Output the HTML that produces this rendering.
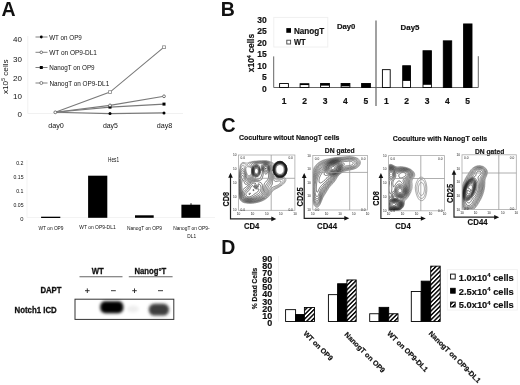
<!DOCTYPE html>
<html><head><meta charset="utf-8"><style>
html,body{margin:0;padding:0;background:#fff;overflow:hidden;}
svg{display:block;filter:grayscale(1);}
text{font-family:"Liberation Sans",sans-serif;fill:#111;}
.b{font-weight:bold;}
.s{stroke:#111;stroke-width:0.3;}
.s2{stroke:#111;stroke-width:0.18;}
</style></head><body>
<svg width="520" height="385" viewBox="0 0 520 385">
<defs>
<pattern id="hatch" patternUnits="userSpaceOnUse" width="3.1" height="3.1" patternTransform="rotate(45)">
<rect width="3.1" height="3.1" fill="#fff"/><rect width="1.45" height="3.1" fill="#000"/>
</pattern>
</defs>

<!-- ============ PANEL A ============ -->
<g id="A">
<text x="1.5" y="15.5" class="b" font-size="19.5">A</text>
<!-- faint axes -->
<path d="M27.8 36V113.5H183" stroke="#f1f1f1" stroke-width="1" fill="none"/>
<!-- y tick labels -->
<g font-size="8" text-anchor="end">
<text x="22" y="42.4">40</text>
<text x="22" y="61.7">30</text>
<text x="22" y="80.5">20</text>
<text x="22" y="99.2">10</text>
<text x="22" y="117.1">0</text>
</g>
<text transform="translate(7.6,94) rotate(-90)" font-size="8" textLength="34.6" lengthAdjust="spacingAndGlyphs">x10<tspan font-size="5" dy="-3">5</tspan><tspan dy="3"> cells</tspan></text>
<!-- legend -->
<g stroke="#6a6a6a" stroke-width="0.85">
<path d="M35.5 37H47.5M35.5 52.3H47.5M35.5 67.5H47.5M35.5 83H47.5"/>
</g>
<circle cx="41.3" cy="37" r="1.4" fill="#000"/>
<circle cx="41.3" cy="52.3" r="1.3" fill="#fff" stroke="#555" stroke-width="0.8"/>
<rect x="39.8" y="66" width="3" height="3" fill="#000"/>
<circle cx="41.3" cy="83" r="1.5" fill="#fff" stroke="#666" stroke-width="0.8"/>
<g font-size="7.5">
<text x="49.2" y="39.7" textLength="32.6" lengthAdjust="spacingAndGlyphs">WT on OP9</text>
<text x="49.2" y="55" textLength="47.8" lengthAdjust="spacingAndGlyphs">WT on OP9-DL1</text>
<text x="49.2" y="70.2" textLength="45.4" lengthAdjust="spacingAndGlyphs">NanogT on OP9</text>
<text x="49.4" y="85.7" textLength="59.8" lengthAdjust="spacingAndGlyphs">NanogT on OP9-DL1</text>
</g>
<!-- data lines -->
<g stroke="#7a7a7a" stroke-width="1.1" fill="none">
<polyline points="55.3,112.3 110,113.6 164,112.9"/>
<polyline points="55.3,112.3 110,105.4 164,96.3"/>
<polyline points="55.3,112.3 110,107.1 164,104.1"/>
<polyline points="55.3,112.3 110,92.1 164,47.2"/>
</g>
<circle cx="110" cy="113.6" r="1.5" fill="#000"/><circle cx="164" cy="112.9" r="1.5" fill="#000"/>
<rect x="108.5" y="105.6" width="3" height="3" fill="#000"/><rect x="162.5" y="102.6" width="3" height="3" fill="#000"/>
<circle cx="110" cy="105.4" r="1.4" fill="#fff" stroke="#555" stroke-width="0.8"/><circle cx="164" cy="96.3" r="1.4" fill="#fff" stroke="#555" stroke-width="0.8"/>
<rect x="108.6" y="90.7" width="2.8" height="2.8" fill="#fff" stroke="#888" stroke-width="0.8"/><rect x="162.6" y="45.8" width="2.8" height="2.8" fill="#fff" stroke="#888" stroke-width="0.8"/>
<circle cx="55.3" cy="112.3" r="1.4" fill="#fff" stroke="#555" stroke-width="0.8"/>
<g font-size="8" text-anchor="middle">
<text x="56" y="128" textLength="15.7" lengthAdjust="spacingAndGlyphs">day0</text>
<text x="110.4" y="128" textLength="15" lengthAdjust="spacingAndGlyphs">day5</text>
<text x="164.5" y="128" textLength="15.6" lengthAdjust="spacingAndGlyphs">day8</text>
</g>
</g>

<!-- ============ HES1 ============ -->
<g id="H">
<path d="M27 160V217.5H215" stroke="#f3f3f3" stroke-width="1" fill="none"/>
<text x="108" y="162.3" font-size="7.2" textLength="11" lengthAdjust="spacingAndGlyphs">Hes1</text>
<g font-size="5.8" text-anchor="end">
<text x="23.5" y="165" textLength="7.3" lengthAdjust="spacingAndGlyphs">0.2</text>
<text x="23.5" y="179" textLength="10" lengthAdjust="spacingAndGlyphs">0.15</text>
<text x="23.5" y="192.8" textLength="7.3" lengthAdjust="spacingAndGlyphs">0.1</text>
<text x="23.5" y="206.7" textLength="10" lengthAdjust="spacingAndGlyphs">0.05</text>
<text x="23.5" y="220.6">0</text>
</g>
<g fill="#000">
<rect x="41.1" y="216.7" width="19.2" height="1.3"/>
<rect x="88.1" y="175.7" width="19.2" height="42.1"/>
<rect x="135" y="215.3" width="18.7" height="2.5"/>
<rect x="181.4" y="204.7" width="18.9" height="13.1"/>
<rect x="190.5" y="203.3" width="1" height="1.6"/>
</g>
<g font-size="5.6" text-anchor="middle">
<text x="51" y="229.5" textLength="25" lengthAdjust="spacingAndGlyphs">WT on OP9</text>
<text x="97.5" y="228.5" textLength="36.3" lengthAdjust="spacingAndGlyphs">WT on OP9-DL1</text>
<text x="144.4" y="229.9" textLength="35" lengthAdjust="spacingAndGlyphs">NanogT on OP9</text>
<text x="191.4" y="229.9" textLength="36.5" lengthAdjust="spacingAndGlyphs">NanogT on OP9-</text>
<text x="191.7" y="237.9" textLength="8.7" lengthAdjust="spacingAndGlyphs">DL1</text>
</g>
</g>

<!-- ============ BLOT ============ -->
<g id="W">
<g font-size="8.5" class="b s">
<text x="91.8" y="273.9" textLength="12" lengthAdjust="spacingAndGlyphs">WT</text>
<text x="134.5" y="273.9" textLength="31.8" lengthAdjust="spacingAndGlyphs">Nanog°T</text>
<text x="40.4" y="292.6" textLength="21.1" lengthAdjust="spacingAndGlyphs">DAPT</text>
<text x="14.5" y="313.2" textLength="42.2" lengthAdjust="spacingAndGlyphs">Notch1 ICD</text>
</g>
<path d="M79.5 276.8H122.5M128.8 276.8H172.6" stroke="#666" stroke-width="1.1"/>
<path d="M85 290.7H89.6M87.3 288.4V293M111 290.7H115.8M132.2 290.7H136.8M134.5 288.4V293M158 290.7H163" stroke="#222" stroke-width="0.9"/>
<rect x="75" y="299.2" width="98.8" height="20.2" fill="#fff" stroke="#333" stroke-width="1"/>
<defs>
<filter id="bl1" x="-30%" y="-50%" width="160%" height="200%"><feGaussianBlur stdDeviation="1.4"/></filter>
</defs>
<rect x="100.3" y="301.3" width="23" height="12" rx="5" fill="#000" filter="url(#bl1)"/>
<rect x="148.8" y="303.8" width="20.2" height="11.8" rx="5.5" fill="#3c3c3c" filter="url(#bl1)"/>
<ellipse cx="133" cy="309" rx="6" ry="3.5" fill="#eee" filter="url(#bl1)"/>
</g>

<!-- ============ PANEL B ============ -->
<g id="B">
<text x="220.8" y="15.8" class="b" font-size="19.5">B</text>
<rect x="273.8" y="17.4" width="54" height="29.6" fill="none" stroke="#f0f0f0" stroke-width="1"/>
<g font-size="8.5" class="b s2" text-anchor="end">
<text x="266.8" y="22.9">30</text>
<text x="266.8" y="34.4">25</text>
<text x="266.8" y="45.9">20</text>
<text x="266.8" y="57.4">15</text>
<text x="266.8" y="68.9">10</text>
<text x="266.8" y="80.4">5</text>
<text x="266.8" y="91.9">0</text>
</g>
<text transform="translate(254.2,72.3) rotate(-90)" font-size="8.5" class="b s2" textLength="38.5" lengthAdjust="spacingAndGlyphs">x10<tspan font-size="5.5" dy="-3">4</tspan><tspan dy="3"> cells</tspan></text>
<rect x="286.3" y="28.1" width="4.7" height="4.7" fill="#000"/>
<rect x="286.8" y="40.2" width="3.8" height="3.8" fill="#fff" stroke="#444" stroke-width="0.9"/>
<g font-size="8.5" class="b s2">
<text x="293.9" y="33.6" textLength="30.3" lengthAdjust="spacingAndGlyphs">NanogT</text>
<text x="293.9" y="44.8" textLength="11.7" lengthAdjust="spacingAndGlyphs">WT</text>
<text x="336.9" y="29.2" font-size="7.8" textLength="18.5" lengthAdjust="spacingAndGlyphs">Day0</text>
<text x="400.6" y="30.2" font-size="7.8" textLength="18.8" lengthAdjust="spacingAndGlyphs">Day5</text>
</g>
<path d="M273.7 56.4V87.5H478.3V56.2" stroke="#666" stroke-width="1" fill="none"/>
<path d="M376 20.4V106" stroke="#555" stroke-width="1.1"/>
<g stroke="#000" stroke-width="0.9">
<!-- day0 -->
<rect x="279.6" y="83.55" width="8.8" height="3.95" fill="#fff"/>
<rect x="300.1" y="83.75" width="8.8" height="3.75" fill="#fff"/>
<rect x="320.6" y="83.45" width="8.8" height="4.05" fill="#fff"/>
<rect x="341.1" y="83.45" width="8.8" height="4.05" fill="#fff"/>
<rect x="361.6" y="83.45" width="8.8" height="4.05" fill="#000"/>
<!-- day5 -->
<rect x="382.4" y="69.65" width="7.8" height="17.85" fill="#fff"/>
<rect x="402.7" y="65.75" width="7.8" height="21.75" fill="#fff"/>
<rect x="423" y="50.75" width="8.4" height="36.75" fill="#fff"/>
<rect x="443.3" y="40.85" width="8.4" height="46.65" fill="#000"/>
<rect x="463.6" y="23.95" width="8.4" height="63.55" fill="#000"/>
</g>
<g fill="#000">
<rect x="300.1" y="83.75" width="8.8" height="1.3"/>
<rect x="320.6" y="83.45" width="8.8" height="2.2"/>
<rect x="341.1" y="83.45" width="8.8" height="2.9"/>
<rect x="402.7" y="65.75" width="7.8" height="15.15"/>
<rect x="423" y="50.75" width="8.4" height="34.05"/>
</g>
<g font-size="8.5" class="b s2" text-anchor="middle">
<text x="284.2" y="104">1</text><text x="304.5" y="104">2</text><text x="325" y="104">3</text><text x="345.3" y="104">4</text><text x="365.8" y="104">5</text>
<text x="386.4" y="104">1</text><text x="406.5" y="104">2</text><text x="427.1" y="104">3</text><text x="447.4" y="104">4</text><text x="467.7" y="104">5</text>
</g>
</g>

<!-- ============ PANEL C ============ -->
<g id="C">
<text x="221.4" y="131.8" class="b" font-size="19.5">C</text>
<g font-size="8" class="b s2">
<text x="239" y="140.3" textLength="100.5" lengthAdjust="spacingAndGlyphs">Coculture witout NanogT cells</text>
<text x="392.7" y="140.6" textLength="94.6" lengthAdjust="spacingAndGlyphs">Coculture with NanogT cells</text>
<text x="324.8" y="153.3" textLength="29.8" lengthAdjust="spacingAndGlyphs">DN gated</text>
<text x="475" y="153.8" textLength="29.4" lengthAdjust="spacingAndGlyphs">DN gated</text>
</g>
<!--CSTART-->
<defs>
<clipPath id="cp0"><rect x="238.5" y="155.0" width="56.4" height="55.3"/></clipPath>
<clipPath id="cp1"><rect x="312.8" y="155.5" width="54.7" height="54.5"/></clipPath>
<clipPath id="cp2"><rect x="388.6" y="155.6" width="55.9" height="55.2"/></clipPath>
<clipPath id="cp3"><rect x="462.0" y="154.8" width="54.3" height="54.8"/></clipPath>
</defs>
<g clip-path="url(#cp0)" fill="none">
<path d="M251.8 203.3L251.0 203.3L250.2 203.3L249.5 203.3L248.8 203.3L248.2 203.2L247.5 203.2L246.8 203.1L246.2 203.0L245.5 202.9L244.8 202.8L244.2 202.7L243.7 202.5L243.0 202.3L242.5 202.0L242.1 201.8L241.7 201.5L241.2 201.1L240.9 200.8L240.5 200.2L240.2 199.9L240.0 199.5L239.7 199.0L239.5 198.5L239.2 198.0L239.0 197.3L238.8 196.8L238.7 196.2L238.5 195.5L238.5 195.0L238.4 194.2L238.3 193.5L238.3 192.8L238.3 192.0L238.3 191.2L238.3 190.5L238.3 189.8L238.3 189.0L238.2 188.3L238.2 187.8L238.2 187.0L238.2 186.2L238.2 185.5L238.1 184.8L238.1 184.0L238.1 183.2L238.1 182.5L238.2 181.8L238.2 181.0L238.2 180.2L238.2 179.7L238.3 179.0L238.3 178.2L238.4 177.5L238.5 176.8L238.5 176.2L238.6 175.5L238.7 174.8L238.8 174.2L238.9 173.5L239.0 172.8L239.1 172.2L239.2 171.5L239.3 171.0L239.4 170.2L239.5 169.8L239.7 169.0L239.8 168.5L239.9 167.8L240.0 167.2L240.1 166.5L240.2 165.8L240.4 165.2L240.5 164.8L240.8 164.2L241.1 163.8L241.5 163.2L241.8 163.0L242.2 162.7L243.0 162.5L243.8 162.5L244.5 162.7L245.0 162.8L245.7 163.0L246.2 163.1L247.0 163.0L247.5 163.0L248.2 162.8L248.8 162.6L249.2 162.4L249.8 162.2L250.5 162.1L251.0 161.9L251.8 161.8L252.2 161.6L253.0 161.5L253.5 161.4L254.2 161.3L254.8 161.2L255.5 161.2L256.2 161.1L257.0 161.0L257.5 161.0L258.2 160.9L259.0 160.9L259.8 160.8L260.5 160.8L261.2 160.8L262.0 160.8L262.5 160.7L263.2 160.7L264.0 160.7L264.8 160.7L265.5 160.7L266.0 160.8L266.8 160.8L267.5 161.0L268.0 161.1L268.7 161.2L269.2 161.4L269.8 161.5L270.3 161.8L271.0 162.0L271.5 162.2L272.0 162.4L272.5 162.7L273.0 163.0L273.4 163.2L273.8 163.6L274.2 163.8L274.7 163.5L275.1 163.2L275.5 162.9L276.0 162.6L276.5 162.3L277.0 162.0L277.5 161.8L278.0 161.6L278.5 161.5L279.2 161.3L280.0 161.3L280.8 161.3L281.4 161.5L282.0 161.7L282.5 161.9L283.0 162.1L283.5 162.4L283.9 162.8L284.2 163.0L284.7 163.5L285.0 163.8L285.3 164.2L285.7 164.8L286.0 165.2L286.2 165.8L286.4 166.2L286.6 166.8L286.7 167.5L286.9 168.0L286.9 168.8L287.0 169.5L287.0 170.2L286.9 171.0L286.8 171.6L286.6 172.2L286.4 172.8L286.2 173.2L286.0 173.8L285.8 174.3L285.5 174.8L285.2 175.2L284.8 175.8L284.5 176.1L284.1 176.5L283.8 177.0L283.6 177.5L284.2 177.7L284.8 178.0L285.2 178.2L285.5 178.5L285.8 179.0L285.9 179.8L285.8 180.5L285.6 181.0L285.4 181.5L285.1 182.0L284.8 182.5L284.5 182.8L284.1 183.2L283.8 183.6L283.4 184.0L283.0 184.3L282.5 184.8L282.2 185.0L281.8 185.4L281.2 185.7L280.8 186.0L280.5 186.2L280.0 186.5L279.5 186.8L279.0 187.1L278.5 187.4L278.0 187.7L277.5 188.0L277.0 188.2L276.5 188.5L276.0 188.8L275.6 189.0L275.1 189.2L274.7 189.5L274.2 189.8L273.8 190.2L273.4 190.5L273.0 190.8L272.6 191.2L272.2 191.6L272.0 192.0L271.6 192.5L271.3 193.0L271.0 193.4L270.8 193.8L270.4 194.2L270.1 194.8L269.8 195.2L269.5 195.5L269.1 196.0L268.8 196.3L268.4 196.8L268.0 197.1L267.6 197.5L267.2 197.8L266.8 198.2L266.3 198.5L266.0 198.8L265.5 199.1L265.0 199.4L264.5 199.7L264.0 200.0L263.5 200.2L263.0 200.5L262.5 200.7L262.0 200.9L261.5 201.1L261.0 201.3L260.5 201.5L259.8 201.8L259.2 201.9L258.8 202.0L258.0 202.2L257.5 202.4L256.9 202.5L256.2 202.6L255.6 202.8L255.0 202.9L254.2 203.0L253.8 203.1L253.0 203.1L252.2 203.2L251.8 203.3M249.4 175.5L250.0 175.3L250.5 175.0L250.8 174.8L251.2 174.2L251.3 173.8L251.4 173.0L251.4 172.2L251.4 171.5L251.4 170.8L251.5 170.0L251.5 169.2L251.4 168.5L251.2 168.0L250.8 167.5L250.2 167.3L249.8 167.1L249.2 167.0L248.5 166.8L248.0 166.7L247.2 166.7L246.8 166.9L246.4 167.2L246.1 167.8L245.9 168.2L245.9 169.0L245.9 169.8L246.0 170.4L246.1 171.0L246.2 171.5L246.5 172.2L246.6 172.8L246.8 173.2L247.0 173.9L247.2 174.4L247.5 174.9L247.8 175.2L248.2 175.5L249.0 175.6L249.4 175.5M252.5 202.8L251.8 202.8L251.0 202.9L250.2 202.9L249.5 202.9L248.8 202.9L248.0 202.8L247.4 202.8L246.8 202.7L246.0 202.5L245.5 202.5L244.8 202.3L244.2 202.2L243.7 202.0L243.1 201.8L242.6 201.5L242.2 201.2L241.8 200.9L241.3 200.5L241.0 200.2L240.7 199.8L240.3 199.2L240.0 198.8L239.8 198.2L239.6 197.8L239.4 197.2L239.2 196.8L239.0 196.0L238.9 195.5L238.8 194.8L238.7 194.2L238.7 193.5L238.7 192.8L238.7 192.0L238.7 191.2L238.7 190.5L238.6 189.8L238.6 189.0L238.6 188.2L238.6 187.5L238.6 186.8L238.5 186.0L238.5 185.2L238.5 184.8L238.5 184.0L238.5 183.2L238.5 182.5L238.5 182.0L238.5 181.2L238.5 180.5L238.6 179.8L238.6 179.0L238.7 178.2L238.7 177.5L238.8 177.0L238.9 176.2L238.9 175.5L239.0 175.0L239.1 174.2L239.2 173.5L239.3 173.0L239.5 172.2L239.6 171.8L239.7 171.0L239.8 170.5L240.0 169.8L240.1 169.2L240.3 168.8L240.4 168.0L240.5 167.5L240.7 166.8L240.8 166.2L241.0 165.6L241.2 165.0L241.5 164.5L241.8 164.2L242.2 163.8L242.8 163.6L243.2 163.5L243.8 163.5L244.5 163.7L245.0 163.9L245.5 164.2L246.0 164.5L246.4 164.8L246.2 165.3L246.0 165.8L245.7 166.2L245.5 166.8L245.3 167.5L245.2 168.0L245.2 168.8L245.3 169.2L245.4 170.0L245.5 170.5L245.7 171.2L245.8 171.8L246.0 172.5L246.1 173.0L246.3 173.5L246.5 174.2L246.7 174.8L246.9 175.2L247.2 175.8L247.5 176.2L247.9 176.5L248.5 176.6L249.2 176.5L249.8 176.3L250.2 176.1L250.8 175.8L251.2 175.5L251.5 175.2L251.7 174.5L251.7 173.8L251.7 173.0L251.6 172.2L251.6 171.5L251.6 170.8L251.7 170.0L251.7 169.2L251.7 168.5L251.6 167.8L251.4 167.2L251.0 167.0L250.5 166.7L250.0 166.5L249.4 166.2L248.9 166.0L248.4 165.8L248.0 165.5L247.5 165.2L247.1 164.8L247.5 164.3L247.8 164.0L248.2 163.7L248.8 163.4L249.2 163.2L249.8 162.9L250.2 162.7L250.9 162.5L251.5 162.3L252.0 162.2L252.8 162.0L253.2 161.9L254.0 161.8L254.5 161.7L255.2 161.6L256.0 161.5L256.5 161.5L257.2 161.4L258.0 161.3L258.8 161.3L259.5 161.3L260.0 161.2L260.8 161.2L261.5 161.2L262.2 161.1L263.0 161.1L263.8 161.1L264.5 161.1L265.2 161.1L266.0 161.1L266.8 161.2L267.2 161.3L268.0 161.5L268.5 161.6L269.0 161.8L269.6 162.0L270.2 162.2L270.8 162.5L271.2 162.7L271.7 163.0L272.1 163.2L272.5 163.6L272.9 164.0L273.2 164.5L273.5 164.8L274.0 164.5L274.3 164.2L274.8 163.8L275.0 163.5L275.5 163.1L275.9 162.8L276.3 162.5L276.8 162.2L277.2 162.0L277.8 161.8L278.5 161.5L279.0 161.4L279.8 161.4L280.5 161.4L281.1 161.5L281.8 161.6L282.2 161.8L282.8 162.1L283.2 162.3L283.8 162.7L284.1 163.0L284.5 163.4L284.9 163.8L285.2 164.2L285.5 164.6L285.8 165.0L286.0 165.5L286.2 166.1L286.5 166.8L286.6 167.2L286.8 167.8L286.9 168.5L286.9 169.2L286.9 170.0L286.8 170.8L286.7 171.2L286.6 172.0L286.4 172.5L286.2 173.0L286.0 173.6L285.8 174.1L285.5 174.5L285.2 175.0L284.8 175.5L284.5 175.9L284.2 176.2L283.8 176.6L283.3 177.0L282.9 177.2L282.5 177.5L282.0 177.9L281.7 178.2L282.2 178.4L283.0 178.5L283.5 178.7L284.0 178.9L284.3 179.2L284.6 179.8L284.7 180.5L284.5 181.2L284.3 181.8L284.0 182.2L283.8 182.6L283.4 183.0L283.0 183.4L282.7 183.8L282.2 184.2L281.9 184.5L281.5 184.8L281.0 185.2L280.5 185.5L280.1 185.8L279.7 186.0L279.2 186.3L278.8 186.6L278.2 186.9L277.8 187.1L277.2 187.4L276.8 187.6L276.2 187.9L275.8 188.1L275.2 188.4L274.8 188.6L274.2 188.9L273.8 189.2L273.3 189.5L273.0 189.8L272.5 190.2L272.2 190.5L271.8 191.0L271.5 191.3L271.2 191.8L270.9 192.2L270.5 192.8L270.2 193.2L270.0 193.6L269.8 194.0L269.4 194.5L269.1 195.0L268.8 195.4L268.5 195.8L268.1 196.2L267.8 196.6L267.3 197.0L267.0 197.3L266.5 197.7L266.2 198.0L265.8 198.3L265.2 198.7L264.8 199.0L264.3 199.2L263.9 199.5L263.4 199.8L263.0 200.0L262.4 200.2L261.9 200.5L261.3 200.8L260.8 201.0L260.2 201.1L259.8 201.3L259.1 201.5L258.5 201.7L258.0 201.8L257.2 202.0L256.8 202.1L256.0 202.2L255.5 202.3L254.8 202.5L254.2 202.5L253.5 202.7L252.8 202.7L252.5 202.8M278.8 178.2L278.4 178.0L277.8 177.8L277.2 177.6L276.8 177.3L276.2 177.2L276.2 177.7L276.5 178.0L277.0 178.3L277.8 178.4L278.5 178.4L278.8 178.2M253.0 202.3L252.2 202.4L251.5 202.4L250.8 202.5L250.0 202.5L249.2 202.5L248.5 202.4L247.8 202.4L247.0 202.3L246.5 202.2L245.8 202.1L245.2 201.9L244.5 201.8L244.0 201.6L243.5 201.4L243.0 201.2L242.5 200.9L242.0 200.5L241.7 200.2L241.2 199.8L241.0 199.5L240.7 199.0L240.4 198.5L240.1 198.0L239.9 197.5L239.7 197.0L239.5 196.3L239.4 195.8L239.2 195.2L239.2 194.5L239.1 193.8L239.1 193.0L239.0 192.2L239.0 191.5L239.0 190.8L239.0 190.0L239.0 189.2L239.0 188.5L239.0 188.0L239.0 187.2L238.9 186.5L238.9 185.8L238.9 185.0L238.9 184.2L238.8 183.5L238.8 182.8L238.9 182.0L238.9 181.2L238.9 180.5L238.9 179.8L239.0 179.0L239.0 178.5L239.1 177.8L239.2 177.0L239.2 176.2L239.3 175.8L239.4 175.0L239.5 174.4L239.6 173.8L239.7 173.0L239.8 172.5L240.0 171.8L240.1 171.2L240.3 170.8L240.5 170.0L240.7 169.5L240.8 169.0L241.0 168.5L241.2 167.8L241.4 167.2L241.6 166.8L241.9 166.2L242.2 165.8L242.5 165.4L243.0 165.1L243.6 165.2L244.0 165.7L244.1 166.2L244.2 167.0L244.2 167.5L244.3 168.2L244.5 169.0L244.6 169.5L244.8 170.0L245.0 170.8L245.1 171.2L245.3 171.8L245.5 172.5L245.6 173.0L245.8 173.5L246.0 174.2L246.1 174.8L246.3 175.2L246.5 175.9L246.8 176.5L247.0 176.9L247.3 177.2L247.8 177.5L248.5 177.6L249.0 177.5L249.7 177.2L250.2 177.0L250.7 176.8L251.2 176.5L251.6 176.2L252.0 175.8L252.1 175.2L252.1 174.5L252.0 173.8L251.9 173.2L251.8 172.5L251.8 171.8L251.8 171.0L251.8 170.2L251.9 169.5L252.0 168.8L252.0 168.2L252.0 167.5L251.9 167.0L251.6 166.5L251.2 166.2L250.8 165.9L250.2 165.6L249.9 165.2L249.6 164.8L249.8 164.2L250.2 163.8L250.5 163.5L251.0 163.2L251.5 163.0L252.2 162.8L252.8 162.6L253.2 162.5L254.0 162.3L254.5 162.2L255.2 162.1L255.9 162.0L256.5 161.9L257.2 161.9L258.0 161.8L258.5 161.8L259.2 161.7L260.0 161.7L260.8 161.6L261.5 161.6L262.2 161.6L263.0 161.5L263.5 161.5L264.2 161.5L265.0 161.5L265.5 161.5L266.2 161.6L267.0 161.7L267.5 161.8L268.2 162.0L268.8 162.2L269.2 162.4L269.8 162.6L270.2 162.9L270.8 163.2L271.1 163.5L271.5 163.8L271.9 164.2L272.2 164.8L272.4 165.2L272.5 166.0L272.5 166.8L272.5 167.5L272.8 167.5L273.0 166.9L273.2 166.3L273.5 165.8L273.8 165.3L274.0 164.9L274.3 164.5L274.7 164.0L275.0 163.7L275.5 163.2L275.8 163.0L276.2 162.6L276.8 162.3L277.2 162.1L277.8 161.9L278.2 161.7L279.0 161.5L279.5 161.5L280.2 161.5L280.8 161.5L281.5 161.7L282.0 161.8L282.5 162.0L283.0 162.3L283.5 162.6L284.0 163.0L284.3 163.2L284.8 163.7L285.0 164.0L285.4 164.5L285.7 165.0L285.9 165.5L286.2 166.0L286.4 166.5L286.5 167.0L286.7 167.8L286.8 168.3L286.8 169.0L286.9 169.8L286.8 170.5L286.7 171.0L286.6 171.8L286.5 172.2L286.2 172.8L286.0 173.4L285.8 173.9L285.5 174.4L285.2 174.8L284.9 175.2L284.5 175.7L284.2 176.0L283.8 176.4L283.4 176.8L283.0 177.0L282.5 177.3L282.0 177.5L281.2 177.7L280.8 177.9L280.0 177.9L279.2 177.9L278.8 177.7L278.0 177.5L277.5 177.3L277.0 177.1L276.5 176.8L276.0 176.5L275.6 176.2L275.2 176.0L274.8 175.7L274.6 176.2L274.6 177.0L274.8 177.7L274.9 178.2L275.1 178.8L275.4 179.2L275.8 179.5L276.5 179.7L277.2 179.7L278.0 179.7L278.8 179.6L279.4 179.5L280.0 179.4L280.8 179.4L281.5 179.5L282.0 179.6L282.5 179.8L283.0 180.2L283.2 180.8L283.1 181.5L282.9 182.0L282.6 182.5L282.2 183.0L282.0 183.3L281.5 183.8L281.2 184.0L280.8 184.4L280.3 184.8L279.9 185.0L279.5 185.3L279.0 185.6L278.5 185.9L278.0 186.1L277.5 186.4L277.0 186.6L276.5 186.9L276.0 187.1L275.5 187.3L275.0 187.5L274.5 187.8L274.0 188.0L273.5 188.3L273.0 188.6L272.5 188.9L272.1 189.2L271.8 189.6L271.4 190.0L271.0 190.4L270.8 190.8L270.5 191.2L270.2 191.8L269.9 192.2L269.6 192.8L269.4 193.2L269.1 193.8L268.8 194.2L268.5 194.7L268.2 195.0L267.9 195.5L267.5 196.0L267.2 196.2L266.8 196.8L266.5 197.0L266.0 197.4L265.6 197.8L265.2 198.0L264.8 198.4L264.2 198.7L263.8 199.0L263.3 199.2L262.9 199.5L262.4 199.8L261.8 200.0L261.2 200.2L260.8 200.4L260.2 200.6L259.8 200.8L259.1 201.0L258.5 201.2L258.0 201.3L257.2 201.5L256.8 201.6L256.1 201.8L255.5 201.9L254.8 202.0L254.2 202.1L253.5 202.2L253.0 202.3" stroke="#5a5a5a" stroke-width="0.55"/>
<path d="M251.2 202.0L250.5 202.0L249.8 202.1L249.0 202.0L248.4 202.0L247.8 201.9L247.0 201.8L246.5 201.7L245.8 201.6L245.2 201.5L244.5 201.2L244.0 201.1L243.5 200.8L243.0 200.6L242.5 200.3L242.2 200.0L241.8 199.6L241.4 199.2L241.1 198.8L240.8 198.3L240.5 197.8L240.2 197.3L240.1 196.8L239.9 196.2L239.8 195.6L239.6 195.0L239.5 194.2L239.5 193.8L239.5 193.0L239.5 192.2L239.5 191.5L239.5 190.8L239.5 190.0L239.4 189.2L239.4 188.5L239.4 187.8L239.4 187.0L239.3 186.2L239.3 185.5L239.3 184.8L239.3 184.0L239.2 183.5L239.2 182.8L239.3 182.2L239.3 181.5L239.3 180.8L239.3 180.0L239.4 179.2L239.4 178.5L239.5 177.8L239.5 177.2L239.6 176.5L239.7 175.8L239.8 175.2L239.9 174.5L240.0 174.0L240.2 173.2L240.3 172.8L240.5 172.1L240.7 171.5L240.9 171.0L241.1 170.5L241.3 170.0L241.6 169.5L241.9 169.0L242.2 168.7L243.0 168.6L243.3 169.0L243.7 169.5L243.9 170.0L244.1 170.5L244.3 171.0L244.5 171.5L244.8 172.1L244.9 172.8L245.1 173.2L245.2 173.8L245.5 174.5L245.6 175.0L245.8 175.6L246.0 176.2L246.1 176.8L246.4 177.2L246.6 177.8L247.0 178.2L247.3 178.5L248.0 178.7L248.8 178.5L249.2 178.3L249.8 178.1L250.2 177.8L250.8 177.6L251.2 177.3L251.8 177.1L252.2 176.8L252.5 176.5L252.7 175.8L252.5 175.0L252.4 174.5L252.3 173.8L252.1 173.2L252.0 172.5L252.0 171.8L252.0 171.2L252.0 170.6L252.0 170.0L252.1 169.2L252.2 168.5L252.3 168.0L252.4 167.2L252.4 166.5L252.2 166.0L251.9 165.5L251.6 165.0L251.7 164.2L252.0 163.9L252.5 163.5L253.0 163.3L253.5 163.1L254.0 163.0L254.8 162.8L255.2 162.7L256.0 162.5L256.5 162.5L257.2 162.4L258.0 162.3L258.8 162.3L259.2 162.2L260.0 162.2L260.8 162.1L261.5 162.1L262.2 162.0L262.8 162.0L263.5 161.9L264.2 161.9L265.0 161.9L265.8 161.9L266.4 162.0L267.0 162.1L267.5 162.3L268.2 162.5L268.8 162.7L269.2 163.0L269.6 163.2L270.0 163.5L270.5 164.0L270.8 164.2L271.1 164.8L271.3 165.2L271.4 166.0L271.5 166.7L271.5 167.2L271.6 168.0L271.7 168.8L271.8 169.2L272.0 169.9L272.2 170.5L272.5 171.0L272.8 171.0L272.8 170.2L272.8 169.5L272.9 168.8L273.0 168.1L273.1 167.5L273.3 167.0L273.5 166.3L273.7 165.8L274.0 165.2L274.2 164.8L274.5 164.5L274.9 164.0L275.2 163.6L275.6 163.2L276.0 162.9L276.5 162.6L277.0 162.3L277.5 162.1L278.0 161.9L278.5 161.7L279.2 161.6L280.0 161.5L280.8 161.6L281.5 161.7L282.0 161.9L282.5 162.1L283.0 162.4L283.5 162.7L283.9 163.0L284.2 163.3L284.7 163.8L285.0 164.1L285.3 164.5L285.6 165.0L285.9 165.5L286.1 166.0L286.3 166.5L286.5 167.2L286.6 167.8L286.7 168.5L286.8 169.0L286.8 169.8L286.7 170.2L286.7 171.0L286.5 171.8L286.4 172.2L286.2 172.8L286.0 173.3L285.8 173.8L285.5 174.2L285.2 174.8L284.8 175.2L284.5 175.6L284.1 176.0L283.8 176.3L283.2 176.7L282.8 177.0L282.2 177.2L281.8 177.4L281.2 177.6L280.5 177.7L279.8 177.7L279.0 177.6L278.5 177.5L277.8 177.2L277.2 177.0L276.8 176.8L276.3 176.5L276.0 176.2L275.5 175.9L275.1 175.5L274.8 175.2L274.4 174.8L274.0 174.3L273.8 174.0L273.4 173.8L273.4 174.5L273.5 175.1L273.6 175.8L273.6 176.5L273.7 177.2L273.7 178.0L273.7 178.8L273.8 179.2L273.9 180.0L274.1 180.5L274.5 181.0L274.9 181.2L275.5 181.4L276.2 181.4L277.0 181.2L277.5 181.2L278.2 181.0L278.8 181.0L279.5 180.9L280.2 181.0L280.8 181.2L281.0 181.6L281.0 182.1L280.8 182.7L280.5 183.1L280.1 183.5L279.8 183.8L279.2 184.2L278.8 184.5L278.4 184.8L278.0 185.0L277.5 185.2L276.9 185.5L276.3 185.8L275.8 186.0L275.2 186.2L274.8 186.4L274.2 186.6L273.8 186.8L273.2 187.0L272.8 187.3L272.2 187.6L271.8 187.9L271.4 188.2L271.0 188.6L270.7 189.0L270.3 189.5L270.0 189.9L269.8 190.4L269.5 190.9L269.2 191.4L269.0 192.0L268.8 192.5L268.6 193.0L268.3 193.5L268.0 194.0L267.8 194.5L267.5 194.9L267.2 195.2L266.8 195.8L266.5 196.1L266.1 196.5L265.8 196.9L265.3 197.2L265.0 197.5L264.5 197.9L264.0 198.2L263.6 198.5L263.1 198.8L262.7 199.0L262.2 199.2L261.7 199.5L261.1 199.8L260.5 200.0L260.0 200.2L259.5 200.4L259.0 200.5L258.2 200.7L257.8 200.9L257.2 201.0L256.5 201.2L256.0 201.3L255.2 201.4L254.8 201.5L254.0 201.6L253.4 201.8L252.8 201.8L252.0 201.9L251.3 202.0L251.2 202.0M280.8 177.5L280.0 177.6L279.2 177.5L278.8 177.4L278.1 177.2L277.5 177.0L277.0 176.8L276.6 176.5L276.2 176.2L275.8 175.9L275.3 175.5L275.0 175.2L274.6 174.8L274.3 174.2L274.0 173.8L273.8 173.3L273.5 172.8L273.3 172.2L273.2 171.8L273.1 171.0L273.0 170.2L273.0 169.5L273.1 168.8L273.2 168.0L273.3 167.5L273.5 166.8L273.6 166.2L273.9 165.8L274.1 165.2L274.4 164.8L274.8 164.3L275.0 164.0L275.5 163.5L275.8 163.2L276.2 162.9L276.8 162.5L277.2 162.3L277.8 162.0L278.2 161.9L278.8 161.7L279.5 161.6L280.2 161.6L281.0 161.7L281.5 161.8L282.0 162.0L282.6 162.2L283.1 162.5L283.5 162.8L284.0 163.2L284.3 163.5L284.8 163.9L285.0 164.3L285.4 164.8L285.7 165.2L285.9 165.8L286.1 166.2L286.3 166.8L286.5 167.5L286.6 168.0L286.7 168.8L286.7 169.5L286.7 170.2L286.6 171.0L286.5 171.5L286.3 172.2L286.1 172.8L285.9 173.2L285.7 173.8L285.4 174.2L285.1 174.8L284.8 175.2L284.5 175.5L284.0 175.9L283.6 176.2L283.2 176.5L282.8 176.9L282.2 177.1L281.8 177.3L281.0 177.5L280.8 177.5M251.5 201.5L250.8 201.6L250.0 201.6L249.2 201.6L248.5 201.6L247.9 201.5L247.2 201.4L246.5 201.3L246.0 201.2L245.4 201.0L244.8 200.8L244.2 200.6L243.8 200.4L243.2 200.1L242.8 199.8L242.4 199.5L242.0 199.1L241.7 198.8L241.3 198.2L241.0 197.8L240.8 197.3L240.5 196.8L240.4 196.2L240.2 195.8L240.1 195.0L240.0 194.4L239.9 193.8L239.9 193.0L239.9 192.2L239.9 191.5L239.9 190.8L239.9 190.0L239.9 189.2L239.9 188.5L239.8 187.8L239.8 187.0L239.8 186.2L239.7 185.8L239.7 185.0L239.7 184.2L239.7 183.5L239.7 182.8L239.7 182.0L239.7 181.2L239.7 180.5L239.8 180.0L239.8 179.2L239.9 178.5L240.0 177.8L240.0 177.2L240.1 176.5L240.2 175.8L240.3 175.2L240.5 174.5L240.6 174.0L240.8 173.5L241.0 172.8L241.2 172.2L241.4 171.8L241.8 171.3L242.0 171.0L242.5 170.7L243.0 170.9L243.4 171.2L243.7 171.8L244.0 172.2L244.2 172.8L244.4 173.2L244.6 173.8L244.8 174.3L245.0 175.0L245.1 175.5L245.2 176.0L245.5 176.8L245.6 177.2L245.8 177.8L246.0 178.3L246.2 178.8L246.6 179.2L247.0 179.6L247.8 179.7L248.5 179.6L249.0 179.3L249.5 179.1L250.0 178.8L250.5 178.6L251.0 178.3L251.5 178.1L252.0 177.9L252.5 177.6L253.0 177.3L253.3 177.0L253.3 176.2L253.1 175.8L253.0 175.2L252.8 174.6L252.6 174.0L252.4 173.5L252.3 172.8L252.2 172.2L252.2 171.5L252.2 170.8L252.2 170.0L252.3 169.5L252.4 168.8L252.5 168.2L252.7 167.5L252.8 167.0L252.9 166.2L253.0 165.8L253.1 165.0L253.4 164.5L253.8 164.1L254.2 163.8L254.8 163.5L255.2 163.4L255.8 163.2L256.5 163.1L257.2 163.0L257.8 163.0L258.5 162.9L259.2 162.9L260.0 162.8L260.5 162.8L261.2 162.7L262.0 162.6L262.8 162.5L263.2 162.5L264.0 162.4L264.8 162.3L265.5 162.3L266.2 162.4L266.8 162.5L267.5 162.7L268.0 162.9L268.5 163.2L269.0 163.5L269.3 163.8L269.8 164.2L270.0 164.5L270.3 165.0L270.5 165.5L270.7 166.2L270.8 166.8L270.8 167.5L270.9 168.2L271.0 168.8L271.1 169.5L271.3 170.0L271.5 170.8L271.6 171.2L271.8 171.8L272.0 172.4L272.2 173.0L272.3 173.5L272.5 174.2L272.6 174.8L272.7 175.5L272.7 176.2L272.7 177.0L272.7 177.8L272.7 178.5L272.6 179.2L272.6 180.0L272.6 180.8L272.5 181.5L272.5 182.2L272.5 182.9L272.5 183.5L272.3 184.2L272.1 184.8L271.8 185.2L271.5 185.6L271.1 186.0L270.8 186.4L270.5 186.8L270.1 187.2L269.8 187.7L269.5 188.1L269.2 188.6L269.0 189.0L268.8 189.6L268.5 190.2L268.3 190.8L268.2 191.2L268.0 191.8L267.8 192.5L267.6 193.0L267.3 193.5L267.1 194.0L266.8 194.5L266.5 195.0L266.2 195.3L265.9 195.8L265.5 196.2L265.2 196.5L264.8 196.9L264.3 197.2L264.0 197.5L263.5 197.8L263.0 198.2L262.5 198.5L262.0 198.7L261.5 199.0L261.0 199.2L260.5 199.4L260.0 199.6L259.5 199.8L258.8 200.0L258.2 200.2L257.8 200.3L257.0 200.5L256.5 200.6L255.9 200.8L255.2 200.9L254.7 201.0L254.0 201.1L253.3 201.2L252.8 201.3L252.0 201.4L251.5 201.5M281.2 177.3L280.5 177.4L279.8 177.4L279.0 177.4L278.5 177.2L277.8 177.0L277.3 176.8L276.8 176.5L276.4 176.2L276.0 175.9L275.5 175.5L275.2 175.2L274.8 174.8L274.5 174.3L274.2 173.9L274.0 173.4L273.8 172.9L273.5 172.2L273.4 171.8L273.3 171.0L273.2 170.5L273.1 169.8L273.2 169.0L273.2 168.4L273.3 167.8L273.5 167.1L273.7 166.5L273.9 166.0L274.1 165.5L274.4 165.0L274.8 164.5L275.0 164.2L275.4 163.8L275.8 163.4L276.2 163.0L276.6 162.8L277.0 162.5L277.5 162.2L278.1 162.0L278.8 161.8L279.3 161.8L280.0 161.7L280.7 161.8L281.2 161.8L281.8 162.0L282.4 162.2L282.9 162.5L283.3 162.8L283.8 163.1L284.2 163.5L284.5 163.8L284.9 164.2L285.2 164.7L285.5 165.1L285.8 165.6L286.0 166.2L286.2 166.8L286.4 167.2L286.5 168.0L286.6 168.5L286.6 169.2L286.6 170.0L286.6 170.8L286.5 171.2L286.3 172.0L286.1 172.5L286.0 173.0L285.7 173.5L285.5 174.0L285.1 174.5L284.8 175.0L284.5 175.3L284.1 175.8L283.8 176.0L283.2 176.4L282.8 176.7L282.2 177.0L281.8 177.2L281.2 177.3M251.2 201.0L250.5 201.1L249.8 201.1L249.0 201.1L248.2 201.1L247.8 201.0L247.0 200.9L246.4 200.8L245.8 200.6L245.2 200.4L244.8 200.2L244.2 200.0L243.7 199.8L243.2 199.5L242.8 199.1L242.4 198.8L242.0 198.3L241.8 198.0L241.4 197.5L241.2 197.0L241.0 196.5L240.8 195.8L240.6 195.2L240.5 194.6L240.4 194.0L240.4 193.2L240.4 192.5L240.4 191.8L240.4 191.0L240.4 190.2L240.4 189.5L240.4 188.8L240.4 188.0L240.4 187.2L240.3 186.5L240.3 185.8L240.2 185.2L240.2 184.5L240.2 183.8L240.2 183.0L240.2 182.2L240.2 181.5L240.2 180.8L240.3 180.2L240.3 179.5L240.4 178.8L240.5 178.0L240.6 177.5L240.7 176.8L240.8 176.2L241.0 175.5L241.1 175.0L241.3 174.5L241.5 173.9L241.8 173.5L242.2 173.0L242.8 172.9L243.2 173.2L243.5 173.6L243.8 174.0L244.0 174.6L244.2 175.2L244.4 175.8L244.6 176.2L244.8 176.9L244.9 177.5L245.1 178.0L245.3 178.5L245.5 179.2L245.8 179.7L246.0 180.2L246.3 180.5L246.8 180.9L247.5 180.9L248.1 180.8L248.6 180.5L249.1 180.2L249.5 180.0L250.0 179.7L250.5 179.4L251.0 179.2L251.5 178.9L252.0 178.7L252.5 178.5L253.1 178.2L253.7 178.0L254.0 177.8L254.2 177.0L254.0 176.5L253.7 176.0L253.4 175.5L253.2 175.0L253.0 174.5L252.8 173.8L252.6 173.2L252.5 172.8L252.4 172.0L252.4 171.2L252.4 170.5L252.4 169.8L252.5 169.2L252.7 168.5L252.8 168.0L253.0 167.4L253.2 166.8L253.4 166.2L253.7 165.8L254.0 165.2L254.2 164.9L254.7 164.5L255.2 164.2L255.8 164.0L256.2 163.9L257.0 163.8L257.8 163.8L258.5 163.8L259.2 163.8L259.8 163.7L260.5 163.6L261.1 163.5L261.8 163.4L262.2 163.2L263.0 163.1L263.5 163.0L264.2 162.9L265.0 162.8L265.8 162.8L266.5 162.9L267.0 163.1L267.5 163.3L268.0 163.5L268.5 163.8L269.0 164.2L269.2 164.6L269.5 165.0L269.8 165.5L270.0 166.2L270.1 166.8L270.2 167.5L270.3 168.0L270.4 168.8L270.5 169.4L270.6 170.0L270.7 170.8L270.8 171.2L271.0 171.9L271.2 172.5L271.3 173.0L271.5 173.8L271.6 174.2L271.7 175.0L271.8 175.5L271.8 176.2L271.8 177.0L271.8 177.8L271.8 178.3L271.7 179.0L271.5 179.8L271.4 180.2L271.3 181.0L271.1 181.5L271.0 182.0L270.8 182.6L270.5 183.2L270.2 183.7L270.0 184.2L269.8 184.6L269.5 185.0L269.2 185.5L268.9 186.0L268.6 186.5L268.3 187.0L268.1 187.5L267.9 188.0L267.7 188.5L267.5 189.1L267.3 189.8L267.2 190.2L267.1 191.0L267.0 191.5L266.8 192.2L266.6 192.8L266.4 193.2L266.2 193.8L265.9 194.2L265.6 194.8L265.3 195.2L265.0 195.6L264.6 196.0L264.2 196.4L263.8 196.8L263.5 197.0L263.0 197.4L262.5 197.7L262.0 198.0L261.5 198.2L261.0 198.5L260.5 198.7L260.0 198.9L259.5 199.1L259.0 199.3L258.4 199.5L257.8 199.7L257.2 199.8L256.5 200.0L256.0 200.1L255.4 200.2L254.8 200.4L254.2 200.5L253.5 200.7L253.0 200.8L252.2 200.9L251.5 201.0L251.2 201.0M280.8 177.3L280.0 177.3L279.2 177.3L278.8 177.2L278.1 177.0L277.5 176.8L277.0 176.5L276.6 176.2L276.2 176.0L275.8 175.6L275.4 175.2L275.0 174.8L274.8 174.4L274.5 174.0L274.2 173.5L273.9 173.0L273.8 172.5L273.5 171.8L273.4 171.2L273.3 170.5L273.3 169.8L273.3 169.0L273.4 168.2L273.5 167.6L273.6 167.0L273.8 166.5L274.0 166.0L274.3 165.5L274.5 165.0L274.9 164.5L275.2 164.0L275.5 163.8L276.0 163.3L276.4 163.0L276.8 162.8L277.2 162.5L277.8 162.2L278.5 162.0L279.0 161.9L279.8 161.8L280.5 161.8L281.2 161.9L281.8 162.1L282.2 162.3L282.8 162.5L283.2 162.8L283.8 163.2L284.1 163.5L284.5 163.9L284.8 164.2L285.2 164.8L285.5 165.2L285.7 165.8L285.9 166.2L286.1 166.8L286.3 167.2L286.4 168.0L286.5 168.5L286.6 169.2L286.6 170.0L286.5 170.5L286.4 171.2L286.2 171.9L286.1 172.5L285.9 173.0L285.6 173.5L285.4 174.0L285.0 174.5L284.8 174.9L284.4 175.2L284.0 175.7L283.6 176.0L283.2 176.3L282.8 176.6L282.2 176.9L281.8 177.0L281.0 177.2L280.8 177.3M251.0 200.5L250.2 200.6L249.5 200.6L248.8 200.6L248.0 200.5L247.5 200.4L246.8 200.3L246.2 200.2L245.7 200.0L245.0 199.8L244.5 199.5L244.0 199.3L243.6 199.0L243.2 198.7L242.8 198.3L242.5 198.0L242.1 197.5L241.8 197.0L241.6 196.5L241.4 196.0L241.2 195.5L241.1 194.8L241.0 194.2L240.9 193.5L240.9 192.8L241.0 192.0L241.0 191.2L241.0 190.8L241.1 190.0L241.1 189.2L241.1 188.5L241.0 187.8L241.0 187.2L241.0 186.5L240.9 185.8L240.9 185.0L240.8 184.2L240.8 183.5L240.8 182.8L240.8 182.0L240.9 181.2L240.9 180.5L241.0 179.8L241.1 179.2L241.2 178.5L241.3 178.0L241.5 177.2L241.6 176.8L241.8 176.2L242.1 175.8L242.5 175.5L243.0 175.6L243.3 176.0L243.6 176.5L243.8 177.0L244.0 177.5L244.2 178.2L244.4 178.8L244.6 179.2L244.8 179.8L245.0 180.5L245.2 181.0L245.5 181.5L245.8 181.9L246.2 182.2L246.8 182.4L247.4 182.2L247.9 182.0L248.3 181.8L248.8 181.5L249.2 181.1L249.8 180.8L250.2 180.5L250.7 180.2L251.1 180.0L251.6 179.8L252.2 179.5L252.8 179.3L253.2 179.1L253.8 178.9L254.4 178.8L255.0 178.5L255.5 178.3L255.9 178.0L255.8 177.5L255.2 177.1L254.9 176.8L254.5 176.3L254.2 176.0L253.8 175.5L253.5 175.0L253.3 174.5L253.1 174.0L252.9 173.5L252.8 172.9L252.6 172.2L252.6 171.5L252.6 170.8L252.6 170.0L252.7 169.2L252.8 168.8L253.0 168.2L253.2 167.5L253.5 167.0L253.7 166.5L254.0 166.1L254.3 165.8L254.8 165.3L255.2 165.0L255.8 164.8L256.2 164.6L257.0 164.6L257.7 164.8L258.2 165.0L258.7 165.2L259.0 165.6L259.3 166.0L259.6 166.5L259.8 167.0L260.0 167.6L260.2 168.2L260.4 168.8L260.6 169.2L260.8 169.9L261.0 170.5L261.2 170.8L261.4 170.2L261.5 169.8L261.5 169.0L261.5 168.2L261.5 167.8L261.4 167.0L261.3 166.2L261.3 165.5L261.5 164.8L261.8 164.5L262.2 164.2L262.8 163.9L263.2 163.7L263.9 163.5L264.5 163.4L265.2 163.3L266.0 163.3L266.7 163.5L267.2 163.7L267.8 164.0L268.1 164.2L268.5 164.6L268.8 165.0L269.1 165.5L269.4 166.0L269.5 166.5L269.7 167.2L269.8 167.8L269.9 168.5L269.9 169.2L270.0 170.0L270.0 170.5L270.1 171.2L270.2 172.0L270.3 172.5L270.5 173.2L270.6 173.8L270.7 174.5L270.8 175.0L270.9 175.8L270.9 176.5L270.9 177.2L270.8 178.0L270.7 178.5L270.6 179.2L270.5 179.8L270.2 180.4L270.0 181.0L269.8 181.5L269.6 182.0L269.3 182.5L269.0 183.0L268.8 183.5L268.5 183.8L268.2 184.2L267.9 184.8L267.6 185.2L267.3 185.8L267.0 186.2L266.8 186.8L266.6 187.2L266.5 187.8L266.3 188.5L266.2 189.0L266.0 189.8L266.0 190.2L265.9 191.0L265.8 191.6L265.6 192.2L265.5 192.8L265.2 193.4L265.0 193.9L264.8 194.4L264.5 194.8L264.1 195.2L263.8 195.7L263.4 196.0L263.0 196.4L262.5 196.8L262.2 197.0L261.8 197.3L261.2 197.6L260.8 197.8L260.2 198.1L259.8 198.3L259.2 198.5L258.5 198.7L258.0 198.9L257.5 199.1L256.8 199.2L256.2 199.4L255.8 199.5L255.0 199.7L254.5 199.8L253.8 200.0L253.2 200.1L252.6 200.2L252.0 200.4L251.2 200.5L251.0 200.5" stroke="#383838" stroke-width="0.6"/>
<path d="M281.2 177.1L280.5 177.2L279.8 177.2L279.0 177.1L278.5 177.0L277.8 176.8L277.3 176.5L276.8 176.2L276.5 176.0L276.0 175.6L275.6 175.2L275.2 174.9L274.9 174.5L274.6 174.0L274.3 173.5L274.1 173.0L273.9 172.5L273.7 172.0L273.5 171.2L273.5 170.8L273.4 170.0L273.4 169.2L273.4 168.5L273.5 168.0L273.7 167.2L273.8 166.8L274.0 166.2L274.2 165.7L274.5 165.2L274.8 164.8L275.2 164.2L275.5 163.9L275.9 163.5L276.2 163.2L276.8 162.9L277.2 162.6L277.8 162.3L278.2 162.2L278.9 162.0L279.5 161.9L280.2 161.9L281.0 162.0L281.5 162.1L282.0 162.3L282.5 162.5L283.0 162.8L283.5 163.1L284.0 163.5L284.2 163.8L284.7 164.2L285.0 164.7L285.2 165.0L285.5 165.5L285.8 166.0L286.0 166.6L286.2 167.2L286.3 167.8L286.4 168.5L286.5 169.2L286.5 170.0L286.4 170.8L286.3 171.5L286.1 172.0L286.0 172.5L285.8 173.0L285.5 173.6L285.2 174.0L284.9 174.5L284.5 175.0L284.2 175.3L283.8 175.8L283.5 176.0L283.0 176.3L282.5 176.6L282.0 176.8L281.5 177.0L281.2 177.1M250.2 200.0L249.5 200.0L248.8 200.0L248.2 200.0L247.5 199.9L246.8 199.8L246.2 199.6L245.8 199.4L245.2 199.2L244.8 199.0L244.2 198.7L243.8 198.3L243.4 198.0L243.0 197.6L242.7 197.2L242.4 196.8L242.1 196.2L241.9 195.8L241.8 195.1L241.6 194.5L241.6 193.8L241.6 193.0L241.6 192.2L241.7 191.5L241.8 190.9L241.8 190.2L241.9 189.5L242.0 188.8L242.0 188.0L241.9 187.2L241.9 186.5L241.8 185.8L241.8 185.0L241.8 184.2L241.7 183.8L241.8 183.2L241.8 182.5L241.9 181.8L242.0 181.0L242.1 180.5L242.2 179.9L242.6 179.5L243.0 179.5L243.3 180.0L243.6 180.5L243.8 181.0L244.0 181.5L244.2 182.1L244.5 182.8L244.7 183.2L245.0 183.7L245.2 184.0L245.8 184.4L246.5 184.3L247.0 184.0L247.4 183.8L247.8 183.5L248.2 183.0L248.6 182.8L249.0 182.4L249.5 182.0L249.8 181.8L250.2 181.5L250.8 181.1L251.2 180.9L251.8 180.6L252.2 180.4L252.8 180.2L253.3 180.0L254.0 179.8L254.5 179.7L255.2 179.5L255.8 179.4L256.5 179.3L257.1 179.2L257.8 179.1L258.4 179.0L259.0 178.8L259.5 178.6L259.9 178.2L260.2 177.9L260.6 177.5L260.8 177.0L261.1 176.5L261.3 176.0L261.5 175.4L261.7 174.8L261.9 174.2L262.1 173.8L262.2 173.0L262.2 172.5L262.3 171.8L262.2 171.2L262.2 170.5L262.1 169.8L262.1 169.0L262.1 168.2L262.1 167.5L262.1 166.8L262.2 166.1L262.4 165.5L262.7 165.0L263.0 164.7L263.5 164.4L264.0 164.1L264.5 164.0L265.2 163.8L266.0 163.9L266.6 164.0L267.2 164.2L267.6 164.5L268.0 164.8L268.4 165.2L268.7 165.8L268.9 166.2L269.1 166.8L269.2 167.4L269.3 168.0L269.4 168.8L269.5 169.5L269.5 170.2L269.4 171.0L269.4 171.8L269.4 172.5L269.5 173.2L269.6 173.8L269.7 174.5L269.8 175.1L269.8 175.8L269.8 176.5L269.8 177.2L269.8 177.8L269.6 178.5L269.5 179.0L269.2 179.7L269.0 180.2L268.8 180.8L268.5 181.2L268.2 181.7L268.0 182.0L267.7 182.5L267.3 183.0L267.0 183.4L266.7 183.8L266.4 184.2L266.1 184.8L265.8 185.2L265.6 185.8L265.4 186.2L265.2 186.9L265.1 187.5L265.0 188.2L264.9 188.8L264.8 189.5L264.8 190.1L264.7 190.8L264.5 191.5L264.4 192.0L264.2 192.7L264.1 193.2L263.8 193.8L263.6 194.2L263.2 194.7L263.0 195.0L262.6 195.5L262.2 195.8L261.8 196.2L261.4 196.5L261.0 196.8L260.5 197.0L260.0 197.3L259.5 197.5L258.9 197.8L258.3 198.0L257.8 198.2L257.2 198.3L256.7 198.5L256.0 198.7L255.5 198.8L254.9 199.0L254.2 199.2L253.8 199.3L253.1 199.5L252.5 199.6L252.0 199.8L251.2 199.9L250.5 200.0L250.2 200.0M257.8 176.5L257.0 176.7L256.2 176.7L255.6 176.5L255.1 176.2L254.8 176.0L254.3 175.5L254.0 175.2L253.7 174.8L253.5 174.2L253.2 173.8L253.0 173.0L252.9 172.5L252.8 171.8L252.8 171.0L252.8 170.2L252.9 169.5L253.0 169.0L253.2 168.3L253.4 167.8L253.7 167.2L254.0 166.8L254.2 166.4L254.6 166.0L255.0 165.7L255.5 165.4L256.2 165.2L256.8 165.2L257.2 165.3L257.8 165.5L258.2 165.9L258.7 166.2L259.0 166.7L259.2 167.1L259.5 167.7L259.7 168.2L259.9 168.8L260.1 169.2L260.2 170.0L260.3 170.5L260.4 171.2L260.4 172.0L260.4 172.8L260.2 173.3L260.0 174.0L259.8 174.5L259.5 175.0L259.2 175.4L258.9 175.8L258.5 176.1L258.0 176.4L257.8 176.5M280.8 177.0L280.0 177.1L279.2 177.0L278.8 176.9L278.1 176.8L277.5 176.5L277.0 176.2L276.6 176.0L276.2 175.7L275.8 175.2L275.5 175.0L275.1 174.5L274.8 174.0L274.5 173.6L274.2 173.1L274.0 172.5L273.8 172.0L273.7 171.5L273.6 170.8L273.5 170.0L273.5 169.5L273.5 169.0L273.6 168.2L273.7 167.5L273.9 167.0L274.0 166.5L274.2 166.0L274.5 165.5L274.8 165.0L275.1 164.5L275.5 164.1L275.8 163.8L276.2 163.4L276.7 163.0L277.1 162.8L277.6 162.5L278.2 162.3L278.8 162.1L279.5 162.0L280.0 162.0L280.5 162.0L281.2 162.1L281.8 162.3L282.3 162.5L282.8 162.8L283.2 163.0L283.8 163.4L284.1 163.8L284.5 164.2L284.8 164.5L285.1 165.0L285.4 165.5L285.7 166.0L285.9 166.5L286.0 167.0L286.2 167.8L286.3 168.2L286.4 169.0L286.4 169.8L286.3 170.5L286.2 171.1L286.1 171.8L286.0 172.2L285.8 172.8L285.5 173.4L285.2 173.8L285.0 174.2L284.6 174.8L284.2 175.2L283.9 175.5L283.5 175.8L283.0 176.2L282.5 176.5L282.0 176.7L281.5 176.9L280.9 177.0L280.8 177.0M251.0 199.3L250.2 199.4L249.5 199.4L248.8 199.4L248.0 199.4L247.4 199.2L246.8 199.1L246.2 198.9L245.8 198.7L245.2 198.5L244.8 198.2L244.2 197.9L243.8 197.5L243.5 197.1L243.2 196.8L242.9 196.2L242.7 195.8L242.5 195.1L242.4 194.5L242.3 193.8L242.3 193.0L242.4 192.2L242.5 191.8L242.7 191.0L242.9 190.5L243.1 190.0L243.3 189.5L243.6 189.0L244.0 188.5L244.3 188.2L244.8 188.0L245.2 187.7L245.8 187.4L246.2 187.0L246.5 186.8L246.9 186.2L247.2 185.9L247.5 185.5L247.9 185.0L248.2 184.6L248.5 184.2L249.0 183.8L249.2 183.4L249.7 183.0L250.0 182.7L250.5 182.4L251.0 182.0L251.4 181.8L251.9 181.5L252.4 181.2L253.0 181.0L253.5 180.9L254.0 180.7L254.8 180.6L255.4 180.5L256.0 180.4L256.8 180.4L257.5 180.4L258.2 180.4L259.0 180.4L259.8 180.3L260.2 180.2L260.9 180.0L261.3 179.8L261.8 179.3L262.0 178.8L262.2 178.2L262.4 177.8L262.5 177.2L262.7 176.5L262.9 176.0L263.0 175.5L263.2 174.8L263.2 174.2L263.3 173.5L263.2 173.0L263.1 172.2L263.0 171.8L262.8 171.0L262.8 170.4L262.7 169.8L262.6 169.0L262.6 168.2L262.7 167.5L262.8 166.9L262.9 166.2L263.1 165.8L263.5 165.3L263.8 165.0L264.2 164.7L264.8 164.5L265.5 164.4L266.2 164.5L266.8 164.6L267.2 164.9L267.6 165.2L268.0 165.7L268.2 166.0L268.5 166.5L268.7 167.2L268.8 167.8L268.9 168.5L269.0 169.2L268.9 170.0L268.9 170.8L268.8 171.4L268.6 172.0L268.5 172.8L268.4 173.2L268.4 174.0L268.4 174.8L268.5 175.5L268.5 176.0L268.5 176.8L268.5 177.2L268.3 178.0L268.2 178.5L268.0 179.0L267.7 179.5L267.4 180.0L267.1 180.5L266.8 180.9L266.4 181.2L266.0 181.6L265.6 182.0L265.2 182.4L264.9 182.8L264.6 183.2L264.4 183.8L264.2 184.3L264.1 185.0L264.0 185.6L263.9 186.2L263.8 187.0L263.8 187.8L263.7 188.2L263.6 189.0L263.5 189.8L263.5 190.2L263.4 191.0L263.2 191.5L263.1 192.2L262.9 192.8L262.7 193.2L262.4 193.8L262.1 194.2L261.8 194.7L261.5 195.0L261.0 195.4L260.6 195.8L260.2 196.0L259.8 196.3L259.2 196.6L258.8 196.8L258.2 197.0L257.6 197.2L257.0 197.5L256.5 197.6L256.0 197.8L255.4 198.0L254.8 198.2L254.2 198.4L253.8 198.5L253.1 198.8L252.5 198.9L252.0 199.1L251.2 199.2L251.0 199.3M257.2 176.1L256.5 176.2L255.8 176.0L255.2 175.8L254.8 175.5L254.5 175.2L254.1 174.8L253.8 174.2L253.5 173.8L253.3 173.2L253.2 172.8L253.0 172.0L253.0 171.4L253.0 170.8L253.0 170.2L253.2 169.5L253.3 169.0L253.5 168.4L253.8 167.8L254.0 167.3L254.2 167.0L254.7 166.5L255.0 166.2L255.5 166.0L256.2 165.8L257.0 165.8L257.5 166.0L258.0 166.3L258.5 166.8L258.8 167.1L259.0 167.5L259.2 168.0L259.5 168.6L259.7 169.2L259.8 169.8L260.0 170.5L260.0 171.0L260.0 171.8L260.0 172.2L259.8 173.0L259.7 173.5L259.5 174.0L259.2 174.5L258.8 175.0L258.5 175.3L258.0 175.7L257.5 176.0L257.2 176.1M256.7 186.8L256.8 186.2L256.5 185.8L256.1 185.8L255.7 186.0L255.8 186.7L256.2 187.0L256.7 186.8M281.2 176.8L280.5 176.9L279.8 177.0L279.0 176.9L278.5 176.8L277.8 176.5L277.3 176.2L276.9 176.0L276.5 175.7L276.0 175.3L275.7 175.0L275.2 174.5L275.0 174.2L274.7 173.8L274.4 173.2L274.2 172.8L274.0 172.1L273.8 171.5L273.7 171.0L273.6 170.2L273.6 169.5L273.6 168.8L273.7 168.0L273.8 167.5L274.0 167.0L274.2 166.3L274.5 165.8L274.8 165.3L275.0 164.9L275.3 164.5L275.7 164.0L276.0 163.7L276.5 163.3L276.9 163.0L277.4 162.8L277.9 162.5L278.5 162.3L279.0 162.2L279.8 162.1L280.5 162.1L281.2 162.2L281.8 162.4L282.2 162.6L282.8 162.8L283.2 163.2L283.7 163.5L284.0 163.8L284.4 164.2L284.8 164.6L285.0 165.0L285.3 165.5L285.6 166.0L285.8 166.5L286.0 167.2L286.1 167.8L286.2 168.5L286.3 169.0L286.3 169.8L286.2 170.4L286.2 171.0L286.0 171.8L285.9 172.2L285.7 172.8L285.4 173.2L285.2 173.8L284.9 174.2L284.5 174.7L284.2 175.0L283.8 175.5L283.4 175.8L283.0 176.1L282.5 176.4L282.0 176.6L281.5 176.8L281.2 176.8M266.2 174.0L265.5 174.1L265.1 173.8L264.8 173.4L264.5 173.0L264.2 172.5L263.9 172.0L263.7 171.5L263.5 171.0L263.3 170.2L263.2 169.8L263.1 169.0L263.1 168.2L263.2 167.5L263.3 167.0L263.5 166.5L263.8 166.0L264.2 165.5L264.7 165.2L265.2 165.1L266.0 165.0L266.6 165.2L267.1 165.5L267.5 165.9L267.8 166.2L268.0 166.8L268.2 167.3L268.4 168.0L268.5 168.8L268.5 169.5L268.4 170.2L268.2 170.8L268.0 171.5L267.8 172.0L267.5 172.5L267.2 172.9L267.0 173.3L266.6 173.8L266.2 174.0M257.2 175.6L256.5 175.7L255.8 175.6L255.2 175.3L254.8 175.0L254.5 174.7L254.1 174.2L253.9 173.8L253.6 173.2L253.5 172.8L253.3 172.0L253.3 171.2L253.3 170.5L253.4 169.8L253.5 169.2L253.8 168.5L254.0 168.0L254.2 167.6L254.5 167.2L255.0 166.8L255.5 166.5L256.0 166.3L256.8 166.3L257.4 166.5L257.8 166.8L258.2 167.2L258.5 167.5L258.8 168.0L259.1 168.5L259.3 169.0L259.5 169.8L259.6 170.2L259.7 171.0L259.7 171.8L259.6 172.5L259.4 173.0L259.2 173.5L259.0 174.0L258.7 174.5L258.2 174.9L257.9 175.2L257.4 175.5L257.2 175.6M251.0 198.5L250.2 198.7L249.5 198.7L248.8 198.7L248.0 198.7L247.2 198.5L246.8 198.4L246.2 198.2L245.8 197.9L245.2 197.6L244.8 197.3L244.5 197.0L244.1 196.5L243.8 196.0L243.5 195.5L243.4 195.0L243.2 194.3L243.2 193.8L243.3 193.2L243.4 192.5L243.6 192.0L243.9 191.5L244.2 191.0L244.5 190.7L245.0 190.2L245.3 190.0L245.8 189.6L246.2 189.2L246.5 189.0L247.0 188.5L247.2 188.2L247.5 187.8L247.9 187.2L248.2 186.8L248.4 186.2L248.7 185.8L249.0 185.4L249.3 185.0L249.6 184.5L250.0 184.1L250.3 183.8L250.8 183.4L251.2 183.0L251.6 182.8L252.1 182.5L252.6 182.2L253.2 182.0L253.8 181.8L254.2 181.7L255.0 181.6L255.8 181.6L256.5 181.6L257.2 181.6L258.0 181.7L258.5 181.8L259.2 182.0L259.8 182.1L260.2 182.3L260.8 182.6L261.2 183.0L261.5 183.3L261.8 183.8L262.1 184.2L262.2 184.9L262.4 185.5L262.4 186.2L262.5 187.0L262.4 187.8L262.4 188.5L262.3 189.2L262.2 189.8L262.1 190.5L262.0 191.0L261.8 191.8L261.6 192.2L261.4 192.8L261.1 193.2L260.8 193.7L260.5 194.0L260.0 194.5L259.7 194.8L259.2 195.1L258.8 195.4L258.2 195.7L257.8 195.9L257.2 196.1L256.8 196.4L256.2 196.6L255.8 196.8L255.2 197.0L254.6 197.2L254.0 197.5L253.5 197.7L253.0 197.9L252.5 198.1L252.0 198.3L251.2 198.5L251.0 198.5M256.8 187.5L257.2 187.1L257.5 186.7L257.5 186.0L257.3 185.5L257.0 185.2L256.5 185.0L255.9 185.0L255.5 185.2L255.1 185.8L255.0 186.2L255.1 186.8L255.4 187.2L255.8 187.5L256.5 187.6L256.8 187.5M280.8 176.8L280.0 176.8L279.2 176.8L278.8 176.7L278.1 176.5L277.5 176.2L277.1 176.0L276.7 175.8L276.2 175.4L275.8 175.0L275.5 174.6L275.2 174.2L274.9 173.8L274.6 173.2L274.3 172.8L274.2 172.2L274.0 171.7L273.8 171.0L273.8 170.2L273.7 169.8L273.7 169.0L273.8 168.5L273.9 167.8L274.0 167.2L274.2 166.6L274.5 166.0L274.7 165.5L275.0 165.1L275.2 164.7L275.6 164.2L276.0 163.9L276.4 163.5L276.8 163.2L277.2 162.9L277.8 162.7L278.3 162.5L279.0 162.3L279.5 162.2L280.2 162.2L280.8 162.3L281.5 162.4L282.0 162.6L282.5 162.8L283.0 163.1L283.5 163.5L283.8 163.8L284.2 164.2L284.5 164.5L284.9 165.0L285.2 165.5L285.4 166.0L285.7 166.5L285.8 167.0L286.0 167.7L286.1 168.2L286.2 169.0L286.2 169.8L286.1 170.5L286.0 171.2L285.9 171.8L285.7 172.2L285.5 172.9L285.2 173.4L285.0 173.8L284.7 174.2L284.3 174.8L284.0 175.1L283.6 175.5L283.2 175.8L282.8 176.1L282.2 176.3L281.8 176.5L281.0 176.7L280.8 176.8M266.2 172.1L265.5 172.1L265.0 171.9L264.6 171.5L264.2 171.0L264.0 170.6L263.8 170.0L263.7 169.5L263.6 168.8L263.7 168.0L263.8 167.5L264.0 166.9L264.2 166.5L264.8 166.0L265.2 165.8L265.8 165.7L266.2 165.8L266.8 166.1L267.2 166.5L267.5 166.9L267.8 167.5L267.9 168.0L268.0 168.8L267.9 169.5L267.8 170.2L267.6 170.8L267.3 171.2L267.0 171.6L266.5 172.0L266.2 172.1M257.2 175.0L256.5 175.2L255.8 175.1L255.2 174.8L254.9 174.5L254.5 174.1L254.2 173.7L254.0 173.2L253.8 172.5L253.6 172.0L253.6 171.2L253.6 170.5L253.7 169.8L253.8 169.2L254.0 168.8L254.3 168.2L254.6 167.8L255.0 167.4L255.5 167.0L256.0 166.8L256.8 166.8L257.2 167.0L257.8 167.3L258.2 167.8L258.5 168.2L258.8 168.7L259.0 169.2L259.1 169.8L259.2 170.4L259.3 171.0L259.3 171.8L259.2 172.2L259.0 173.0L258.8 173.5L258.5 174.0L258.2 174.3L257.8 174.7L257.3 175.0L257.2 175.0M250.5 197.8L249.8 197.9L249.0 197.9L248.2 197.9L247.6 197.8L247.0 197.6L246.5 197.3L246.0 197.1L245.6 196.8L245.2 196.4L244.9 196.0L244.6 195.5L244.5 195.0L244.4 194.2L244.4 193.5L244.6 193.0L244.9 192.5L245.2 192.0L245.5 191.7L245.9 191.2L246.2 191.0L246.8 190.5L247.1 190.2L247.5 189.8L247.8 189.5L248.2 189.0L248.5 188.6L248.8 188.2L249.0 187.7L249.3 187.2L249.5 186.8L249.8 186.2L250.1 185.8L250.5 185.2L250.8 184.9L251.2 184.5L251.5 184.2L252.0 183.8L252.5 183.6L253.0 183.4L253.5 183.2L254.2 183.1L255.0 183.1L255.5 183.3L255.5 183.8L255.1 184.2L254.8 184.7L254.5 185.2L254.4 185.8L254.4 186.5L254.6 187.0L254.9 187.5L255.2 187.8L255.8 188.1L256.5 188.2L257.2 188.0L257.6 187.8L258.0 187.3L258.2 186.9L258.4 186.2L258.4 185.5L258.2 184.8L258.0 184.2L258.0 183.9L258.8 183.9L259.2 184.1L259.8 184.5L260.0 184.8L260.4 185.2L260.6 185.8L260.8 186.2L260.9 187.0L261.0 187.8L261.0 188.5L260.9 189.2L260.8 190.0L260.6 190.5L260.4 191.0L260.2 191.5L260.0 192.0L259.6 192.5L259.2 193.0L259.0 193.2L258.5 193.7L258.1 194.0L257.7 194.2L257.2 194.5L256.8 194.8L256.2 195.0L255.8 195.3L255.2 195.5L254.8 195.8L254.2 196.1L253.8 196.4L253.2 196.6L252.8 196.9L252.2 197.1L251.8 197.4L251.2 197.5L250.5 197.8L250.5 197.8M281.2 176.5L280.5 176.7L279.8 176.7L279.0 176.6L278.5 176.5L277.9 176.2L277.4 176.0L276.9 175.8L276.5 175.4L276.0 175.0L275.8 174.7L275.4 174.2L275.0 173.8L274.8 173.3L274.5 172.8L274.3 172.2L274.1 171.8L274.0 171.2L273.9 170.5L273.8 169.8L273.9 169.0L273.9 168.2L274.0 167.8L274.2 167.0L274.4 166.5L274.6 166.0L274.9 165.5L275.2 165.0L275.5 164.6L275.8 164.2L276.2 163.8L276.6 163.5L277.0 163.2L277.5 163.0L278.0 162.7L278.7 162.5L279.2 162.4L280.0 162.3L280.8 162.4L281.2 162.5L282.0 162.8L282.5 163.0L282.9 163.2L283.3 163.5L283.8 163.9L284.1 164.2L284.5 164.7L284.8 165.0L285.0 165.5L285.3 166.0L285.5 166.5L285.8 167.2L285.9 167.8L286.0 168.3L286.1 169.0L286.1 169.8L286.0 170.5L286.0 171.0L285.8 171.8L285.6 172.2L285.4 172.8L285.2 173.2L284.9 173.8L284.6 174.2L284.2 174.6L283.9 175.0L283.5 175.4L283.0 175.8L282.6 176.0L282.1 176.2L281.5 176.5L281.2 176.5M266.2 170.9L265.5 170.9L265.0 170.6L264.7 170.2L264.4 169.8L264.3 169.0L264.3 168.2L264.5 167.5L264.8 167.1L265.1 166.8L265.8 166.6L266.4 166.8L266.8 167.0L267.1 167.5L267.2 168.0L267.3 168.8L267.2 169.5L267.1 170.0L266.8 170.5L266.4 170.8L266.2 170.9M257.0 174.5L256.2 174.6L255.8 174.5L255.2 174.2L254.8 173.8L254.5 173.3L254.2 172.8L254.1 172.2L254.0 171.8L253.9 171.0L254.0 170.3L254.1 169.8L254.3 169.2L254.5 168.8L254.8 168.2L255.2 167.8L255.8 167.6L256.2 167.4L256.9 167.5L257.4 167.8L257.8 168.1L258.1 168.5L258.4 169.0L258.6 169.5L258.8 170.0L258.9 170.8L258.9 171.5L258.8 172.2L258.6 172.8L258.4 173.2L258.1 173.8L257.8 174.1L257.2 174.4L257.0 174.5M249.8 196.8L249.0 196.9L248.2 196.8L247.8 196.7L247.2 196.4L246.8 196.1L246.4 195.8L246.1 195.2L245.9 194.8L245.9 194.0L246.0 193.5L246.3 193.0L246.7 192.5L247.0 192.2L247.5 191.8L247.8 191.5L248.2 191.1L248.6 190.8L249.0 190.4L249.3 190.0L249.7 189.5L250.0 189.0L250.2 188.5L250.5 188.0L250.7 187.5L251.0 187.0L251.2 186.6L251.5 186.2L252.0 185.8L252.5 185.6L253.1 185.8L253.4 186.2L253.6 186.8L253.9 187.2L254.2 187.8L254.5 188.1L255.0 188.4L255.5 188.7L256.0 188.9L256.8 188.9L257.5 188.9L258.2 188.8L258.8 189.0L258.9 189.8L258.7 190.2L258.5 190.8L258.2 191.2L257.8 191.8L257.5 192.0L257.0 192.4L256.5 192.8L256.1 193.0L255.7 193.2L255.2 193.5L254.8 193.8L254.2 194.2L253.8 194.5L253.5 194.8L253.0 195.1L252.5 195.5L252.1 195.8L251.8 196.0L251.2 196.3L250.8 196.5L250.0 196.7L249.8 196.8M280.5 176.5L279.8 176.5L279.2 176.5L278.5 176.3L278.0 176.1L277.5 175.9L277.0 175.6L276.5 175.2L276.2 175.0L275.8 174.5L275.5 174.2L275.2 173.8L274.9 173.2L274.6 172.8L274.4 172.2L274.2 171.6L274.1 171.0L274.0 170.2L274.0 169.8L274.0 169.0L274.0 168.5L274.2 167.8L274.3 167.2L274.5 166.6L274.8 166.1L275.0 165.6L275.2 165.2L275.6 164.8L276.0 164.3L276.3 164.0L276.8 163.6L277.2 163.3L277.7 163.0L278.2 162.8L278.8 162.6L279.5 162.5L280.0 162.5L280.5 162.5L281.2 162.7L281.8 162.8L282.2 163.0L282.8 163.3L283.2 163.6L283.7 164.0L284.0 164.3L284.4 164.8L284.7 165.2L285.0 165.7L285.2 166.2L285.5 166.8L285.6 167.2L285.8 167.8L285.9 168.5L286.0 169.2L286.0 170.0L285.9 170.8L285.8 171.4L285.6 172.0L285.4 172.5L285.2 173.0L284.9 173.5L284.6 174.0L284.2 174.4L284.0 174.8L283.5 175.2L283.1 175.5L282.7 175.8L282.2 176.0L281.7 176.2L281.0 176.4L280.5 176.5M265.8 169.3L265.4 169.0L265.5 168.2L266.0 168.1L266.2 168.8L266.0 169.2L265.8 169.3M256.8 173.8L256.1 173.8L255.6 173.5L255.2 173.2L254.9 172.8L254.7 172.2L254.5 171.5L254.5 170.8L254.7 170.0L254.8 169.5L255.1 169.0L255.5 168.6L256.0 168.3L256.8 168.3L257.2 168.6L257.6 169.0L257.9 169.5L258.1 170.0L258.3 170.5L258.3 171.2L258.2 171.9L258.1 172.5L257.8 173.0L257.5 173.3L257.0 173.7L256.8 173.8M253.8 190.6L253.0 190.5L252.8 190.0L253.1 189.5L253.5 189.5L254.0 189.9L254.0 190.5L253.8 190.6M249.5 194.5L249.0 194.5L248.9 193.8L249.2 193.4L249.8 193.2L250.4 193.2L250.3 194.0L250.0 194.3L249.5 194.5M281.0 176.3L280.2 176.4L279.5 176.4L278.9 176.2L278.2 176.1L277.8 175.9L277.2 175.6L276.8 175.2L276.5 175.0L276.0 174.5L275.7 174.2L275.4 173.8L275.1 173.2L274.8 172.8L274.6 172.2L274.4 171.8L274.3 171.0L274.2 170.5L274.1 169.8L274.1 169.0L274.2 168.2L274.3 167.8L274.5 167.1L274.7 166.5L274.9 166.0L275.2 165.5L275.5 165.1L275.8 164.8L276.2 164.2L276.5 164.0L277.0 163.6L277.5 163.3L278.0 163.1L278.5 162.9L279.0 162.8L279.8 162.7L280.5 162.7L281.0 162.8L281.8 163.0L282.2 163.2L282.8 163.5L283.1 163.8L283.5 164.0L284.0 164.5L284.2 164.8L284.6 165.2L284.9 165.8L285.1 166.2L285.3 166.8L285.5 167.3L285.7 168.0L285.8 168.5L285.8 169.2L285.8 170.0L285.8 170.6L285.6 171.2L285.5 171.8L285.2 172.5L285.0 173.0L284.8 173.5L284.5 173.9L284.2 174.2L283.8 174.8L283.5 175.0L283.0 175.4L282.5 175.7L282.0 176.0L281.5 176.1L281.0 176.3M281.2 176.0L280.5 176.1L279.8 176.2L279.0 176.1L278.5 175.9L278.0 175.8L277.5 175.5L277.0 175.2L276.5 174.8L276.2 174.5L275.8 174.0L275.5 173.6L275.2 173.2L275.0 172.7L274.8 172.1L274.5 171.5L274.4 171.0L274.3 170.2L274.3 169.5L274.3 168.8L274.4 168.0L274.6 167.5L274.8 166.9L275.0 166.3L275.2 165.8L275.5 165.4L275.8 165.0L276.2 164.5L276.5 164.2L277.0 163.8L277.5 163.5L278.0 163.3L278.5 163.1L279.0 163.0L279.8 162.9L280.5 162.9L281.2 163.0L281.8 163.2L282.2 163.4L282.8 163.7L283.2 164.0L283.5 164.3L284.0 164.8L284.2 165.1L284.5 165.5L284.8 166.0L285.0 166.5L285.2 167.0L285.5 167.8L285.6 168.2L285.6 169.0L285.7 169.8L285.6 170.5L285.5 171.1L285.3 171.8L285.2 172.2L284.9 172.8L284.7 173.2L284.4 173.8L284.0 174.2L283.7 174.5L283.2 175.0L282.9 175.2L282.5 175.5L282.0 175.8L281.3 176.0L281.2 176.0M281.2 175.8L280.5 175.9L279.8 175.9L279.0 175.8L278.5 175.7L278.0 175.5L277.5 175.2L277.0 174.9L276.5 174.5L276.2 174.2L275.9 173.8L275.5 173.2L275.2 172.8L275.0 172.2L274.8 171.8L274.7 171.2L274.6 170.5L274.5 169.8L274.5 169.2L274.5 168.8L274.6 168.0L274.8 167.5L275.0 166.8L275.2 166.3L275.5 165.8L275.8 165.4L276.1 165.0L276.5 164.5L276.8 164.2L277.2 163.9L277.8 163.6L278.2 163.4L278.8 163.2L279.5 163.1L280.2 163.1L281.0 163.2L281.5 163.3L282.0 163.5L282.5 163.8L283.0 164.2L283.4 164.5L283.8 164.8L284.1 165.2L284.4 165.8L284.7 166.2L284.9 166.8L285.1 167.2L285.2 167.8L285.4 168.5L285.5 169.2L285.4 170.0L285.4 170.8L285.2 171.3L285.0 172.0L284.8 172.5L284.6 173.0L284.3 173.5L284.0 173.9L283.7 174.2L283.2 174.7L282.8 175.0L282.4 175.2L282.0 175.5L281.3 175.8L281.2 175.8M281.0 175.5L280.2 175.6L279.5 175.6L278.9 175.5L278.2 175.3L277.8 175.1L277.3 174.8L276.9 174.5L276.5 174.1L276.2 173.8L275.8 173.2L275.5 172.8L275.3 172.2L275.1 171.8L275.0 171.2L274.8 170.5L274.8 169.8L274.8 169.5L274.8 168.8L274.9 168.0L275.0 167.5L275.2 166.9L275.5 166.3L275.8 165.9L276.0 165.5L276.4 165.0L276.8 164.7L277.2 164.3L277.7 164.0L278.2 163.8L278.8 163.6L279.2 163.4L280.0 163.4L280.8 163.5L281.2 163.6L281.8 163.8L282.3 164.0L282.8 164.3L283.2 164.7L283.5 165.0L283.9 165.5L284.2 166.0L284.5 166.4L284.7 167.0L284.9 167.5L285.0 168.0L285.2 168.8L285.2 169.5L285.2 170.2L285.0 171.0L284.9 171.5L284.8 172.0L284.5 172.6L284.2 173.0L283.9 173.5L283.5 174.0L283.2 174.3L282.8 174.7L282.3 175.0L281.8 175.2L281.2 175.5L281.0 175.5M281.2 175.0L280.5 175.2L279.8 175.2L279.0 175.1L278.5 174.9L278.0 174.7L277.5 174.4L277.0 174.0L276.7 173.8L276.3 173.2L276.0 172.8L275.8 172.3L275.5 171.8L275.3 171.2L275.2 170.8L275.1 170.0L275.1 169.2L275.2 168.5L275.3 168.0L275.5 167.3L275.7 166.8L276.0 166.2L276.2 165.8L276.5 165.5L277.0 165.0L277.3 164.8L277.8 164.4L278.2 164.2L278.8 164.0L279.5 163.8L280.2 163.8L281.0 163.9L281.5 164.1L282.0 164.3L282.5 164.6L282.9 165.0L283.2 165.3L283.6 165.8L284.0 166.2L284.2 166.8L284.4 167.2L284.6 167.8L284.8 168.4L284.8 169.0L284.8 169.8L284.8 170.5L284.7 171.0L284.5 171.6L284.2 172.2L284.0 172.7L283.8 173.1L283.4 173.5L283.0 174.0L282.7 174.2L282.2 174.6L281.8 174.8L281.2 175.0M281.0 174.3L280.2 174.4L279.5 174.4L278.9 174.2L278.2 174.0L277.8 173.8L277.5 173.5L277.0 173.0L276.8 172.7L276.5 172.2L276.2 171.8L276.0 171.1L275.9 170.5L275.8 169.8L275.8 169.0L275.9 168.2L276.1 167.8L276.2 167.2L276.5 166.7L276.8 166.2L277.2 165.8L277.5 165.5L278.0 165.2L278.5 164.9L279.0 164.7L279.8 164.6L280.5 164.7L281.0 164.8L281.6 165.0L282.0 165.2L282.5 165.6L282.9 166.0L283.2 166.5L283.5 166.9L283.8 167.4L283.9 168.0L284.0 168.5L284.1 169.2L284.1 170.0L284.0 170.8L283.9 171.2L283.7 171.8L283.4 172.2L283.1 172.8L282.8 173.2L282.4 173.5L282.0 173.8L281.5 174.1L281.0 174.3" stroke="#1e1e1e" stroke-width="0.6"/>
</g>
<rect x="238.5" y="155.0" width="56.4" height="55.3" fill="none" stroke="#aaa" stroke-width="0.8"/>
<path d="M271.2 155.0V210.3M238.5 178.3H294.9" stroke="#999" stroke-width="0.8"/>
<path d="M230.5 176.8V218.9H272.3" stroke="#222" stroke-width="1.2" fill="none"/>
<path d="M230.5 172.8L228.2 177.8L232.8 177.8Z" fill="#111"/>
<path d="M276.3 218.9L271.3 216.6L271.3 221.2Z" fill="#111"/>
<text transform="translate(229.0,199.3) rotate(-90)" class="b s2" font-size="9" text-anchor="middle" textLength="14.4" lengthAdjust="spacingAndGlyphs">CD8</text>
<text x="251.7" y="228.7" class="b s2" font-size="9" text-anchor="middle" textLength="15.4" lengthAdjust="spacingAndGlyphs">CD4</text>
<g font-size="3.2" fill="#888" style="fill:#999"><text x="233.0" y="211.3">10</text><text x="238.5" y="214.8" text-anchor="middle">10</text><text x="233.0" y="197.5">10</text><text x="252.6" y="214.8" text-anchor="middle">10</text><text x="233.0" y="183.7">10</text><text x="266.7" y="214.8" text-anchor="middle">10</text><text x="233.0" y="169.8">10</text><text x="280.8" y="214.8" text-anchor="middle">10</text><text x="233.0" y="156.0">10</text><text x="294.9" y="214.8" text-anchor="middle">10</text></g>
<g font-size="3.2" style="fill:#999"><text x="240.5" y="159.0">0.0</text><text x="292.9" y="159.0" text-anchor="end">0.0</text><text x="240.5" y="211.1">0.0</text><text x="292.9" y="211.1" text-anchor="end">0.0</text></g>
<g clip-path="url(#cp1)" fill="none">
<path d="M317.3 207.3L316.6 207.3L316.1 207.1L315.6 206.8L315.2 206.5L314.8 206.1L314.5 205.8L314.2 205.2L313.9 204.8L313.6 204.2L313.3 203.8L313.1 203.2L312.9 202.8L312.7 202.2L312.4 201.8L312.2 201.2L312.1 200.7L311.8 200.1L311.6 199.5L311.4 199.0L311.2 198.5L311.1 197.9L310.8 197.2L310.7 196.8L310.6 196.2L310.4 195.5L310.3 195.0L310.1 194.2L310.0 193.8L309.9 193.0L309.8 192.4L309.7 191.8L309.7 191.0L309.6 190.2L309.6 189.5L309.6 188.8L309.6 188.0L309.6 187.2L309.6 186.5L309.7 185.8L309.7 185.0L309.8 184.4L309.9 183.8L310.0 183.0L310.1 182.5L310.2 181.8L310.3 181.0L310.4 180.5L310.5 179.8L310.6 179.2L310.8 178.6L310.9 178.0L311.1 177.5L311.2 176.8L311.3 176.2L311.5 175.5L311.6 175.0L311.8 174.4L312.0 173.8L312.1 173.2L312.3 172.5L312.4 172.0L312.6 171.5L312.8 170.9L313.0 170.2L313.2 169.8L313.4 169.2L313.6 168.8L313.8 168.2L314.1 167.8L314.4 167.2L314.7 166.8L315.0 166.2L315.3 165.9L315.6 165.5L316.0 165.0L316.3 164.7L316.7 164.2L317.1 163.9L317.5 163.5L317.8 163.2L318.3 162.9L318.8 162.5L319.1 162.2L319.6 162.0L320.1 161.7L320.6 161.4L321.1 161.1L321.6 160.9L322.1 160.6L322.6 160.4L323.1 160.2L323.7 160.0L324.3 159.8L324.8 159.7L325.6 159.5L326.1 159.4L326.7 159.2L327.3 159.1L327.9 159.0L328.6 158.9L329.2 158.8L329.8 158.6L330.4 158.5L331.1 158.4L331.7 158.2L332.3 158.1L333.0 158.0L333.6 157.9L334.3 157.8L334.8 157.7L335.6 157.6L336.3 157.5L336.8 157.4L337.6 157.4L338.3 157.3L339.1 157.3L339.6 157.2L340.3 157.2L341.1 157.1L341.8 157.1L342.6 157.0L343.1 157.0L343.8 156.9L344.6 156.8L345.3 156.8L345.9 156.8L346.6 156.7L347.3 156.7L348.1 156.6L348.8 156.6L349.6 156.6L350.3 156.6L351.1 156.7L351.8 156.7L352.3 156.8L353.1 156.9L353.6 157.0L354.3 157.1L354.8 157.3L355.5 157.5L356.1 157.7L356.6 157.9L357.1 158.1L357.6 158.4L358.1 158.7L358.4 159.0L358.8 159.3L359.3 159.8L359.6 160.1L359.8 160.5L360.1 161.0L360.3 161.6L360.4 162.2L360.4 163.0L360.3 163.7L360.1 164.2L359.9 164.8L359.6 165.2L359.3 165.7L359.0 166.0L358.6 166.5L358.3 166.8L357.8 167.1L357.3 167.5L356.9 167.8L356.5 168.0L356.0 168.2L355.4 168.5L354.8 168.8L354.3 168.9L353.8 169.1L353.3 169.3L352.6 169.5L352.1 169.6L351.3 169.7L350.8 169.8L350.1 170.0L349.6 170.1L348.8 170.2L348.3 170.3L347.6 170.5L347.1 170.6L346.3 170.7L345.8 170.9L345.3 171.0L344.6 171.2L344.1 171.4L343.6 171.7L343.1 171.9L342.6 172.2L342.1 172.5L341.7 172.8L341.3 173.0L340.8 173.4L340.3 173.8L340.0 174.0L339.6 174.4L339.2 174.8L338.8 175.2L338.5 175.5L338.1 176.0L337.8 176.4L337.6 176.8L337.2 177.2L336.9 177.8L336.6 178.2L336.3 178.8L336.1 179.2L335.8 179.6L335.5 180.0L335.2 180.5L334.8 181.0L334.6 181.4L334.3 181.8L333.8 182.2L333.6 182.6L333.2 183.0L332.8 183.4L332.5 183.8L332.1 184.2L331.8 184.5L331.3 185.0L331.1 185.3L330.6 185.8L330.3 186.1L330.0 186.5L329.6 187.0L329.3 187.4L329.0 187.8L328.7 188.2L328.3 188.8L328.1 189.2L327.8 189.5L327.5 190.0L327.2 190.5L326.9 191.0L326.6 191.5L326.3 192.0L326.1 192.4L325.8 192.9L325.6 193.3L325.2 193.8L324.9 194.2L324.6 194.8L324.3 195.2L324.1 195.7L323.8 196.1L323.6 196.5L323.3 197.0L323.0 197.5L322.8 198.0L322.5 198.5L322.3 199.0L322.1 199.6L321.8 200.2L321.6 200.8L321.4 201.2L321.2 201.8L321.0 202.2L320.8 202.8L320.5 203.2L320.3 203.8L320.1 204.3L319.8 204.8L319.5 205.2L319.2 205.8L318.8 206.2L318.6 206.5L318.1 206.9L317.6 207.2L317.3 207.3M317.6 206.3L316.8 206.5L316.1 206.2L315.7 206.0L315.3 205.7L314.9 205.2L314.6 204.8L314.3 204.4L314.1 204.0L313.8 203.5L313.5 203.0L313.3 202.5L313.1 201.9L312.8 201.3L312.6 200.8L312.4 200.2L312.2 199.8L312.1 199.2L311.8 198.5L311.6 198.0L311.5 197.5L311.3 196.8L311.2 196.2L311.0 195.8L310.8 195.0L310.7 194.5L310.6 193.8L310.5 193.2L310.4 192.5L310.3 191.8L310.3 191.2L310.2 190.5L310.1 189.8L310.1 189.0L310.1 188.2L310.1 187.5L310.2 186.8L310.2 186.0L310.2 185.2L310.3 184.7L310.4 184.0L310.5 183.2L310.6 182.7L310.7 182.0L310.8 181.2L310.9 180.8L311.0 180.0L311.1 179.5L311.3 178.8L311.4 178.2L311.6 177.6L311.7 177.0L311.8 176.5L312.0 175.8L312.2 175.2L312.3 174.7L312.5 174.0L312.6 173.5L312.8 173.0L313.0 172.2L313.2 171.8L313.3 171.2L313.6 170.6L313.8 170.0L314.0 169.5L314.2 169.0L314.5 168.5L314.7 168.0L315.0 167.5L315.3 167.0L315.6 166.7L315.9 166.2L316.2 165.8L316.6 165.4L316.9 165.0L317.3 164.6L317.7 164.2L318.1 163.9L318.5 163.5L318.8 163.2L319.3 162.9L319.8 162.6L320.3 162.3L320.7 162.0L321.2 161.8L321.7 161.5L322.2 161.2L322.8 161.0L323.3 160.8L323.8 160.6L324.3 160.5L325.1 160.3L325.6 160.1L326.1 160.0L326.8 159.8L327.3 159.7L328.1 159.5L328.6 159.4L329.3 159.2L329.8 159.1L330.3 159.0L331.1 158.8L331.6 158.7L332.3 158.6L332.8 158.5L333.6 158.3L334.1 158.2L334.8 158.1L335.6 158.0L336.1 158.0L336.8 157.9L337.6 157.8L338.3 157.8L338.8 157.7L339.6 157.7L340.3 157.7L341.1 157.6L341.8 157.6L342.6 157.6L343.3 157.5L343.8 157.5L344.6 157.4L345.3 157.4L346.1 157.3L346.7 157.2L347.3 157.2L348.1 157.2L348.8 157.2L349.6 157.2L350.3 157.2L351.1 157.2L351.6 157.3L352.3 157.4L353.1 157.5L353.6 157.6L354.3 157.8L354.8 157.9L355.3 158.1L355.8 158.3L356.3 158.5L356.8 158.8L357.3 159.1L357.8 159.4L358.2 159.8L358.6 160.2L358.8 160.5L359.1 161.0L359.4 161.5L359.5 162.2L359.6 162.8L359.5 163.2L359.4 164.0L359.2 164.5L358.9 165.0L358.6 165.5L358.3 165.8L357.9 166.2L357.6 166.6L357.1 167.0L356.6 167.2L356.2 167.5L355.8 167.8L355.2 168.0L354.6 168.2L354.1 168.5L353.6 168.6L353.1 168.8L352.3 169.0L351.8 169.1L351.1 169.2L350.6 169.4L349.8 169.5L349.3 169.6L348.6 169.7L348.1 169.8L347.3 169.9L346.8 170.1L346.1 170.2L345.6 170.4L345.1 170.5L344.3 170.8L343.8 171.0L343.3 171.2L342.8 171.5L342.4 171.8L342.0 172.0L341.6 172.3L341.1 172.7L340.6 173.0L340.3 173.3L339.8 173.7L339.5 174.0L339.1 174.4L338.6 174.8L338.3 175.1L337.9 175.5L337.6 175.9L337.3 176.2L336.9 176.8L336.6 177.2L336.3 177.7L336.1 178.1L335.8 178.5L335.5 179.0L335.2 179.5L334.9 180.0L334.6 180.5L334.3 180.8L334.0 181.2L333.6 181.8L333.3 182.1L332.9 182.5L332.6 182.9L332.2 183.2L331.8 183.7L331.5 184.0L331.1 184.5L330.8 184.8L330.4 185.2L330.1 185.6L329.7 186.0L329.3 186.5L329.1 186.8L328.7 187.2L328.4 187.8L328.1 188.2L327.8 188.5L327.5 189.0L327.2 189.5L326.9 190.0L326.6 190.5L326.3 190.9L326.1 191.3L325.8 191.8L325.5 192.2L325.2 192.8L324.9 193.2L324.6 193.8L324.3 194.2L324.1 194.6L323.8 195.0L323.5 195.5L323.2 196.0L322.9 196.5L322.7 197.0L322.4 197.5L322.2 198.0L322.0 198.5L321.8 199.0L321.6 199.6L321.3 200.2L321.1 200.8L320.9 201.2L320.7 201.8L320.5 202.2L320.3 202.8L320.1 203.3L319.8 203.8L319.5 204.2L319.2 204.8L318.9 205.2L318.6 205.6L318.1 206.0L317.7 206.2L317.6 206.3M317.1 205.5L316.6 205.5L316.0 205.2L315.6 204.9L315.1 204.5L314.8 204.1L314.6 203.7L314.3 203.2L314.0 202.8L313.8 202.2L313.5 201.8L313.3 201.2L313.1 200.5L312.9 200.0L312.7 199.5L312.5 199.0L312.3 198.3L312.1 197.8L312.0 197.2L311.8 196.5L311.7 196.0L311.6 195.5L311.4 194.8L311.3 194.2L311.1 193.5L311.1 192.9L311.0 192.2L310.9 191.5L310.8 190.8L310.8 190.2L310.7 189.5L310.7 188.8L310.7 188.0L310.7 187.2L310.7 186.5L310.8 185.8L310.8 185.2L310.9 184.5L311.0 183.8L311.1 183.1L311.1 182.5L311.2 181.8L311.3 181.2L311.5 180.5L311.6 180.0L311.7 179.2L311.8 178.8L312.0 178.0L312.1 177.5L312.3 176.9L312.5 176.2L312.6 175.8L312.8 175.1L313.0 174.5L313.1 174.0L313.3 173.4L313.5 172.8L313.7 172.2L313.8 171.8L314.1 171.2L314.3 170.5L314.5 170.0L314.7 169.5L315.0 169.0L315.2 168.5L315.5 168.0L315.8 167.6L316.1 167.2L316.3 166.8L316.7 166.2L317.1 165.9L317.4 165.5L317.8 165.1L318.1 164.8L318.6 164.4L319.0 164.0L319.3 163.8L319.8 163.4L320.3 163.1L320.8 162.8L321.2 162.5L321.7 162.2L322.2 162.0L322.8 161.8L323.3 161.5L323.8 161.4L324.3 161.2L324.9 161.0L325.6 160.8L326.1 160.6L326.6 160.5L327.3 160.3L327.8 160.2L328.4 160.0L329.1 159.8L329.6 159.7L330.2 159.5L330.8 159.3L331.3 159.2L332.1 159.0L332.6 158.9L333.3 158.8L333.8 158.7L334.6 158.6L335.1 158.5L335.8 158.4L336.6 158.3L337.3 158.3L337.9 158.2L338.6 158.2L339.3 158.2L340.1 158.2L340.8 158.2L341.6 158.2L342.3 158.2L343.1 158.1L343.8 158.1L344.6 158.0L345.1 158.0L345.8 157.9L346.6 157.9L347.3 157.8L348.1 157.8L348.8 157.8L349.6 157.8L350.3 157.8L351.1 157.8L351.8 157.9L352.5 158.0L353.1 158.1L353.7 158.2L354.3 158.4L354.8 158.6L355.3 158.8L355.8 159.0L356.3 159.3L356.8 159.6L357.2 160.0L357.6 160.3L357.9 160.8L358.2 161.2L358.5 161.8L358.6 162.2L358.7 163.0L358.6 163.8L358.4 164.2L358.1 164.8L357.8 165.2L357.6 165.6L357.2 166.0L356.8 166.3L356.3 166.7L355.8 167.0L355.4 167.2L354.9 167.5L354.3 167.8L353.8 168.0L353.3 168.1L352.8 168.3L352.1 168.5L351.6 168.6L350.8 168.7L350.3 168.8L349.6 169.0L349.1 169.0L348.3 169.2L347.8 169.3L347.1 169.4L346.5 169.5L345.8 169.7L345.3 169.8L344.7 170.0L344.1 170.2L343.6 170.5L343.1 170.8L342.7 171.0L342.3 171.3L341.8 171.6L341.3 172.0L341.0 172.2L340.6 172.6L340.1 173.0L339.7 173.2L339.3 173.6L338.9 174.0L338.6 174.3L338.1 174.8L337.8 175.0L337.3 175.5L337.1 175.8L336.7 176.2L336.3 176.7L336.1 177.1L335.8 177.5L335.4 178.0L335.1 178.5L334.8 179.0L334.6 179.4L334.3 179.8L334.0 180.2L333.6 180.8L333.3 181.2L333.0 181.5L332.6 182.0L332.3 182.3L331.9 182.8L331.6 183.2L331.2 183.5L330.8 184.0L330.5 184.2L330.1 184.8L329.8 185.1L329.4 185.5L329.1 185.9L328.8 186.2L328.4 186.8L328.1 187.2L327.8 187.5L327.5 188.0L327.1 188.5L326.8 189.0L326.6 189.4L326.3 189.8L326.0 190.2L325.7 190.8L325.4 191.2L325.1 191.8L324.8 192.2L324.6 192.6L324.3 193.0L324.0 193.5L323.7 194.0L323.4 194.5L323.1 195.0L322.8 195.5L322.6 196.0L322.3 196.5L322.1 197.0L321.9 197.5L321.7 198.0L321.5 198.5L321.3 199.0L321.1 199.6L320.8 200.2L320.6 200.8L320.4 201.2L320.2 201.8L320.0 202.2L319.8 202.8L319.5 203.2L319.2 203.8L318.9 204.2L318.6 204.6L318.2 205.0L317.8 205.3L317.2 205.5L317.1 205.5" stroke="#5a5a5a" stroke-width="0.55"/>
<path d="M317.1 204.5L316.6 204.5L316.0 204.2L315.6 203.9L315.2 203.5L314.8 203.0L314.6 202.5L314.3 202.1L314.1 201.6L313.8 201.0L313.6 200.5L313.4 200.0L313.2 199.5L313.1 198.9L312.8 198.2L312.7 197.8L312.6 197.2L312.4 196.5L312.2 196.0L312.1 195.2L312.0 194.8L311.8 194.0L311.7 193.5L311.6 192.8L311.6 192.2L311.5 191.5L311.4 190.8L311.3 190.0L311.3 189.2L311.3 188.8L311.3 188.0L311.3 187.2L311.3 186.8L311.3 186.0L311.4 185.2L311.5 184.5L311.5 183.8L311.6 183.2L311.7 182.5L311.8 181.9L311.9 181.2L312.1 180.5L312.2 180.0L312.3 179.4L312.4 178.8L312.6 178.2L312.7 177.5L312.9 177.0L313.1 176.4L313.2 175.8L313.4 175.2L313.6 174.7L313.8 174.0L313.9 173.5L314.1 173.0L314.3 172.5L314.6 171.8L314.8 171.2L315.0 170.8L315.2 170.2L315.4 169.8L315.7 169.2L315.9 168.8L316.2 168.2L316.6 167.8L316.8 167.4L317.1 167.0L317.5 166.5L317.8 166.1L318.2 165.8L318.6 165.4L318.9 165.0L319.3 164.7L319.8 164.3L320.2 164.0L320.6 163.8L321.1 163.4L321.6 163.2L322.1 162.9L322.6 162.6L323.1 162.4L323.6 162.2L324.1 162.0L324.7 161.8L325.3 161.6L325.8 161.4L326.3 161.2L327.0 161.0L327.6 160.8L328.1 160.6L328.6 160.5L329.3 160.2L329.8 160.1L330.3 159.9L331.0 159.8L331.6 159.6L332.1 159.5L332.8 159.3L333.3 159.2L334.1 159.0L334.6 159.0L335.3 158.9L336.1 158.8L336.7 158.8L337.3 158.7L338.1 158.7L338.8 158.7L339.6 158.7L340.3 158.7L340.8 158.8L341.6 158.8L342.3 158.8L343.1 158.8L343.6 158.7L344.3 158.7L345.1 158.7L345.8 158.6L346.6 158.5L347.1 158.5L347.8 158.4L348.6 158.4L349.3 158.4L350.1 158.4L350.8 158.5L351.3 158.5L352.1 158.6L352.8 158.7L353.3 158.9L353.8 159.0L354.4 159.2L355.0 159.5L355.5 159.8L355.9 160.0L356.3 160.3L356.7 160.8L357.1 161.1L357.3 161.5L357.6 162.2L357.7 162.8L357.6 163.5L357.5 164.0L357.3 164.5L357.0 165.0L356.6 165.5L356.3 165.8L355.8 166.2L355.3 166.5L354.9 166.8L354.4 167.0L353.8 167.2L353.3 167.5L352.8 167.6L352.3 167.8L351.6 168.0L351.1 168.1L350.3 168.2L349.8 168.3L349.1 168.4L348.4 168.5L347.8 168.6L347.1 168.7L346.6 168.8L345.8 169.0L345.3 169.1L344.8 169.3L344.3 169.5L343.8 169.8L343.3 170.0L342.8 170.3L342.3 170.7L341.9 171.0L341.6 171.3L341.1 171.7L340.7 172.0L340.3 172.3L339.8 172.7L339.5 173.0L339.1 173.4L338.6 173.8L338.3 174.0L337.8 174.5L337.5 174.8L337.1 175.2L336.7 175.5L336.3 175.9L336.0 176.2L335.6 176.8L335.3 177.2L335.1 177.5L334.7 178.0L334.4 178.5L334.1 179.0L333.8 179.4L333.6 179.8L333.2 180.2L332.8 180.8L332.6 181.1L332.2 181.5L331.8 182.0L331.6 182.3L331.1 182.8L330.8 183.1L330.4 183.5L330.1 183.9L329.7 184.2L329.3 184.7L329.1 185.0L328.6 185.5L328.3 185.9L328.0 186.2L327.6 186.8L327.3 187.2L327.1 187.6L326.7 188.0L326.4 188.5L326.1 189.0L325.8 189.4L325.6 189.8L325.3 190.2L324.9 190.8L324.6 191.2L324.3 191.8L324.1 192.2L323.8 192.6L323.5 193.0L323.2 193.5L323.0 194.0L322.7 194.5L322.4 195.0L322.2 195.5L322.0 196.0L321.7 196.5L321.5 197.0L321.3 197.6L321.1 198.2L320.9 198.8L320.7 199.2L320.5 199.8L320.3 200.2L320.1 200.9L319.8 201.4L319.6 202.0L319.3 202.4L319.1 202.9L318.8 203.2L318.4 203.8L318.1 204.1L317.6 204.4L317.1 204.5M317.6 203.3L316.8 203.4L316.2 203.2L315.8 203.0L315.4 202.5L315.1 202.1L314.8 201.7L314.6 201.2L314.3 200.7L314.1 200.1L313.8 199.5L313.7 199.0L313.5 198.5L313.3 197.8L313.1 197.2L313.0 196.8L312.8 196.0L312.7 195.5L312.6 194.8L312.5 194.2L312.3 193.5L312.3 193.0L312.2 192.2L312.1 191.5L312.0 191.0L312.0 190.2L311.9 189.5L311.9 188.8L311.9 188.0L311.9 187.2L311.9 186.5L312.0 185.8L312.0 185.0L312.1 184.5L312.2 183.8L312.3 183.0L312.3 182.5L312.4 181.8L312.6 181.2L312.7 180.5L312.8 179.9L312.9 179.2L313.1 178.8L313.3 178.0L313.4 177.5L313.6 176.9L313.7 176.2L313.9 175.8L314.1 175.2L314.3 174.5L314.5 174.0L314.7 173.5L314.8 173.0L315.1 172.4L315.3 171.8L315.5 171.2L315.8 170.8L316.0 170.2L316.3 169.8L316.5 169.2L316.8 168.8L317.1 168.4L317.3 168.0L317.7 167.5L318.1 167.1L318.3 166.8L318.8 166.2L319.1 166.0L319.6 165.5L319.9 165.2L320.3 164.9L320.8 164.5L321.2 164.2L321.7 164.0L322.1 163.8L322.6 163.5L323.1 163.2L323.6 163.0L324.1 162.8L324.7 162.5L325.3 162.3L325.8 162.1L326.3 161.9L326.8 161.7L327.3 161.5L327.9 161.2L328.6 161.0L329.1 160.8L329.6 160.6L330.1 160.5L330.7 160.2L331.3 160.1L331.8 159.9L332.6 159.8L333.1 159.6L333.8 159.5L334.3 159.4L335.1 159.3L335.6 159.2L336.3 159.2L337.1 159.2L337.8 159.2L338.6 159.2L339.3 159.2L339.8 159.3L340.6 159.3L341.3 159.4L342.1 159.4L342.8 159.5L343.6 159.5L344.3 159.5L345.1 159.4L345.8 159.4L346.6 159.3L347.1 159.2L347.8 159.2L348.6 159.2L349.3 159.1L350.1 159.2L350.8 159.2L351.3 159.3L352.1 159.4L352.6 159.5L353.3 159.7L353.8 159.9L354.3 160.1L354.8 160.4L355.3 160.8L355.6 161.0L356.0 161.5L356.3 162.0L356.5 162.5L356.5 163.2L356.3 164.0L356.1 164.5L355.8 164.9L355.5 165.2L355.1 165.7L354.6 166.0L354.2 166.2L353.7 166.5L353.1 166.8L352.6 166.9L352.1 167.1L351.4 167.2L350.8 167.4L350.2 167.5L349.6 167.6L348.8 167.7L348.3 167.8L347.6 167.9L346.8 168.0L346.3 168.1L345.7 168.2L345.1 168.4L344.6 168.6L344.1 168.9L343.6 169.2L343.1 169.5L342.7 169.8L342.3 170.1L341.8 170.5L341.5 170.8L341.1 171.2L340.7 171.5L340.3 171.8L339.8 172.2L339.5 172.5L339.1 172.9L338.6 173.2L338.3 173.5L337.8 174.0L337.5 174.2L337.1 174.6L336.6 175.0L336.3 175.3L335.8 175.8L335.6 176.0L335.1 176.5L334.8 176.9L334.5 177.2L334.1 177.8L333.8 178.2L333.6 178.6L333.3 179.0L332.9 179.5L332.6 180.0L332.3 180.4L332.0 180.8L331.6 181.2L331.3 181.6L331.0 182.0L330.6 182.4L330.3 182.8L329.8 183.2L329.6 183.5L329.1 184.0L328.8 184.4L328.5 184.8L328.1 185.2L327.8 185.5L327.4 186.0L327.1 186.5L326.8 186.8L326.5 187.2L326.1 187.8L325.8 188.2L325.6 188.6L325.3 189.0L324.9 189.5L324.6 190.0L324.3 190.5L324.1 190.8L323.8 191.2L323.5 191.8L323.2 192.2L322.9 192.8L322.6 193.2L322.3 193.8L322.1 194.2L321.9 194.8L321.6 195.2L321.4 195.8L321.2 196.2L321.0 196.8L320.8 197.4L320.6 198.0L320.4 198.5L320.2 199.0L320.0 199.5L319.8 200.0L319.6 200.6L319.3 201.1L319.1 201.6L318.8 202.0L318.5 202.5L318.1 202.9L317.6 203.2L317.6 203.3M317.6 202.0L316.8 202.2L316.3 202.0L315.8 201.6L315.5 201.2L315.1 200.8L314.9 200.2L314.6 199.8L314.4 199.2L314.2 198.8L314.1 198.2L313.8 197.5L313.7 197.0L313.6 196.5L313.4 195.8L313.3 195.2L313.1 194.5L313.1 194.0L312.9 193.2L312.8 192.5L312.8 192.0L312.7 191.2L312.6 190.5L312.6 189.8L312.6 189.0L312.6 188.2L312.6 187.5L312.6 186.8L312.6 186.0L312.7 185.2L312.7 184.5L312.8 184.0L312.9 183.2L313.0 182.5L313.1 182.0L313.2 181.2L313.3 180.7L313.5 180.0L313.6 179.5L313.7 178.8L313.9 178.2L314.1 177.6L314.2 177.0L314.4 176.5L314.6 176.0L314.8 175.2L315.0 174.8L315.1 174.2L315.3 173.8L315.6 173.2L315.8 172.6L316.1 172.0L316.3 171.5L316.5 171.0L316.8 170.5L317.1 170.0L317.3 169.6L317.6 169.2L317.8 168.8L318.2 168.2L318.6 167.8L318.8 167.5L319.3 167.0L319.6 166.7L320.0 166.2L320.3 166.0L320.8 165.6L321.3 165.2L321.6 165.0L322.1 164.7L322.6 164.4L323.1 164.1L323.6 163.9L324.1 163.6L324.6 163.4L325.1 163.1L325.6 162.9L326.1 162.6L326.6 162.4L327.1 162.2L327.6 161.9L328.1 161.7L328.6 161.5L329.2 161.2L329.8 161.0L330.3 160.8L330.8 160.7L331.3 160.5L332.1 160.3L332.6 160.1L333.2 160.0L333.8 159.9L334.6 159.8L335.1 159.7L335.8 159.6L336.6 159.6L337.3 159.6L338.1 159.6L338.8 159.7L339.4 159.8L340.1 159.8L340.8 160.0L341.3 160.0L342.1 160.2L342.7 160.2L343.3 160.3L344.1 160.3L344.8 160.3L345.6 160.3L346.1 160.2L346.8 160.2L347.6 160.1L348.3 160.1L349.1 160.0L349.8 160.0L350.6 160.1L351.3 160.2L351.8 160.3L352.6 160.5L353.1 160.7L353.6 160.9L354.1 161.2L354.4 161.5L354.8 162.0L355.0 162.5L355.1 163.0L355.1 163.7L354.8 164.2L354.6 164.6L354.2 165.0L353.8 165.3L353.3 165.6L352.8 165.9L352.3 166.1L351.8 166.3L351.1 166.5L350.6 166.6L349.8 166.7L349.3 166.8L348.6 166.9L347.8 167.0L347.3 167.0L346.6 167.1L346.0 167.2L345.3 167.4L344.8 167.6L344.3 167.9L343.8 168.2L343.4 168.5L343.1 168.8L342.6 169.2L342.2 169.5L341.8 169.9L341.4 170.2L341.1 170.6L340.6 171.0L340.3 171.3L339.8 171.8L339.6 172.0L339.1 172.4L338.7 172.8L338.3 173.1L337.8 173.5L337.5 173.8L337.1 174.1L336.6 174.5L336.3 174.8L335.8 175.1L335.4 175.5L335.1 175.8L334.6 176.2L334.3 176.6L333.9 177.0L333.6 177.4L333.3 177.8L333.0 178.2L332.6 178.8L332.3 179.2L332.1 179.5L331.7 180.0L331.3 180.5L331.1 180.8L330.7 181.2L330.3 181.7L330.0 182.0L329.6 182.5L329.3 182.8L328.9 183.2L328.6 183.6L328.2 184.0L327.8 184.5L327.6 184.8L327.1 185.2L326.8 185.7L326.5 186.0L326.1 186.5L325.8 187.0L325.6 187.3L325.2 187.8L324.9 188.2L324.6 188.7L324.3 189.1L324.0 189.5L323.7 190.0L323.4 190.5L323.1 191.0L322.8 191.4L322.6 191.8L322.3 192.3L322.1 192.8L321.8 193.3L321.6 193.8L321.3 194.4L321.1 195.0L320.9 195.5L320.7 196.0L320.5 196.5L320.3 197.1L320.1 197.8L319.9 198.2L319.7 198.8L319.5 199.2L319.3 199.8L319.0 200.2L318.7 200.8L318.4 201.2L318.1 201.6L317.6 202.0L317.6 202.0M317.1 200.8L316.6 200.7L316.1 200.4L315.7 200.0L315.4 199.5L315.1 199.0L314.9 198.5L314.7 198.0L314.5 197.5L314.3 196.8L314.2 196.2L314.1 195.7L313.9 195.0L313.8 194.5L313.7 193.8L313.6 193.0L313.5 192.5L313.4 191.8L313.4 191.0L313.3 190.2L313.3 189.8L313.3 189.0L313.3 188.2L313.3 187.5L313.3 186.8L313.3 186.2L313.4 185.5L313.4 184.8L313.5 184.0L313.6 183.5L313.7 182.8L313.8 182.0L313.9 181.5L314.0 180.8L314.1 180.2L314.3 179.5L314.4 179.0L314.6 178.5L314.8 177.8L314.9 177.2L315.1 176.8L315.3 176.0L315.5 175.5L315.7 175.0L315.9 174.5L316.1 174.0L316.3 173.5L316.6 172.9L316.8 172.4L317.1 171.8L317.3 171.4L317.6 170.9L317.8 170.5L318.1 170.0L318.4 169.5L318.8 169.0L319.1 168.7L319.4 168.2L319.8 167.8L320.1 167.5L320.6 167.0L320.9 166.8L321.3 166.4L321.8 166.0L322.1 165.8L322.6 165.5L323.1 165.1L323.6 164.8L324.0 164.5L324.4 164.2L324.9 164.0L325.3 163.7L325.8 163.5L326.3 163.2L326.8 162.9L327.3 162.6L327.8 162.4L328.3 162.1L328.8 161.9L329.3 161.7L329.8 161.5L330.3 161.2L331.0 161.0L331.6 160.8L332.1 160.7L332.7 160.5L333.3 160.4L333.9 160.2L334.6 160.1L335.3 160.1L336.1 160.0L336.8 160.0L337.6 160.0L338.3 160.1L339.1 160.2L339.6 160.3L340.3 160.5L340.8 160.6L341.3 160.8L342.1 161.0L342.6 161.1L343.1 161.3L343.8 161.4L344.4 161.5L345.1 161.5L345.8 161.5L346.3 161.5L347.1 161.4L347.8 161.3L348.3 161.2L349.1 161.2L349.8 161.2L350.3 161.3L351.1 161.4L351.6 161.5L352.1 161.8L352.6 162.1L353.0 162.5L353.2 163.0L353.1 163.8L352.8 164.2L352.5 164.5L352.1 164.8L351.6 165.0L351.0 165.2L350.3 165.4L349.8 165.5L349.1 165.6L348.3 165.7L347.7 165.8L347.1 165.8L346.3 165.9L345.8 166.0L345.2 166.2L344.7 166.5L344.3 166.8L343.8 167.2L343.4 167.5L343.1 167.9L342.7 168.2L342.3 168.7L342.0 169.0L341.6 169.5L341.3 169.8L340.8 170.2L340.6 170.5L340.1 171.0L339.8 171.3L339.3 171.8L339.0 172.0L338.6 172.4L338.2 172.8L337.8 173.1L337.3 173.5L336.9 173.8L336.6 174.0L336.1 174.4L335.6 174.8L335.3 175.0L334.8 175.4L334.4 175.8L334.1 176.0L333.6 176.5L333.3 176.8L332.8 177.2L332.6 177.6L332.2 178.0L331.9 178.5L331.6 178.9L331.3 179.3L330.9 179.8L330.6 180.2L330.3 180.5L329.9 181.0L329.6 181.4L329.3 181.8L328.8 182.2L328.6 182.5L328.1 183.0L327.8 183.4L327.5 183.8L327.1 184.2L326.8 184.5L326.4 185.0L326.1 185.4L325.8 185.8L325.4 186.2L325.1 186.6L324.8 187.0L324.4 187.5L324.1 188.0L323.8 188.3L323.5 188.8L323.2 189.2L322.8 189.8L322.6 190.2L322.3 190.6L322.1 191.1L321.8 191.5L321.6 192.0L321.3 192.6L321.1 193.1L320.8 193.8L320.6 194.2L320.4 194.8L320.3 195.2L320.1 195.8L319.8 196.5L319.6 197.0L319.5 197.5L319.3 198.0L319.0 198.5L318.8 199.0L318.5 199.5L318.2 200.0L317.8 200.4L317.3 200.7L317.1 200.8" stroke="#383838" stroke-width="0.6"/>
<path d="M317.6 198.8L316.8 199.0L316.3 198.7L315.9 198.2L315.6 197.8L315.3 197.2L315.1 196.8L315.0 196.2L314.8 195.6L314.7 195.0L314.6 194.5L314.4 193.8L314.3 193.0L314.2 192.5L314.2 191.8L314.1 191.0L314.1 190.2L314.0 189.8L314.0 189.0L314.0 188.2L314.0 187.5L314.1 187.0L314.1 186.2L314.2 185.5L314.2 184.8L314.3 184.2L314.4 183.5L314.5 182.8L314.6 182.2L314.7 181.5L314.8 181.0L315.0 180.2L315.1 179.8L315.3 179.0L315.4 178.5L315.6 178.0L315.8 177.2L315.9 176.8L316.1 176.2L316.3 175.7L316.6 175.1L316.8 174.5L317.0 174.0L317.2 173.5L317.5 173.0L317.7 172.5L318.0 172.0L318.3 171.5L318.6 171.1L318.8 170.7L319.1 170.2L319.5 169.8L319.8 169.4L320.1 169.0L320.5 168.5L320.8 168.2L321.3 167.8L321.6 167.5L322.1 167.0L322.4 166.8L322.8 166.4L323.3 166.0L323.6 165.8L324.1 165.4L324.6 165.0L324.9 164.8L325.3 164.5L325.8 164.2L326.3 163.8L326.8 163.5L327.2 163.2L327.6 163.0L328.1 162.8L328.6 162.5L329.1 162.2L329.6 162.0L330.1 161.8L330.8 161.5L331.3 161.3L331.8 161.1L332.3 161.0L333.1 160.8L333.6 160.7L334.3 160.6L334.8 160.5L335.6 160.4L336.3 160.4L337.1 160.4L337.6 160.5L338.3 160.6L339.0 160.8L339.6 160.9L340.1 161.0L340.6 161.2L341.2 161.5L341.7 161.8L342.2 162.0L342.6 162.2L343.1 162.6L343.6 163.0L343.8 163.2L344.2 163.8L344.2 164.5L344.0 165.0L343.8 165.5L343.5 166.0L343.1 166.5L342.8 167.0L342.6 167.4L342.3 167.8L341.9 168.2L341.6 168.7L341.3 169.1L340.9 169.5L340.6 170.0L340.3 170.2L339.8 170.8L339.6 171.0L339.1 171.5L338.8 171.8L338.3 172.2L337.9 172.5L337.6 172.8L337.1 173.2L336.7 173.5L336.3 173.8L335.8 174.1L335.3 174.5L334.9 174.8L334.6 175.0L334.1 175.4L333.6 175.7L333.2 176.0L332.8 176.3L332.3 176.8L332.1 177.0L331.6 177.5L331.3 177.9L331.0 178.2L330.6 178.8L330.3 179.2L330.1 179.5L329.7 180.0L329.3 180.4L329.0 180.8L328.6 181.2L328.3 181.6L327.9 182.0L327.6 182.4L327.2 182.8L326.8 183.2L326.6 183.5L326.1 184.0L325.8 184.4L325.5 184.8L325.1 185.2L324.8 185.5L324.4 186.0L324.1 186.5L323.8 186.8L323.4 187.2L323.1 187.8L322.8 188.1L322.5 188.5L322.2 189.0L321.9 189.5L321.6 190.0L321.3 190.5L321.1 191.0L320.8 191.5L320.6 192.0L320.4 192.5L320.2 193.0L320.1 193.5L319.8 194.2L319.6 194.8L319.5 195.2L319.3 195.8L319.1 196.3L318.8 196.9L318.6 197.5L318.3 197.9L318.1 198.3L317.6 198.8L317.6 198.8M317.3 196.6L316.6 196.5L316.3 196.2L316.0 195.8L315.8 195.2L315.6 194.5L315.4 194.0L315.3 193.4L315.2 192.8L315.1 192.0L315.1 191.5L315.0 190.8L315.0 190.0L314.9 189.2L314.9 188.5L315.0 187.8L315.0 187.0L315.1 186.3L315.1 185.8L315.2 185.0L315.2 184.2L315.3 183.8L315.4 183.0L315.5 182.2L315.6 181.8L315.8 181.0L315.9 180.5L316.0 179.8L316.2 179.2L316.3 178.7L316.5 178.0L316.7 177.5L316.8 177.0L317.1 176.4L317.3 175.8L317.5 175.2L317.7 174.8L318.0 174.2L318.2 173.8L318.5 173.2L318.8 172.8L319.1 172.3L319.3 171.9L319.6 171.5L319.9 171.0L320.3 170.5L320.6 170.2L320.9 169.8L321.3 169.3L321.6 169.0L322.0 168.5L322.3 168.2L322.7 167.8L323.1 167.4L323.4 167.0L323.8 166.7L324.2 166.2L324.6 165.9L325.1 165.5L325.3 165.2L325.8 164.9L326.3 164.5L326.6 164.2L327.1 163.9L327.6 163.6L328.1 163.3L328.5 163.0L329.0 162.8L329.5 162.5L330.0 162.2L330.5 162.0L331.1 161.8L331.6 161.6L332.1 161.4L332.8 161.2L333.3 161.1L334.0 161.0L334.6 160.9L335.3 160.8L336.1 160.8L336.8 160.9L337.6 160.9L338.1 161.0L338.8 161.2L339.3 161.4L339.8 161.6L340.3 161.8L340.8 162.1L341.3 162.5L341.6 162.8L342.0 163.2L342.3 163.7L342.5 164.2L342.6 164.8L342.6 165.3L342.4 166.0L342.2 166.5L342.0 167.0L341.7 167.5L341.4 168.0L341.1 168.5L340.8 169.0L340.6 169.3L340.2 169.8L339.8 170.2L339.5 170.5L339.1 171.0L338.8 171.3L338.3 171.7L338.0 172.0L337.6 172.4L337.1 172.8L336.8 173.0L336.3 173.3L335.8 173.7L335.3 174.0L334.9 174.2L334.5 174.5L334.1 174.8L333.6 175.1L333.1 175.4L332.6 175.8L332.2 176.0L331.8 176.3L331.3 176.7L331.0 177.0L330.6 177.4L330.2 177.8L329.8 178.2L329.6 178.6L329.2 179.0L328.8 179.5L328.6 179.8L328.2 180.2L327.8 180.7L327.6 181.0L327.1 181.5L326.8 181.8L326.4 182.2L326.1 182.6L325.7 183.0L325.3 183.5L325.0 183.8L324.6 184.2L324.3 184.5L323.9 185.0L323.6 185.4L323.2 185.8L322.8 186.2L322.6 186.6L322.2 187.0L321.8 187.5L321.6 187.9L321.3 188.3L321.0 188.8L320.7 189.2L320.5 189.8L320.2 190.2L320.0 190.8L319.8 191.3L319.6 192.0L319.4 192.5L319.2 193.0L319.0 193.5L318.8 194.1L318.6 194.8L318.3 195.2L318.1 195.8L317.8 196.1L317.4 196.5L317.3 196.6M317.3 192.3L316.9 192.0L316.7 191.5L316.5 191.0L316.4 190.2L316.3 189.5L316.3 188.8L316.3 188.0L316.3 187.2L316.4 186.5L316.4 185.8L316.5 185.0L316.6 184.3L316.6 183.8L316.7 183.0L316.8 182.2L316.9 181.8L317.0 181.0L317.1 180.5L317.3 179.8L317.4 179.2L317.6 178.6L317.7 178.0L317.9 177.5L318.1 177.0L318.3 176.4L318.6 175.8L318.8 175.3L319.1 174.8L319.3 174.3L319.6 173.9L319.8 173.5L320.1 173.0L320.4 172.5L320.8 172.0L321.1 171.6L321.3 171.2L321.7 170.8L322.1 170.3L322.3 169.9L322.6 169.5L323.0 169.0L323.3 168.5L323.6 168.2L323.9 167.8L324.3 167.3L324.6 167.0L325.0 166.5L325.3 166.1L325.7 165.8L326.1 165.4L326.5 165.0L326.8 164.7L327.3 164.3L327.8 164.0L328.1 163.8L328.6 163.5L329.1 163.2L329.6 162.9L330.1 162.6L330.6 162.4L331.1 162.2L331.6 162.0L332.3 161.8L332.8 161.6L333.3 161.5L334.1 161.4L334.8 161.3L335.3 161.2L336.1 161.2L336.6 161.3L337.3 161.4L337.9 161.5L338.6 161.7L339.1 161.9L339.6 162.1L340.1 162.4L340.5 162.8L340.8 163.1L341.1 163.5L341.4 164.0L341.6 164.5L341.7 165.2L341.6 166.0L341.5 166.5L341.3 167.0L341.1 167.6L340.8 168.1L340.6 168.5L340.2 169.0L339.9 169.5L339.6 169.9L339.3 170.2L338.8 170.8L338.6 171.0L338.1 171.5L337.8 171.8L337.3 172.1L336.8 172.5L336.5 172.8L336.1 173.1L335.6 173.4L335.1 173.7L334.6 174.0L334.1 174.2L333.7 174.5L333.2 174.8L332.8 175.0L332.3 175.2L331.8 175.5L331.3 175.8L330.8 176.1L330.3 176.4L329.8 176.8L329.6 177.0L329.1 177.5L328.8 177.8L328.4 178.2L328.1 178.6L327.8 179.0L327.4 179.5L327.1 179.9L326.7 180.2L326.3 180.7L326.0 181.0L325.6 181.5L325.3 181.8L324.8 182.2L324.6 182.5L324.1 183.0L323.8 183.3L323.3 183.7L323.0 184.0L322.6 184.5L322.3 184.8L321.8 185.2L321.5 185.5L321.1 186.0L320.8 186.3L320.4 186.8L320.1 187.2L319.8 187.7L319.6 188.1L319.3 188.6L319.1 189.1L318.8 189.7L318.6 190.2L318.3 190.8L318.1 191.2L317.8 191.8L317.6 192.1L317.3 192.3M321.1 182.8L320.3 183.0L319.6 182.8L319.3 182.5L319.1 181.8L319.0 181.2L319.0 180.5L319.1 179.8L319.1 179.2L319.3 178.5L319.4 178.0L319.6 177.5L319.8 176.9L320.1 176.3L320.3 175.8L320.6 175.3L320.8 174.9L321.1 174.5L321.4 174.0L321.7 173.5L322.0 173.0L322.3 172.5L322.6 172.0L322.8 171.6L323.1 171.1L323.3 170.5L323.6 170.0L323.8 169.5L324.1 169.0L324.3 168.6L324.6 168.2L324.8 167.8L325.2 167.2L325.6 166.8L325.8 166.5L326.2 166.0L326.6 165.6L327.0 165.2L327.3 164.9L327.8 164.5L328.2 164.2L328.6 164.0L329.1 163.7L329.6 163.4L330.1 163.1L330.6 162.8L331.1 162.6L331.6 162.4L332.1 162.2L332.8 162.0L333.3 161.9L334.1 161.8L334.6 161.7L335.3 161.7L336.1 161.7L336.8 161.8L337.3 161.8L337.9 162.0L338.5 162.2L339.0 162.5L339.4 162.8L339.8 163.1L340.2 163.5L340.5 164.0L340.8 164.5L340.9 165.0L340.9 165.8L340.8 166.5L340.7 167.0L340.5 167.5L340.3 168.0L340.0 168.5L339.7 169.0L339.4 169.5L339.1 169.9L338.8 170.2L338.3 170.7L338.0 171.0L337.6 171.5L337.2 171.8L336.8 172.1L336.3 172.5L335.9 172.8L335.5 173.0L335.1 173.3L334.6 173.6L334.1 173.8L333.6 174.1L333.1 174.3L332.6 174.5L332.1 174.8L331.5 175.0L330.8 175.2L330.3 175.5L329.8 175.7L329.3 175.9L328.8 176.2L328.3 176.5L327.9 176.8L327.6 177.0L327.1 177.5L326.8 177.8L326.4 178.2L326.1 178.7L325.8 179.0L325.3 179.5L325.1 179.8L324.6 180.2L324.3 180.5L323.8 181.0L323.5 181.2L323.1 181.6L322.6 181.9L322.1 182.2L321.6 182.5L321.1 182.8L321.1 182.8M327.3 175.3L326.6 175.4L325.8 175.4L325.1 175.3L324.6 175.0L324.3 174.5L324.2 174.0L324.2 173.2L324.2 172.5L324.3 171.8L324.3 171.2L324.5 170.5L324.6 170.0L324.8 169.5L325.1 168.8L325.3 168.3L325.6 167.9L325.8 167.4L326.1 167.0L326.5 166.5L326.8 166.1L327.1 165.8L327.6 165.4L327.9 165.0L328.3 164.7L328.8 164.3L329.3 164.0L329.7 163.8L330.1 163.5L330.6 163.2L331.1 163.0L331.8 162.8L332.3 162.6L332.8 162.4L333.6 162.3L334.1 162.2L334.8 162.1L335.6 162.1L336.3 162.1L336.9 162.2L337.6 162.4L338.1 162.6L338.6 162.9L339.0 163.2L339.3 163.5L339.7 164.0L340.0 164.5L340.2 165.0L340.3 165.8L340.2 166.5L340.1 167.2L339.9 167.8L339.6 168.2L339.4 168.8L339.1 169.2L338.8 169.6L338.5 170.0L338.1 170.5L337.8 170.8L337.3 171.2L336.9 171.5L336.6 171.8L336.1 172.2L335.6 172.5L335.2 172.8L334.7 173.0L334.3 173.2L333.8 173.5L333.2 173.8L332.6 174.0L332.1 174.2L331.6 174.3L331.1 174.5L330.3 174.7L329.8 174.8L329.1 175.0L328.6 175.1L327.8 175.2L327.3 175.3M330.3 174.0L329.6 174.1L328.8 174.1L328.1 174.0L327.6 173.9L327.1 173.7L326.6 173.4L326.1 173.0L325.8 172.6L325.6 172.0L325.5 171.5L325.4 170.8L325.5 170.0L325.6 169.5L325.8 168.9L326.1 168.3L326.3 167.8L326.6 167.4L326.8 167.0L327.2 166.5L327.6 166.0L327.8 165.8L328.3 165.3L328.6 165.0L329.1 164.7L329.6 164.3L330.1 164.0L330.5 163.8L331.0 163.5L331.6 163.3L332.1 163.1L332.6 162.9L333.2 162.8L333.8 162.6L334.6 162.5L335.3 162.5L336.1 162.6L336.8 162.7L337.3 162.9L337.8 163.1L338.3 163.4L338.7 163.8L339.1 164.2L339.3 164.6L339.6 165.2L339.6 165.8L339.6 166.5L339.6 167.0L339.3 167.8L339.1 168.2L338.8 168.8L338.6 169.2L338.3 169.5L337.9 170.0L337.6 170.4L337.2 170.8L336.8 171.1L336.3 171.5L336.0 171.8L335.6 172.1L335.1 172.4L334.6 172.7L334.1 172.9L333.6 173.1L333.1 173.3L332.3 173.5L331.8 173.6L331.3 173.8L330.6 174.0L330.3 174.0M330.6 173.3L329.8 173.4L329.1 173.3L328.6 173.2L328.0 173.0L327.5 172.8L327.1 172.3L326.8 172.0L326.6 171.5L326.4 170.8L326.3 170.0L326.4 169.2L326.6 168.8L326.8 168.2L327.1 167.6L327.3 167.2L327.6 166.8L328.0 166.2L328.3 166.0L328.8 165.5L329.1 165.2L329.6 164.9L330.1 164.5L330.5 164.2L330.9 164.0L331.5 163.8L332.1 163.5L332.6 163.3L333.1 163.2L333.8 163.1L334.5 163.0L335.1 163.0L335.6 163.0L336.3 163.2L336.8 163.3L337.3 163.5L337.8 163.8L338.3 164.2L338.6 164.6L338.8 165.1L339.0 165.8L339.0 166.5L338.9 167.2L338.8 167.8L338.6 168.3L338.3 168.8L338.0 169.2L337.6 169.8L337.3 170.1L336.9 170.5L336.6 170.8L336.1 171.2L335.7 171.5L335.3 171.8L334.8 172.0L334.3 172.3L333.8 172.5L333.1 172.7L332.6 172.8L331.8 172.9L331.3 173.0L330.6 173.2L330.6 173.3M330.3 172.5L329.6 172.6L329.1 172.5L328.5 172.2L328.1 172.0L327.6 171.5L327.3 171.0L327.2 170.5L327.1 169.8L327.2 169.0L327.3 168.5L327.6 168.0L327.8 167.5L328.1 167.0L328.5 166.5L328.8 166.2L329.2 165.8L329.6 165.5L330.1 165.1L330.5 164.8L331.0 164.5L331.4 164.2L332.0 164.0L332.6 163.8L333.1 163.7L333.8 163.5L334.3 163.5L335.0 163.5L335.6 163.6L336.3 163.7L336.8 164.0L337.3 164.2L337.6 164.5L338.0 165.0L338.2 165.5L338.4 166.0L338.4 166.8L338.3 167.3L338.1 168.0L337.8 168.5L337.6 169.0L337.3 169.3L337.0 169.8L336.6 170.2L336.2 170.5L335.8 170.9L335.3 171.2L334.9 171.5L334.4 171.8L333.8 172.0L333.3 172.1L332.6 172.2L331.8 172.1L331.1 172.2L330.6 172.4L330.3 172.5M329.8 171.8L329.3 171.7L328.8 171.4L328.4 171.0L328.1 170.5L328.0 170.0L327.9 169.2L328.1 168.6L328.2 168.0L328.5 167.5L328.8 167.0L329.1 166.7L329.4 166.2L329.8 165.9L330.3 165.5L330.7 165.2L331.1 165.0L331.6 164.7L332.1 164.5L332.8 164.3L333.3 164.2L334.1 164.0L334.8 164.0L335.6 164.2L336.1 164.3L336.6 164.6L337.1 165.0L337.3 165.3L337.6 165.8L337.7 166.5L337.7 167.2L337.5 167.8L337.3 168.3L337.1 168.8L336.7 169.2L336.3 169.8L336.1 170.0L335.6 170.4L335.1 170.8L334.8 171.0L334.3 171.3L333.7 171.5L333.1 171.6L332.3 171.5L331.8 171.5L331.1 171.5L330.6 171.6L329.9 171.8L329.8 171.8M333.3 171.0L332.6 171.0L332.1 171.0L331.3 170.9L330.6 170.9L329.8 170.9L329.3 170.6L329.0 170.2L328.8 169.6L328.8 169.0L328.8 168.5L329.1 167.9L329.3 167.4L329.6 167.0L330.0 166.5L330.3 166.2L330.8 165.8L331.3 165.5L331.8 165.2L332.3 165.0L332.8 164.9L333.3 164.7L334.1 164.7L334.8 164.7L335.3 164.8L335.8 165.0L336.3 165.4L336.6 165.8L336.9 166.2L337.0 167.0L336.8 167.8L336.6 168.2L336.4 168.8L336.1 169.2L335.8 169.5L335.3 169.9L334.9 170.2L334.5 170.5L334.1 170.8L333.3 171.0L333.3 171.0M333.3 170.3L332.6 170.4L331.8 170.3L331.2 170.2L330.6 170.1L330.1 169.8L329.8 169.4L329.7 168.8L329.8 168.2L330.1 167.7L330.3 167.2L330.8 166.8L331.1 166.5L331.6 166.1L332.1 165.9L332.6 165.7L333.1 165.5L333.8 165.4L334.6 165.5L335.1 165.6L335.6 166.0L335.8 166.3L336.1 167.0L336.1 167.3L335.9 168.0L335.6 168.5L335.3 169.0L335.1 169.3L334.6 169.7L334.1 170.0L333.6 170.2L333.3 170.3M333.3 169.3L332.6 169.5L331.8 169.4L331.3 169.1L331.1 168.5L331.1 168.2L331.3 167.7L331.7 167.2L332.1 166.9L332.6 166.7L333.1 166.5L333.8 166.5L334.3 166.7L334.6 167.0L334.8 167.8L334.6 168.3L334.2 168.8L333.8 169.1L333.3 169.3" stroke="#1e1e1e" stroke-width="0.6"/>
</g>
<rect x="312.8" y="155.5" width="54.7" height="54.5" fill="none" stroke="#aaa" stroke-width="0.8"/>
<path d="M349.7 155.5V210.0M312.8 172.4H367.5" stroke="#999" stroke-width="0.8"/>
<path d="M304.2 177.0V218.3H345.3" stroke="#222" stroke-width="1.2" fill="none"/>
<path d="M304.2 173.0L301.9 178.0L306.5 178.0Z" fill="#111"/>
<path d="M349.3 218.3L344.3 216.0L344.3 220.6Z" fill="#111"/>
<text transform="translate(303.3,196.9) rotate(-90)" class="b s2" font-size="9" text-anchor="middle" textLength="19.2" lengthAdjust="spacingAndGlyphs">CD25</text>
<text x="327.0" y="228.7" class="b s2" font-size="9" text-anchor="middle" textLength="20.0" lengthAdjust="spacingAndGlyphs">CD44</text>
<g font-size="3.2" fill="#888" style="fill:#999"><text x="307.3" y="211.0">10</text><text x="312.8" y="214.5" text-anchor="middle">10</text><text x="307.3" y="197.4">10</text><text x="326.5" y="214.5" text-anchor="middle">10</text><text x="307.3" y="183.8">10</text><text x="340.1" y="214.5" text-anchor="middle">10</text><text x="307.3" y="170.1">10</text><text x="353.8" y="214.5" text-anchor="middle">10</text><text x="307.3" y="156.5">10</text><text x="367.5" y="214.5" text-anchor="middle">10</text></g>
<g font-size="3.2" style="fill:#999"><text x="314.8" y="159.5">0.0</text><text x="365.5" y="159.5" text-anchor="end">0.0</text><text x="314.8" y="210.8">0.0</text><text x="365.5" y="210.8" text-anchor="end">0.0</text></g>
<g clip-path="url(#cp2)" fill="none">
<path d="M390.9 212.7L390.1 212.8L389.4 212.6L389.0 212.3L388.6 211.9L388.3 211.6L387.9 211.1L387.6 210.7L387.3 210.3L386.9 209.8L386.6 209.4L386.3 209.1L386.0 208.6L385.6 208.1L385.4 207.6L385.1 207.2L384.9 206.6L384.7 206.1L384.5 205.6L384.4 204.8L384.4 204.1L384.5 203.3L384.6 202.8L384.8 202.1L385.0 201.6L385.2 201.1L385.4 200.6L385.6 199.9L385.7 199.3L385.8 198.6L385.8 197.8L385.8 197.1L385.8 196.3L385.7 195.6L385.6 194.8L385.6 194.3L385.5 193.6L385.5 192.8L385.4 192.1L385.4 191.3L385.4 190.6L385.3 190.1L385.3 189.3L385.3 188.6L385.3 187.8L385.2 187.1L385.2 186.3L385.2 185.6L385.3 184.8L385.3 184.1L385.3 183.3L385.3 182.6L385.3 181.8L385.3 181.1L385.2 180.3L385.2 179.6L385.1 179.0L385.0 178.3L384.9 177.6L384.9 176.8L384.8 176.3L384.8 175.6L384.7 174.8L384.8 174.1L384.8 173.3L384.9 172.8L385.0 172.1L385.1 171.5L385.3 170.8L385.4 170.3L385.6 169.8L385.9 169.2L386.1 168.6L386.4 168.1L386.6 167.7L386.9 167.3L387.1 166.8L387.5 166.3L387.9 165.9L388.1 165.6L388.6 165.2L389.0 164.8L389.5 164.6L390.1 164.4L390.9 164.4L391.6 164.6L392.1 164.8L392.6 165.0L393.1 165.2L393.6 165.5L394.1 165.8L394.6 166.0L395.1 166.3L395.6 166.5L396.1 166.7L396.9 166.8L397.4 166.9L398.1 166.9L398.6 166.8L399.4 166.8L400.1 166.7L400.9 166.7L401.6 166.8L402.4 166.8L402.9 166.9L403.6 167.0L404.2 167.1L404.9 167.2L405.4 167.3L406.1 167.5L406.6 167.7L407.2 167.8L407.9 168.1L408.4 168.3L408.9 168.5L409.4 168.7L409.9 169.0L410.4 169.2L410.9 169.5L411.4 169.8L411.7 170.1L412.1 170.4L412.6 170.8L412.9 171.1L413.4 171.6L413.6 171.9L413.9 172.3L414.2 172.8L414.4 173.3L414.6 173.9L414.7 174.6L414.7 175.3L414.6 175.8L414.4 176.5L414.1 177.0L413.9 177.4L413.6 177.8L413.2 178.3L412.9 178.8L412.6 179.3L412.4 179.8L412.2 180.3L412.0 180.8L411.9 181.6L411.9 182.3L412.0 183.1L412.1 183.8L412.1 184.3L412.2 185.1L412.2 185.8L412.1 186.6L412.1 187.1L412.0 187.8L411.9 188.6L411.8 189.1L411.6 189.7L411.4 190.3L411.2 190.8L411.1 191.3L410.9 191.9L410.6 192.6L410.4 193.1L410.1 193.6L409.9 194.1L409.6 194.6L409.4 195.1L409.1 195.6L408.9 196.0L408.6 196.4L408.3 196.8L407.9 197.3L407.6 197.7L407.3 198.1L406.9 198.6L406.6 198.9L406.1 199.3L405.9 199.6L405.4 200.1L405.1 200.4L404.8 200.8L404.6 201.3L404.4 202.1L404.3 202.6L404.3 203.3L404.2 204.1L404.1 204.6L403.9 205.3L403.7 205.8L403.5 206.3L403.2 206.8L402.9 207.3L402.6 207.8L402.3 208.1L401.9 208.6L401.5 208.8L401.1 209.2L400.6 209.5L400.1 209.8L399.6 210.1L399.1 210.3L398.6 210.5L398.1 210.7L397.6 210.8L396.9 211.0L396.4 211.1L395.6 211.3L394.9 211.3L394.4 211.4L393.6 211.6L393.1 211.7L392.5 211.8L391.9 212.1L391.5 212.3L391.0 212.6L390.9 212.7M422.1 200.6L421.4 200.7L420.7 200.6L420.1 200.3L419.7 200.1L419.4 199.8L418.9 199.3L418.6 198.9L418.4 198.6L418.0 198.1L417.8 197.6L417.5 197.1L417.3 196.6L417.1 196.1L416.9 195.6L416.6 194.9L416.4 194.3L416.3 193.8L416.1 193.2L416.0 192.6L415.8 192.1L415.7 191.3L415.6 190.8L415.5 190.1L415.4 189.3L415.4 188.8L415.3 188.1L415.3 187.3L415.4 186.8L415.4 186.1L415.6 185.3L415.7 184.8L415.9 184.2L416.0 183.6L416.2 183.1L416.4 182.6L416.6 182.1L416.9 181.5L417.1 180.9L417.4 180.4L417.6 179.9L417.9 179.5L418.1 179.1L418.5 178.6L418.9 178.2L419.3 177.8L419.7 177.6L420.2 177.3L420.9 177.2L421.6 177.2L422.3 177.3L422.8 177.6L423.2 177.8L423.6 178.2L424.0 178.6L424.4 179.1L424.6 179.5L424.9 179.9L425.1 180.4L425.4 180.9L425.6 181.5L425.8 182.1L426.0 182.6L426.1 183.1L426.3 183.8L426.4 184.3L426.5 185.1L426.6 185.6L426.7 186.3L426.8 187.1L426.8 187.8L426.8 188.6L426.8 189.3L426.8 190.1L426.8 190.8L426.7 191.6L426.6 192.3L426.5 192.8L426.4 193.6L426.3 194.1L426.1 194.8L426.0 195.3L425.8 195.8L425.6 196.5L425.4 197.1L425.1 197.6L424.9 198.1L424.6 198.5L424.4 198.9L424.0 199.3L423.6 199.8L423.2 200.1L422.8 200.3L422.3 200.6L422.1 200.6M390.9 212.1L390.1 212.2L389.6 212.1L389.1 211.8L388.6 211.4L388.3 211.1L387.9 210.6L387.6 210.3L387.2 209.8L386.9 209.4L386.6 209.1L386.2 208.6L385.9 208.1L385.6 207.6L385.4 207.2L385.1 206.6L384.9 206.1L384.8 205.6L384.7 204.8L384.6 204.1L384.7 203.3L384.9 202.8L385.1 202.1L385.2 201.6L385.4 201.1L385.6 200.6L385.8 199.8L386.0 199.3L386.1 198.6L386.1 197.8L386.0 197.1L386.0 196.3L385.9 195.6L385.9 194.8L385.8 194.3L385.8 193.6L385.7 192.8L385.7 192.1L385.6 191.3L385.6 190.6L385.6 190.1L385.6 189.3L385.5 188.6L385.5 187.8L385.5 187.1L385.5 186.3L385.5 185.6L385.5 184.8L385.5 184.1L385.6 183.3L385.6 182.6L385.6 181.8L385.5 181.1L385.5 180.3L385.4 179.6L385.4 179.0L385.3 178.3L385.2 177.6L385.1 176.9L385.0 176.3L385.0 175.6L385.0 174.8L385.0 174.1L385.0 173.3L385.1 172.8L385.2 172.1L385.4 171.4L385.5 170.8L385.6 170.3L385.9 169.8L386.1 169.2L386.4 168.6L386.6 168.2L386.9 167.7L387.1 167.3L387.5 166.8L387.9 166.4L388.1 166.1L388.6 165.6L389.0 165.3L389.4 165.1L390.1 164.9L390.6 164.8L391.1 164.9L391.9 165.1L392.4 165.3L392.9 165.5L393.4 165.8L393.9 166.1L394.3 166.3L394.8 166.6L395.3 166.8L395.8 167.1L396.4 167.3L396.9 167.4L397.6 167.4L398.4 167.4L398.9 167.3L399.6 167.3L400.4 167.2L401.1 167.2L401.9 167.3L402.6 167.3L403.1 167.4L403.9 167.5L404.6 167.6L405.1 167.7L405.8 167.8L406.4 168.0L406.9 168.2L407.4 168.3L408.1 168.6L408.6 168.8L409.1 169.0L409.6 169.3L410.1 169.5L410.6 169.8L411.0 170.1L411.4 170.4L411.9 170.8L412.2 171.1L412.6 171.5L412.9 171.8L413.2 172.3L413.5 172.8L413.7 173.3L413.9 174.0L413.9 174.6L413.9 175.1L413.7 175.8L413.5 176.3L413.2 176.8L412.9 177.3L412.6 177.8L412.4 178.3L412.1 178.6L411.8 179.1L411.5 179.6L411.3 180.1L411.1 180.8L411.0 181.3L411.0 182.1L411.0 182.8L411.0 183.6L411.1 184.3L411.1 185.0L411.1 185.6L411.1 186.1L411.1 186.8L411.0 187.6L410.9 188.3L410.8 188.8L410.7 189.6L410.6 190.1L410.4 190.8L410.2 191.3L410.1 191.8L409.9 192.5L409.6 193.1L409.4 193.6L409.2 194.1L408.9 194.6L408.7 195.1L408.4 195.6L408.1 196.0L407.9 196.4L407.5 196.8L407.1 197.3L406.9 197.7L406.5 198.1L406.1 198.5L405.7 198.8L405.4 199.2L404.9 199.6L404.6 200.0L404.3 200.3L404.1 200.8L403.9 201.6L403.9 202.3L403.9 203.1L403.8 203.6L403.8 204.3L403.6 205.1L403.5 205.6L403.3 206.1L403.1 206.6L402.8 207.1L402.4 207.6L402.1 207.9L401.7 208.3L401.4 208.7L400.9 209.1L400.4 209.3L400.0 209.6L399.6 209.8L399.1 210.1L398.5 210.3L397.9 210.6L397.4 210.7L396.7 210.8L396.1 211.0L395.4 211.1L394.9 211.2L394.1 211.3L393.4 211.3L392.9 211.5L392.4 211.6L391.6 211.8L391.1 212.0L390.9 212.1M422.1 198.4L421.4 198.5L420.8 198.3L420.3 198.1L419.9 197.8L419.4 197.3L419.1 197.0L418.9 196.6L418.6 196.1L418.3 195.6L418.1 195.1L417.9 194.5L417.6 193.8L417.5 193.3L417.3 192.8L417.2 192.1L417.1 191.6L417.0 190.8L416.9 190.1L416.8 189.6L416.8 188.8L416.8 188.1L416.8 187.3L416.9 186.8L417.0 186.1L417.1 185.5L417.2 184.8L417.4 184.3L417.6 183.7L417.8 183.1L418.0 182.6L418.3 182.1L418.5 181.6L418.9 181.1L419.1 180.8L419.5 180.3L419.9 180.1L420.4 179.7L420.9 179.5L421.6 179.5L422.1 179.6L422.6 179.8L423.1 180.2L423.5 180.6L423.9 181.1L424.1 181.5L424.4 181.9L424.6 182.5L424.9 183.1L425.0 183.6L425.2 184.1L425.4 184.8L425.5 185.3L425.6 186.1L425.7 186.6L425.7 187.3L425.8 188.1L425.8 188.8L425.8 189.6L425.7 190.3L425.7 191.1L425.6 191.8L425.5 192.3L425.4 193.1L425.2 193.6L425.1 194.1L424.9 194.8L424.7 195.3L424.5 195.8L424.2 196.3L423.9 196.8L423.6 197.2L423.3 197.6L422.9 198.0L422.4 198.3L422.1 198.4M391.1 211.6L390.4 211.7L389.8 211.6L389.2 211.3L388.9 211.1L388.4 210.7L388.0 210.3L387.6 209.9L387.4 209.6L386.9 209.1L386.6 208.7L386.4 208.3L386.0 207.8L385.7 207.3L385.5 206.8L385.2 206.3L385.1 205.8L384.9 205.1L384.9 204.3L384.9 203.6L385.1 202.8L385.2 202.3L385.4 201.8L385.6 201.3L385.9 200.6L386.0 200.1L386.2 199.6L386.3 198.8L386.3 198.1L386.3 197.3L386.3 196.6L386.2 195.8L386.1 195.1L386.1 194.6L386.0 193.8L386.0 193.1L385.9 192.3L385.9 191.6L385.9 190.8L385.8 190.3L385.8 189.6L385.8 188.8L385.8 188.1L385.8 187.3L385.8 186.6L385.8 185.8L385.8 185.1L385.8 184.3L385.8 183.6L385.8 182.8L385.8 182.1L385.8 181.3L385.8 180.6L385.7 179.8L385.6 179.1L385.6 178.6L385.5 177.8L385.4 177.1L385.3 176.6L385.2 175.8L385.2 175.1L385.2 174.3L385.2 173.6L385.3 172.8L385.4 172.3L385.5 171.6L385.7 171.1L385.9 170.5L386.1 169.8L386.3 169.3L386.5 168.8L386.8 168.3L387.1 167.8L387.4 167.5L387.6 167.1L388.1 166.6L388.4 166.3L388.9 165.9L389.3 165.6L389.9 165.4L390.4 165.3L391.1 165.3L391.6 165.4L392.1 165.6L392.7 165.8L393.2 166.1L393.6 166.4L394.1 166.6L394.6 167.0L395.1 167.3L395.6 167.5L396.1 167.7L396.6 167.9L397.4 168.0L398.1 168.0L398.9 167.9L399.4 167.8L400.1 167.8L400.9 167.7L401.6 167.7L402.4 167.7L403.1 167.8L403.6 167.9L404.4 168.0L405.0 168.1L405.6 168.2L406.1 168.4L406.9 168.6L407.4 168.7L407.9 168.9L408.4 169.1L408.9 169.3L409.4 169.6L409.9 169.9L410.4 170.2L410.9 170.5L411.2 170.8L411.6 171.2L412.0 171.6L412.4 172.1L412.6 172.4L412.9 172.9L413.1 173.6L413.2 174.1L413.1 174.8L413.1 175.3L412.9 176.0L412.6 176.6L412.4 177.0L412.1 177.4L411.8 177.8L411.5 178.3L411.1 178.8L410.9 179.3L410.6 179.8L410.4 180.3L410.3 180.8L410.2 181.6L410.2 182.3L410.2 183.1L410.2 183.8L410.3 184.6L410.3 185.3L410.3 186.1L410.2 186.8L410.2 187.6L410.1 188.2L410.0 188.8L409.9 189.6L409.8 190.1L409.6 190.8L409.5 191.3L409.4 191.9L409.1 192.6L409.0 193.1L408.8 193.6L408.5 194.1L408.3 194.6L408.0 195.1L407.7 195.6L407.4 196.1L407.1 196.5L406.8 196.8L406.4 197.3L406.1 197.7L405.7 198.1L405.4 198.4L404.9 198.8L404.5 199.1L404.1 199.5L403.8 199.8L403.5 200.3L403.3 200.8L403.3 201.6L403.4 202.1L403.4 202.8L403.5 203.6L403.4 204.3L403.4 204.9L403.2 205.6L403.0 206.1L402.7 206.6L402.4 207.1L402.1 207.5L401.8 207.8L401.4 208.3L401.1 208.6L400.6 209.0L400.1 209.3L399.6 209.6L399.1 209.8L398.6 210.1L398.1 210.3L397.6 210.4L396.9 210.6L396.4 210.7L395.6 210.8L395.1 210.9L394.4 211.0L393.6 211.1L393.1 211.2L392.4 211.3L391.9 211.4L391.2 211.6L391.1 211.6M421.9 195.4L421.1 195.4L420.6 195.2L420.2 194.8L419.9 194.4L419.6 194.0L419.4 193.6L419.1 193.0L418.9 192.3L418.7 191.8L418.6 191.2L418.5 190.6L418.4 189.8L418.4 189.1L418.4 188.3L418.4 187.6L418.5 186.8L418.6 186.3L418.8 185.6L419.0 185.1L419.2 184.6L419.4 184.1L419.7 183.6L420.1 183.2L420.5 182.8L420.9 182.6L421.6 182.5L422.1 182.7L422.6 183.0L422.9 183.3L423.2 183.8L423.5 184.3L423.7 184.8L423.9 185.3L424.1 186.1L424.2 186.6L424.3 187.3L424.4 187.8L424.4 188.6L424.4 189.3L424.4 190.1L424.3 190.6L424.2 191.3L424.1 191.9L423.9 192.6L423.7 193.1L423.5 193.6L423.3 194.1L422.9 194.6L422.6 194.9L422.1 195.3L421.9 195.4" stroke="#5a5a5a" stroke-width="0.55"/>
<path d="M391.9 211.1L391.1 211.2L390.4 211.3L389.7 211.1L389.2 210.8L388.8 210.6L388.4 210.2L387.9 209.8L387.6 209.5L387.2 209.1L386.9 208.6L386.6 208.3L386.3 207.8L386.0 207.3L385.7 206.8L385.5 206.3L385.4 205.8L385.2 205.1L385.1 204.3L385.2 203.6L385.3 202.8L385.5 202.3L385.7 201.8L385.9 201.3L386.1 200.7L386.3 200.1L386.4 199.6L386.5 198.8L386.6 198.1L386.6 197.3L386.5 196.6L386.5 195.8L386.4 195.1L386.4 194.5L386.3 193.8L386.2 193.1L386.2 192.3L386.2 191.6L386.1 190.8L386.1 190.2L386.1 189.6L386.1 188.8L386.0 188.1L386.0 187.3L386.0 186.6L386.1 185.8L386.1 185.1L386.1 184.3L386.1 183.8L386.1 183.1L386.1 182.3L386.1 181.6L386.1 181.1L386.0 180.3L385.9 179.6L385.9 178.8L385.8 178.3L385.7 177.6L385.6 177.0L385.5 176.3L385.5 175.6L385.4 174.8L385.4 174.1L385.5 173.3L385.6 172.6L385.7 172.1L385.8 171.3L386.0 170.8L386.1 170.3L386.4 169.8L386.6 169.3L386.9 168.8L387.1 168.3L387.4 167.8L387.8 167.3L388.1 167.0L388.5 166.6L388.9 166.3L389.4 166.0L389.9 165.8L390.6 165.7L391.4 165.8L391.9 165.9L392.4 166.1L392.9 166.4L393.4 166.6L393.9 166.9L394.4 167.3L394.9 167.6L395.3 167.8L395.7 168.1L396.2 168.3L396.9 168.5L397.6 168.6L398.4 168.5L399.1 168.4L399.6 168.3L400.4 168.2L401.1 168.2L401.9 168.2L402.6 168.2L403.4 168.3L404.0 168.3L404.6 168.4L405.4 168.6L405.9 168.7L406.4 168.8L407.1 169.1L407.6 169.3L408.1 169.5L408.6 169.7L409.1 169.9L409.6 170.2L410.1 170.6L410.5 170.8L410.9 171.2L411.3 171.6L411.6 172.0L411.9 172.3L412.1 172.8L412.4 173.5L412.5 174.1L412.4 174.8L412.4 175.4L412.1 176.1L411.9 176.6L411.6 177.0L411.4 177.4L411.0 177.8L410.7 178.3L410.4 178.8L410.1 179.3L409.9 179.8L409.6 180.3L409.5 180.8L409.4 181.6L409.4 182.3L409.4 183.1L409.4 183.8L409.5 184.6L409.5 185.3L409.5 186.1L409.5 186.8L409.4 187.6L409.4 188.3L409.3 188.8L409.2 189.6L409.1 190.3L409.0 190.8L408.9 191.5L408.7 192.1L408.5 192.6L408.4 193.1L408.1 193.7L407.9 194.3L407.6 194.7L407.4 195.2L407.1 195.6L406.7 196.1L406.4 196.6L406.1 196.9L405.6 197.3L405.4 197.6L404.9 198.1L404.5 198.3L404.1 198.6L403.6 199.0L403.2 199.3L402.9 199.8L402.7 200.3L402.7 201.1L402.9 201.8L403.0 202.3L403.1 203.1L403.1 203.6L403.1 204.1L403.0 204.8L402.9 205.5L402.6 206.1L402.4 206.6L402.1 207.1L401.9 207.4L401.5 207.8L401.1 208.2L400.7 208.6L400.3 208.8L399.9 209.2L399.4 209.5L398.9 209.7L398.4 209.9L397.9 210.1L397.1 210.3L396.6 210.5L395.9 210.6L395.4 210.7L394.6 210.8L393.9 210.8L393.4 210.9L392.6 211.0L392.0 211.1L391.9 211.1M391.4 210.9L390.6 210.9L390.1 210.8L389.5 210.6L389.0 210.3L388.6 210.0L388.1 209.6L387.8 209.3L387.4 208.8L387.1 208.5L386.8 208.1L386.4 207.6L386.1 207.1L385.9 206.6L385.7 206.1L385.6 205.6L385.4 204.8L385.4 204.1L385.5 203.3L385.6 202.8L385.8 202.1L386.0 201.6L386.2 201.1L386.4 200.6L386.6 199.9L386.7 199.3L386.8 198.6L386.8 197.8L386.8 197.1L386.8 196.3L386.7 195.6L386.6 194.8L386.6 194.3L386.5 193.6L386.5 192.8L386.4 192.1L386.4 191.3L386.4 190.6L386.4 189.8L386.3 189.3L386.3 188.6L386.3 187.8L386.3 187.1L386.3 186.3L386.3 185.6L386.4 185.1L386.4 184.3L386.4 183.6L386.4 182.8L386.4 182.1L386.4 181.3L386.4 180.8L386.3 180.1L386.2 179.3L386.1 178.7L386.0 178.1L385.9 177.3L385.8 176.8L385.7 176.1L385.7 175.3L385.7 174.6L385.7 173.8L385.8 173.1L385.9 172.5L386.0 171.8L386.1 171.3L386.3 170.6L386.5 170.1L386.7 169.6L387.0 169.1L387.3 168.6L387.6 168.1L387.9 167.8L388.2 167.3L388.6 167.0L389.1 166.6L389.6 166.4L390.1 166.2L390.9 166.1L391.6 166.3L392.1 166.4L392.6 166.6L393.1 166.9L393.6 167.2L394.1 167.6L394.5 167.8L394.9 168.1L395.4 168.4L395.9 168.7L396.4 169.0L396.9 169.1L397.6 169.1L398.1 169.1L398.9 169.0L399.6 168.9L400.1 168.8L400.9 168.7L401.6 168.7L402.4 168.7L403.1 168.7L403.9 168.8L404.4 168.9L405.1 169.0L405.6 169.1L406.4 169.3L406.9 169.5L407.4 169.6L407.9 169.8L408.4 170.1L408.9 170.3L409.4 170.6L409.9 171.0L410.3 171.3L410.6 171.7L411.0 172.1L411.3 172.6L411.5 173.1L411.7 173.6L411.8 174.3L411.7 175.1L411.6 175.6L411.4 176.1L411.1 176.6L410.8 177.1L410.4 177.6L410.1 178.1L409.9 178.4L409.5 178.8L409.2 179.3L409.0 179.8L408.8 180.3L408.7 181.1L408.6 181.8L408.6 182.3L408.6 182.8L408.6 183.6L408.7 184.3L408.7 185.1L408.7 185.8L408.7 186.6L408.7 187.3L408.7 188.1L408.7 188.8L408.6 189.5L408.5 190.1L408.4 190.8L408.3 191.3L408.1 192.1L408.0 192.6L407.8 193.1L407.6 193.6L407.4 194.1L407.1 194.6L406.8 195.1L406.5 195.6L406.1 196.1L405.9 196.4L405.4 196.8L405.1 197.1L404.6 197.6L404.2 197.8L403.9 198.1L403.4 198.5L402.9 198.8L402.4 199.1L402.1 199.5L401.9 200.1L402.1 200.8L402.2 201.3L402.4 201.8L402.6 202.6L402.7 203.1L402.8 203.8L402.7 204.6L402.6 205.2L402.4 205.8L402.2 206.3L401.9 206.8L401.6 207.3L401.3 207.6L400.9 208.1L400.6 208.3L400.1 208.7L399.6 209.1L399.1 209.3L398.6 209.6L398.1 209.8L397.6 210.0L397.1 210.1L396.4 210.3L395.9 210.4L395.1 210.5L394.4 210.6L393.9 210.6L393.1 210.7L392.4 210.8L391.6 210.8L391.4 210.9M394.4 210.4L393.6 210.4L392.9 210.5L392.1 210.5L391.4 210.6L390.6 210.5L389.9 210.3L389.4 210.1L388.9 209.8L388.5 209.6L388.1 209.2L387.7 208.8L387.4 208.4L387.1 208.1L386.7 207.6L386.4 207.1L386.2 206.6L386.0 206.1L385.8 205.6L385.7 204.8L385.7 204.1L385.8 203.3L385.9 202.8L386.1 202.1L386.3 201.6L386.5 201.1L386.7 200.6L386.9 200.1L387.0 199.3L387.1 198.8L387.1 198.1L387.1 197.3L387.1 196.8L387.0 196.1L387.0 195.3L386.9 194.6L386.9 194.0L386.8 193.3L386.8 192.6L386.7 191.8L386.7 191.1L386.6 190.3L386.6 189.6L386.6 188.8L386.6 188.1L386.6 187.3L386.6 186.6L386.6 185.8L386.6 185.1L386.7 184.3L386.7 183.6L386.7 182.8L386.7 182.1L386.7 181.3L386.6 180.6L386.6 180.1L386.5 179.3L386.4 178.6L386.3 178.1L386.2 177.3L386.1 176.8L386.0 176.1L385.9 175.3L385.9 174.6L385.9 173.8L386.0 173.1L386.1 172.5L386.2 171.8L386.4 171.3L386.6 170.6L386.8 170.1L387.0 169.6L387.3 169.1L387.6 168.6L387.9 168.3L388.2 167.8L388.6 167.5L389.1 167.1L389.5 166.8L390.1 166.6L390.6 166.6L391.1 166.6L391.9 166.8L392.4 167.0L392.9 167.2L393.4 167.5L393.9 167.8L394.2 168.1L394.6 168.4L395.1 168.8L395.5 169.1L395.9 169.3L396.4 169.6L397.1 169.7L397.9 169.7L398.6 169.6L399.1 169.5L399.9 169.4L400.4 169.3L401.1 169.2L401.9 169.2L402.6 169.2L403.4 169.2L404.1 169.3L404.6 169.4L405.4 169.5L405.9 169.6L406.6 169.8L407.1 170.0L407.6 170.2L408.1 170.5L408.6 170.8L409.1 171.1L409.4 171.3L409.9 171.7L410.2 172.1L410.6 172.6L410.8 173.1L411.0 173.6L411.1 174.3L411.0 175.1L410.8 175.6L410.6 176.1L410.3 176.6L410.0 177.1L409.6 177.6L409.4 178.0L409.0 178.3L408.7 178.8L408.4 179.3L408.1 179.8L408.0 180.3L407.8 180.8L407.8 181.6L407.8 182.3L407.8 183.1L407.9 183.7L407.9 184.3L407.9 185.1L408.0 185.8L408.0 186.6L408.0 187.3L408.0 188.1L408.0 188.8L408.0 189.6L407.9 190.3L407.8 190.8L407.7 191.6L407.6 192.1L407.4 192.8L407.2 193.3L406.9 193.8L406.7 194.3L406.4 194.8L406.1 195.3L405.8 195.6L405.4 196.1L405.1 196.4L404.7 196.8L404.3 197.1L403.9 197.5L403.4 197.8L402.9 198.1L402.4 198.3L401.9 198.6L401.5 198.8L401.1 199.3L401.1 199.8L401.3 200.3L401.5 200.8L401.7 201.3L401.9 201.8L402.1 202.3L402.3 203.1L402.4 203.6L402.4 204.3L402.3 204.8L402.2 205.6L402.0 206.1L401.7 206.6L401.4 207.1L401.1 207.5L400.7 207.8L400.4 208.2L399.9 208.6L399.5 208.8L399.0 209.1L398.5 209.3L398.0 209.6L397.4 209.8L396.9 210.0L396.2 210.1L395.6 210.2L394.9 210.3L394.4 210.4M394.6 210.1L393.9 210.2L393.1 210.2L392.4 210.2L391.6 210.3L390.9 210.2L390.3 210.1L389.6 209.9L389.1 209.6L388.7 209.3L388.4 209.1L387.9 208.6L387.6 208.3L387.2 207.8L386.9 207.3L386.6 206.9L386.4 206.3L386.2 205.8L386.1 205.3L386.0 204.6L386.0 203.8L386.1 203.1L386.2 202.6L386.4 202.1L386.6 201.6L386.9 200.9L387.1 200.3L387.2 199.8L387.4 199.3L387.4 198.6L387.5 197.8L387.4 197.1L387.4 196.3L387.3 195.8L387.2 195.1L387.2 194.3L387.1 193.6L387.1 193.1L387.0 192.3L387.0 191.6L387.0 190.8L386.9 190.1L386.9 189.3L386.9 188.6L386.9 187.8L386.9 187.1L386.9 186.3L386.9 185.6L387.0 184.8L387.0 184.1L387.0 183.3L387.0 182.6L387.0 181.8L387.0 181.1L386.9 180.3L386.8 179.8L386.7 179.1L386.6 178.3L386.5 177.8L386.4 177.1L386.3 176.6L386.2 175.8L386.2 175.1L386.2 174.3L386.2 173.6L386.3 172.8L386.4 172.3L386.6 171.6L386.7 171.1L386.9 170.6L387.1 170.1L387.4 169.6L387.7 169.1L388.0 168.6L388.4 168.2L388.7 167.8L389.1 167.6L389.6 167.3L390.1 167.1L390.9 167.0L391.5 167.1L392.1 167.3L392.6 167.5L393.1 167.8L393.5 168.1L393.9 168.3L394.4 168.7L394.8 169.1L395.1 169.4L395.6 169.8L396.1 170.1L396.6 170.3L397.1 170.4L397.9 170.4L398.4 170.3L399.1 170.1L399.6 170.0L400.4 169.9L400.9 169.8L401.6 169.7L402.4 169.7L403.1 169.7L403.9 169.8L404.5 169.8L405.1 170.0L405.7 170.1L406.4 170.3L406.9 170.5L407.4 170.7L407.9 171.0L408.4 171.3L408.8 171.6L409.1 171.8L409.6 172.3L409.9 172.8L410.1 173.3L410.3 173.8L410.3 174.6L410.1 175.3L409.9 175.8L409.7 176.3L409.4 176.8L409.1 177.2L408.7 177.6L408.4 178.1L408.1 178.4L407.8 178.8L407.5 179.3L407.2 179.8L407.0 180.3L406.9 181.1L406.9 181.8L406.9 182.6L407.0 183.3L407.0 184.1L407.1 184.7L407.2 185.3L407.3 186.1L407.3 186.8L407.4 187.3L407.4 188.1L407.4 188.8L407.4 189.6L407.4 190.3L407.3 190.8L407.2 191.6L407.1 192.1L406.9 192.8L406.6 193.3L406.4 193.8L406.1 194.3L405.9 194.8L405.6 195.1L405.2 195.6L404.9 196.0L404.5 196.3L404.1 196.7L403.6 197.0L403.1 197.3L402.6 197.6L402.1 197.8L401.6 198.1L401.1 198.3L400.6 198.5L400.1 198.8L400.0 199.3L400.3 199.8L400.6 200.3L400.9 200.7L401.1 201.1L401.4 201.6L401.6 202.1L401.9 202.8L402.0 203.3L402.1 204.1L402.0 204.8L401.9 205.5L401.6 206.1L401.4 206.6L401.1 207.0L400.8 207.3L400.4 207.8L400.1 208.1L399.6 208.5L399.1 208.8L398.6 209.1L398.1 209.3L397.6 209.5L397.1 209.6L396.4 209.8L395.9 209.9L395.1 210.1L394.6 210.1" stroke="#383838" stroke-width="0.6"/>
<path d="M394.6 209.9L393.9 209.9L393.1 210.0L392.4 210.0L391.6 210.0L390.9 209.9L390.4 209.8L389.8 209.6L389.3 209.3L388.9 209.1L388.4 208.7L388.0 208.3L387.6 207.9L387.4 207.5L387.1 207.1L386.8 206.6L386.6 206.1L386.4 205.3L386.3 204.8L386.3 204.1L386.3 203.3L386.5 202.8L386.6 202.3L386.9 201.7L387.1 201.1L387.3 200.6L387.5 200.1L387.6 199.6L387.8 198.8L387.8 198.1L387.8 197.3L387.7 196.6L387.7 195.8L387.6 195.3L387.5 194.6L387.5 193.8L387.4 193.1L387.4 192.3L387.3 191.8L387.3 191.1L387.3 190.3L387.2 189.6L387.2 188.8L387.2 188.1L387.2 187.3L387.2 186.6L387.3 185.8L387.3 185.1L387.3 184.3L387.3 183.6L387.4 183.1L387.4 182.3L387.3 181.8L387.3 181.1L387.2 180.3L387.1 179.6L387.0 179.1L386.9 178.3L386.8 177.8L386.7 177.1L386.6 176.5L386.5 175.8L386.5 175.1L386.5 174.3L386.5 173.6L386.6 172.8L386.7 172.3L386.9 171.7L387.0 171.1L387.2 170.6L387.4 170.1L387.7 169.6L388.1 169.1L388.4 168.7L388.7 168.3L389.1 168.1L389.6 167.8L390.1 167.6L390.9 167.5L391.6 167.6L392.1 167.7L392.6 168.0L393.1 168.3L393.5 168.6L393.9 168.8L394.4 169.3L394.7 169.6L395.1 170.0L395.5 170.3L395.9 170.7L396.4 171.0L396.9 171.1L397.6 171.2L398.1 171.1L398.8 170.8L399.4 170.7L399.9 170.6L400.6 170.4L401.1 170.3L401.9 170.3L402.6 170.2L403.4 170.3L404.1 170.3L404.6 170.4L405.4 170.6L405.9 170.7L406.4 170.9L406.9 171.1L407.4 171.4L407.9 171.7L408.4 172.1L408.6 172.3L409.0 172.8L409.3 173.3L409.4 173.8L409.5 174.6L409.4 175.2L409.1 175.8L408.9 176.2L408.6 176.6L408.2 177.1L407.9 177.5L407.5 177.8L407.1 178.3L406.9 178.7L406.5 179.1L406.3 179.6L406.1 180.1L405.9 180.8L405.8 181.3L405.9 181.8L405.9 182.6L406.0 183.3L406.1 183.8L406.2 184.6L406.4 185.3L406.5 185.8L406.6 186.6L406.7 187.1L406.8 187.8L406.8 188.6L406.9 189.1L406.9 189.8L406.9 190.4L406.8 191.1L406.6 191.8L406.5 192.3L406.3 192.8L406.1 193.4L405.9 193.9L405.6 194.3L405.2 194.8L404.9 195.3L404.6 195.6L404.1 196.1L403.7 196.3L403.4 196.6L402.9 196.9L402.4 197.2L401.9 197.4L401.1 197.6L400.6 197.7L400.0 197.8L399.4 198.0L398.6 198.0L397.9 198.0L397.4 197.8L396.9 197.5L396.4 197.2L395.9 196.8L395.5 196.6L395.1 196.3L394.6 196.1L393.9 196.1L393.6 196.3L393.4 197.1L393.6 197.7L394.1 198.0L394.6 198.2L395.4 198.3L396.1 198.3L396.9 198.3L397.4 198.4L397.9 198.6L398.4 198.9L398.8 199.3L399.1 199.6L399.6 200.0L399.9 200.3L400.4 200.8L400.6 201.2L400.9 201.6L401.2 202.1L401.4 202.6L401.6 203.3L401.7 203.8L401.7 204.6L401.6 205.1L401.4 205.8L401.1 206.3L400.9 206.8L400.6 207.2L400.2 207.6L399.9 207.9L399.4 208.3L398.9 208.6L398.4 208.8L397.9 209.1L397.4 209.3L396.9 209.5L396.3 209.6L395.6 209.8L394.9 209.8L394.6 209.9M394.9 209.6L394.1 209.7L393.4 209.7L392.6 209.7L391.9 209.7L391.1 209.6L390.6 209.5L390.1 209.3L389.5 209.1L389.1 208.8L388.6 208.5L388.2 208.1L387.9 207.7L387.6 207.3L387.2 206.8L387.0 206.3L386.8 205.8L386.6 205.1L386.6 204.6L386.6 203.8L386.7 203.3L386.8 202.6L387.0 202.1L387.2 201.6L387.4 201.1L387.6 200.6L387.9 200.1L388.1 199.3L388.2 198.8L388.2 198.1L388.2 197.3L388.1 196.6L388.1 196.1L388.0 195.3L387.9 194.6L387.9 194.0L387.8 193.3L387.7 192.6L387.7 191.8L387.6 191.1L387.6 190.3L387.6 189.8L387.6 189.1L387.6 188.3L387.6 187.6L387.6 186.8L387.6 186.3L387.6 185.6L387.7 184.8L387.7 184.1L387.7 183.3L387.7 182.6L387.7 181.8L387.7 181.1L387.6 180.3L387.5 179.8L387.4 179.1L387.3 178.6L387.1 177.8L387.0 177.3L386.9 176.6L386.8 176.1L386.8 175.3L386.7 174.6L386.8 173.8L386.8 173.1L386.9 172.6L387.1 171.9L387.3 171.3L387.5 170.8L387.7 170.3L388.0 169.8L388.3 169.3L388.6 169.0L389.1 168.6L389.4 168.3L390.0 168.1L390.6 168.0L391.4 168.0L391.9 168.1L392.4 168.3L392.9 168.6L393.4 169.0L393.8 169.3L394.1 169.6L394.5 170.1L394.9 170.4L395.2 170.8L395.6 171.3L396.0 171.6L396.4 171.9L397.1 172.1L397.4 172.1L398.1 171.9L398.6 171.7L399.1 171.5L399.7 171.3L400.4 171.2L400.9 171.0L401.6 170.9L402.4 170.9L403.1 170.9L403.9 170.9L404.6 171.0L405.1 171.2L405.7 171.3L406.3 171.6L406.8 171.8L407.2 172.1L407.6 172.4L408.0 172.8L408.3 173.3L408.5 173.8L408.5 174.6L408.4 175.3L408.1 175.8L407.9 176.2L407.5 176.6L407.1 177.1L406.9 177.4L406.4 177.8L406.1 178.1L405.7 178.6L405.4 179.0L405.1 179.4L404.9 179.9L404.7 180.6L404.7 181.3L404.7 182.1L404.9 182.8L405.0 183.3L405.1 183.9L405.3 184.6L405.4 185.1L405.6 185.6L405.8 186.3L405.9 186.8L406.1 187.6L406.2 188.1L406.3 188.8L406.3 189.6L406.3 190.3L406.3 191.1L406.1 191.8L406.0 192.3L405.8 192.8L405.6 193.4L405.3 193.8L405.0 194.3L404.6 194.8L404.4 195.2L403.9 195.6L403.6 195.9L403.1 196.2L402.6 196.5L402.1 196.7L401.6 196.9L400.9 197.1L400.4 197.2L399.6 197.3L398.9 197.2L398.2 197.1L397.6 196.9L397.1 196.7L396.6 196.4L396.1 196.1L395.7 195.8L395.4 195.6L394.9 195.2L394.4 194.9L393.9 194.8L393.4 195.0L393.1 195.3L392.8 195.8L392.6 196.6L392.6 197.1L392.7 197.6L393.0 198.1L393.4 198.4L393.9 198.6L394.6 198.8L395.3 198.8L395.9 198.9L396.6 199.1L397.1 199.2L397.6 199.4L398.1 199.6L398.6 199.9L399.1 200.2L399.5 200.6L399.9 200.9L400.2 201.3L400.6 201.8L400.9 202.3L401.1 202.8L401.2 203.3L401.3 204.1L401.3 204.8L401.1 205.6L400.9 206.1L400.6 206.6L400.4 207.0L400.0 207.3L399.6 207.7L399.1 208.1L398.8 208.3L398.3 208.6L397.8 208.8L397.2 209.1L396.6 209.3L396.1 209.4L395.4 209.5L394.9 209.6M394.6 209.4L393.9 209.4L393.1 209.4L392.4 209.4L391.6 209.4L391.1 209.3L390.4 209.1L389.9 208.9L389.4 208.6L389.0 208.3L388.6 208.1L388.2 207.6L387.9 207.2L387.6 206.8L387.3 206.3L387.1 205.7L386.9 205.1L386.9 204.3L386.9 203.6L387.1 202.8L387.2 202.3L387.4 201.8L387.7 201.3L387.9 200.8L388.1 200.3L388.4 199.8L388.6 199.2L388.7 198.6L388.8 197.8L388.7 197.1L388.6 196.3L388.5 195.8L388.4 195.1L388.4 194.6L388.3 193.8L388.2 193.1L388.1 192.3L388.1 191.8L388.0 191.1L388.0 190.3L388.0 189.6L388.0 188.8L388.0 188.1L388.0 187.3L388.0 186.6L388.0 185.8L388.1 185.1L388.1 184.4L388.1 183.8L388.2 183.1L388.2 182.3L388.1 181.6L388.1 181.1L388.0 180.3L387.9 179.6L387.8 179.1L387.6 178.4L387.5 177.8L387.4 177.2L387.2 176.6L387.1 175.8L387.1 175.3L387.1 174.6L387.1 173.8L387.1 173.3L387.2 172.6L387.4 172.1L387.6 171.4L387.8 170.8L388.1 170.3L388.4 169.9L388.6 169.6L389.1 169.1L389.5 168.8L390.0 168.6L390.6 168.5L391.4 168.5L391.9 168.6L392.4 168.8L392.9 169.2L393.4 169.5L393.7 169.8L394.1 170.3L394.4 170.6L394.8 171.1L395.1 171.6L395.4 171.9L395.7 172.3L396.1 172.8L396.4 173.1L396.9 173.4L397.6 173.4L398.1 173.1L398.6 172.8L399.0 172.6L399.5 172.3L400.1 172.1L400.6 171.9L401.1 171.8L401.9 171.7L402.5 171.6L403.1 171.6L403.6 171.6L404.4 171.8L404.9 171.9L405.5 172.1L406.0 172.3L406.4 172.6L406.9 173.0L407.1 173.4L407.4 174.0L407.4 174.6L407.3 175.1L407.0 175.6L406.7 176.1L406.4 176.5L406.0 176.8L405.6 177.2L405.1 177.6L404.8 177.8L404.4 178.3L404.0 178.6L403.6 179.1L403.4 179.5L403.1 180.1L403.1 180.6L403.1 181.2L403.2 181.8L403.4 182.3L403.6 183.0L403.8 183.6L404.1 184.1L404.3 184.6L404.5 185.1L404.7 185.6L404.9 186.1L405.1 186.6L405.4 187.3L405.5 187.8L405.6 188.3L405.8 189.1L405.8 189.8L405.8 190.6L405.7 191.3L405.6 192.0L405.4 192.6L405.2 193.1L405.0 193.6L404.6 194.1L404.4 194.5L404.0 194.8L403.6 195.2L403.1 195.6L402.8 195.8L402.3 196.1L401.7 196.3L401.1 196.5L400.6 196.6L399.9 196.7L399.1 196.7L398.6 196.6L397.9 196.4L397.4 196.2L396.9 195.9L396.4 195.6L396.0 195.3L395.6 195.0L395.2 194.6L394.9 194.3L394.4 193.8L394.0 193.6L393.4 193.4L392.9 193.8L392.6 194.3L392.4 194.8L392.2 195.3L392.1 195.8L391.9 196.6L391.9 197.3L392.1 198.1L392.4 198.4L392.9 198.7L393.4 198.9L394.1 199.1L394.6 199.2L395.4 199.3L395.9 199.4L396.6 199.5L397.1 199.7L397.6 199.9L398.1 200.1L398.6 200.4L399.1 200.8L399.4 201.1L399.9 201.5L400.1 201.8L400.4 202.3L400.7 202.8L400.9 203.4L401.0 204.1L400.9 204.8L400.8 205.3L400.6 205.9L400.4 206.4L400.0 206.8L399.6 207.3L399.3 207.6L398.9 208.0L398.4 208.3L397.9 208.5L397.4 208.8L396.9 208.9L396.3 209.1L395.6 209.2L394.9 209.3L394.6 209.4M394.6 209.1L393.9 209.2L393.1 209.2L392.4 209.1L391.9 209.1L391.1 209.0L390.6 208.8L390.0 208.6L389.6 208.3L389.1 208.0L388.6 207.6L388.4 207.3L388.0 206.8L387.7 206.3L387.5 205.8L387.3 205.3L387.2 204.6L387.2 203.8L387.4 203.2L387.5 202.6L387.7 202.1L387.9 201.6L388.2 201.1L388.5 200.6L388.8 200.1L389.0 199.6L389.3 199.1L389.5 198.6L389.7 198.1L389.7 197.3L389.5 196.8L389.4 196.2L389.2 195.6L389.1 195.1L388.9 194.3L388.8 193.8L388.7 193.1L388.6 192.3L388.6 191.8L388.5 191.1L388.5 190.3L388.5 189.6L388.5 188.8L388.5 188.1L388.5 187.3L388.5 186.6L388.5 185.8L388.6 185.1L388.6 184.6L388.7 183.8L388.7 183.1L388.7 182.3L388.7 181.6L388.6 181.0L388.5 180.3L388.4 179.7L388.2 179.1L388.1 178.6L387.9 177.8L387.7 177.3L387.6 176.7L387.5 176.1L387.4 175.3L387.4 174.6L387.4 173.8L387.5 173.1L387.6 172.6L387.8 171.8L388.0 171.3L388.3 170.8L388.6 170.3L388.9 170.0L389.3 169.6L389.6 169.3L390.1 169.1L390.9 169.0L391.6 169.1L392.1 169.3L392.6 169.6L393.0 169.8L393.4 170.2L393.7 170.6L394.1 171.1L394.4 171.4L394.6 171.8L394.9 172.3L395.1 172.8L395.4 173.4L395.6 174.1L395.7 174.6L395.8 175.3L395.8 176.1L395.6 176.7L395.4 177.3L395.2 177.8L394.9 178.3L394.6 178.8L394.4 179.3L394.1 179.7L393.8 180.1L393.5 180.6L393.3 181.1L393.1 181.6L392.9 182.3L392.9 182.9L392.8 183.6L392.9 184.1L393.0 184.8L393.1 185.6L393.2 186.1L393.4 186.6L393.7 186.8L394.1 186.6L394.4 186.1L394.8 185.6L395.1 185.1L395.4 184.7L395.6 184.2L395.9 183.8L396.2 183.3L396.5 182.8L396.9 182.4L397.1 182.1L397.6 181.7L398.0 181.3L398.4 181.1L399.1 180.9L399.9 181.1L400.3 181.3L400.6 181.6L401.1 182.1L401.4 182.4L401.7 182.8L402.1 183.3L402.4 183.7L402.7 184.1L403.1 184.6L403.4 185.0L403.6 185.4L403.9 185.8L404.2 186.3L404.5 186.8L404.7 187.3L404.9 187.8L405.1 188.6L405.2 189.1L405.3 189.8L405.3 190.6L405.2 191.3L405.1 191.9L404.9 192.6L404.7 193.1L404.4 193.6L404.1 194.0L403.8 194.3L403.4 194.8L403.0 195.1L402.6 195.4L402.1 195.6L401.6 195.9L400.9 196.1L400.4 196.1L399.6 196.2L399.0 196.1L398.4 196.0L397.9 195.8L397.4 195.6L396.9 195.3L396.4 194.9L396.0 194.6L395.6 194.2L395.3 193.8L394.9 193.3L394.6 192.9L394.4 192.5L394.1 192.1L393.8 191.6L393.4 191.1L392.9 191.5L392.6 191.9L392.4 192.5L392.1 193.1L392.0 193.6L391.8 194.1L391.6 194.7L391.4 195.3L391.2 195.8L391.0 196.3L390.9 197.0L390.8 197.6L391.0 198.1L391.4 198.5L391.8 198.8L392.3 199.1L392.9 199.3L393.4 199.4L394.1 199.5L394.9 199.6L395.4 199.7L396.1 199.8L396.6 199.9L397.1 200.1L397.7 200.3L398.1 200.6L398.6 200.9L399.1 201.3L399.4 201.6L399.8 202.1L400.1 202.6L400.3 203.1L400.5 203.6L400.6 204.3L400.5 205.1L400.3 205.6L400.1 206.1L399.8 206.6L399.4 207.1L399.1 207.4L398.6 207.8L398.1 208.1L397.6 208.3L397.1 208.5L396.6 208.7L396.1 208.9L395.4 209.0L394.7 209.1L394.6 209.1M401.6 177.9L400.9 178.0L400.1 177.9L399.6 177.6L399.4 177.3L399.1 176.8L398.9 176.3L398.8 175.6L398.9 175.0L399.1 174.5L399.4 174.1L399.8 173.6L400.2 173.3L400.6 173.1L401.2 172.8L401.9 172.7L402.4 172.6L403.1 172.6L403.6 172.6L404.4 172.8L404.9 173.0L405.3 173.3L405.6 173.7L405.9 174.2L405.9 174.7L405.6 175.3L405.4 175.7L404.9 176.1L404.6 176.4L404.1 176.7L403.6 177.0L403.1 177.3L402.6 177.5L402.1 177.7L401.6 177.9M390.4 193.9L389.9 193.6L389.6 193.1L389.5 192.6L389.4 191.9L389.3 191.3L389.2 190.6L389.2 189.8L389.1 189.1L389.1 188.3L389.1 187.6L389.2 186.8L389.2 186.1L389.3 185.3L389.4 184.8L389.4 184.1L389.5 183.3L389.5 182.6L389.5 181.8L389.4 181.1L389.2 180.6L389.1 180.1L388.9 179.5L388.6 178.8L388.5 178.3L388.3 177.8L388.1 177.1L388.0 176.6L387.9 175.8L387.8 175.3L387.8 174.6L387.8 173.8L387.9 173.3L388.0 172.6L388.1 172.1L388.4 171.6L388.6 171.1L388.9 170.6L389.4 170.2L389.8 169.8L390.4 169.6L390.9 169.6L391.4 169.6L392.1 169.8L392.5 170.1L392.9 170.4L393.3 170.8L393.6 171.2L393.9 171.6L394.1 172.1L394.4 172.6L394.6 173.3L394.7 173.8L394.8 174.6L394.8 175.3L394.7 176.1L394.6 176.6L394.4 177.2L394.1 177.7L393.9 178.2L393.6 178.6L393.3 179.1L392.9 179.6L392.6 180.0L392.4 180.4L392.1 180.8L391.8 181.3L391.6 182.1L391.5 182.6L391.5 183.3L391.5 184.1L391.6 184.7L391.7 185.3L391.7 186.1L391.8 186.8L391.8 187.6L391.9 188.1L391.8 188.6L391.8 189.3L391.7 190.1L391.6 190.8L391.5 191.3L391.4 191.9L391.1 192.6L390.9 193.1L390.7 193.6L390.4 193.9M400.4 195.6L399.6 195.6L399.1 195.6L398.4 195.4L397.9 195.2L397.4 194.9L396.9 194.6L396.6 194.3L396.1 193.9L395.9 193.6L395.5 193.1L395.2 192.6L395.0 192.1L394.8 191.6L394.7 190.8L394.6 190.1L394.7 189.3L394.8 188.6L395.0 188.1L395.2 187.6L395.4 187.1L395.7 186.6L396.0 186.1L396.4 185.7L396.7 185.3L397.1 184.9L397.5 184.6L398.0 184.3L398.6 184.1L399.1 184.0L399.9 184.0L400.4 184.2L400.9 184.3L401.4 184.6L401.9 184.9L402.3 185.3L402.6 185.6L403.1 186.1L403.4 186.4L403.6 186.8L403.9 187.3L404.2 187.8L404.4 188.3L404.6 189.0L404.7 189.6L404.8 190.3L404.7 191.1L404.6 191.8L404.4 192.3L404.2 192.8L403.9 193.3L403.6 193.8L403.4 194.1L402.9 194.6L402.5 194.8L402.0 195.1L401.5 195.3L400.9 195.5L400.4 195.6M394.1 208.9L393.4 208.9L392.8 208.8L392.1 208.8L391.4 208.7L390.9 208.5L390.3 208.3L389.8 208.1L389.4 207.8L388.9 207.3L388.6 207.1L388.2 206.6L388.0 206.1L387.8 205.6L387.6 204.8L387.6 204.3L387.6 203.8L387.7 203.1L387.9 202.6L388.1 202.1L388.4 201.6L388.7 201.1L389.0 200.6L389.4 200.2L389.7 199.8L390.1 199.5L390.9 199.4L391.6 199.5L392.2 199.6L392.9 199.7L393.6 199.8L394.1 199.9L394.9 199.9L395.6 200.1L396.1 200.2L396.7 200.3L397.3 200.6L397.8 200.8L398.2 201.1L398.6 201.4L399.1 201.8L399.4 202.2L399.6 202.6L399.9 203.1L400.1 203.8L400.2 204.3L400.1 205.0L399.9 205.6L399.7 206.1L399.4 206.6L399.1 206.9L398.6 207.3L398.3 207.6L397.9 207.9L397.4 208.1L396.8 208.3L396.1 208.6L395.6 208.7L394.9 208.8L394.2 208.8L394.1 208.9M390.6 180.1L390.1 179.9L389.8 179.6L389.5 179.1L389.2 178.6L389.0 178.1L388.8 177.6L388.6 177.1L388.4 176.3L388.3 175.8L388.2 175.1L388.2 174.3L388.2 173.6L388.4 173.0L388.5 172.3L388.7 171.8L389.0 171.3L389.4 170.9L389.7 170.6L390.2 170.3L390.9 170.2L391.6 170.3L392.1 170.6L392.5 170.8L392.9 171.2L393.2 171.6L393.5 172.1L393.7 172.6L393.9 173.1L394.1 173.8L394.1 174.3L394.1 175.1L394.0 175.6L393.9 176.3L393.7 176.8L393.4 177.3L393.1 177.8L392.9 178.2L392.6 178.6L392.1 179.1L391.9 179.4L391.4 179.8L390.9 180.1L390.6 180.1M401.1 194.9L400.4 195.0L399.6 195.1L398.9 194.9L398.4 194.8L397.9 194.6L397.4 194.2L396.9 193.8L396.6 193.5L396.3 193.1L396.0 192.6L395.7 192.1L395.6 191.6L395.4 190.8L395.4 190.1L395.5 189.3L395.6 188.8L395.9 188.2L396.1 187.7L396.4 187.3L396.7 186.8L397.1 186.5L397.5 186.1L397.9 185.8L398.5 185.6L399.1 185.4L399.9 185.4L400.6 185.6L401.1 185.7L401.6 186.0L402.1 186.3L402.4 186.6L402.9 187.0L403.1 187.3L403.5 187.8L403.7 188.3L403.9 188.8L404.1 189.5L404.2 190.1L404.2 190.8L404.1 191.5L403.9 192.1L403.7 192.6L403.5 193.1L403.1 193.6L402.8 193.8L402.4 194.3L401.9 194.6L401.4 194.8L401.1 194.9M395.6 208.4L394.9 208.5L394.1 208.6L393.4 208.6L392.6 208.5L391.9 208.4L391.4 208.3L390.7 208.1L390.1 207.8L389.7 207.6L389.4 207.3L388.9 206.8L388.6 206.4L388.4 206.0L388.1 205.4L388.0 204.8L388.0 204.1L388.1 203.3L388.2 202.8L388.4 202.3L388.7 201.8L389.0 201.3L389.4 201.0L389.7 200.6L390.1 200.3L390.8 200.1L391.4 200.0L392.1 200.1L392.6 200.1L393.4 200.2L394.1 200.2L394.9 200.3L395.4 200.4L396.1 200.6L396.6 200.7L397.1 200.9L397.6 201.2L398.1 201.5L398.5 201.8L398.9 202.2L399.2 202.6L399.4 203.1L399.6 203.6L399.7 204.3L399.6 205.1L399.5 205.6L399.2 206.1L398.9 206.6L398.6 206.9L398.1 207.3L397.6 207.6L397.1 207.8L396.6 208.1L396.1 208.2L395.6 208.4M391.4 178.4L390.6 178.5L390.1 178.3L389.7 177.8L389.4 177.4L389.1 176.8L388.9 176.3L388.8 175.8L388.7 175.1L388.7 174.3L388.7 173.6L388.9 173.1L389.1 172.4L389.4 171.9L389.6 171.6L390.1 171.2L390.6 171.0L391.4 171.0L391.9 171.2L392.3 171.6L392.6 171.9L392.9 172.3L393.1 172.8L393.4 173.6L393.4 174.1L393.4 174.8L393.4 175.4L393.2 176.1L393.0 176.6L392.7 177.1L392.4 177.5L392.1 177.8L391.6 178.3L391.4 178.4M400.6 194.4L399.9 194.5L399.1 194.4L398.6 194.2L398.1 194.0L397.6 193.6L397.3 193.3L396.9 192.8L396.6 192.4L396.4 191.9L396.2 191.3L396.1 190.6L396.2 189.8L396.4 189.1L396.6 188.6L396.9 188.1L397.1 187.8L397.5 187.3L397.9 187.1L398.4 186.8L398.9 186.6L399.6 186.5L400.4 186.5L400.9 186.7L401.4 186.9L401.9 187.2L402.3 187.6L402.6 187.9L402.9 188.3L403.2 188.8L403.4 189.3L403.6 190.1L403.6 190.8L403.5 191.6L403.3 192.1L403.1 192.6L402.7 193.1L402.4 193.5L401.9 193.8L401.4 194.1L400.9 194.3L400.6 194.4M395.1 208.1L394.4 208.2L393.6 208.2L392.9 208.2L392.1 208.1L391.6 208.0L391.1 207.8L390.5 207.6L390.1 207.3L389.6 207.0L389.2 206.6L388.9 206.1L388.6 205.6L388.5 205.1L388.4 204.3L388.4 203.6L388.6 203.0L388.9 202.5L389.1 202.1L389.5 201.6L389.9 201.2L390.4 200.9L390.9 200.7L391.4 200.6L392.1 200.5L392.9 200.5L393.6 200.6L394.1 200.6L394.9 200.7L395.6 200.8L396.1 201.0L396.6 201.1L397.1 201.4L397.6 201.7L398.1 202.1L398.4 202.3L398.8 202.8L399.0 203.3L399.2 203.8L399.3 204.6L399.1 205.3L398.9 205.8L398.6 206.2L398.3 206.6L397.9 207.0L397.4 207.3L396.9 207.6L396.4 207.8L395.9 208.0L395.2 208.1L395.1 208.1M391.1 177.1L390.6 177.1L390.1 176.8L389.8 176.3L389.5 175.8L389.4 175.1L389.3 174.6L389.4 174.0L389.5 173.3L389.7 172.8L390.1 172.3L390.4 172.1L391.1 172.0L391.6 172.2L392.1 172.6L392.4 173.0L392.6 173.6L392.6 174.1L392.6 174.8L392.5 175.3L392.4 175.9L392.1 176.3L391.6 176.8L391.2 177.1L391.1 177.1M400.6 193.7L399.9 193.7L399.1 193.6L398.6 193.4L398.1 193.1L397.8 192.8L397.4 192.3L397.1 191.8L397.0 191.3L396.9 190.6L397.0 189.8L397.1 189.3L397.4 188.8L397.8 188.3L398.1 188.1L398.6 187.7L399.1 187.5L399.9 187.4L400.6 187.6L401.1 187.8L401.6 188.1L401.9 188.3L402.3 188.8L402.6 189.3L402.8 189.8L402.9 190.3L402.9 191.0L402.7 191.6L402.5 192.1L402.2 192.6L401.9 193.0L401.4 193.3L400.9 193.6L400.6 193.7M394.4 207.9L393.6 207.9L393.1 207.8L392.4 207.8L391.7 207.6L391.1 207.4L390.6 207.2L390.1 206.8L389.8 206.6L389.4 206.1L389.1 205.6L388.9 205.1L388.9 204.5L388.9 204.1L389.0 203.3L389.2 202.8L389.5 202.3L389.9 201.9L390.3 201.6L390.7 201.3L391.4 201.1L391.9 201.0L392.6 201.0L393.4 201.0L394.1 201.0L394.9 201.1L395.4 201.2L396.0 201.3L396.6 201.6L397.1 201.8L397.5 202.1L397.9 202.4L398.2 202.8L398.5 203.3L398.7 203.8L398.7 204.6L398.6 205.3L398.4 205.8L398.1 206.2L397.7 206.6L397.4 206.9L396.9 207.2L396.4 207.4L395.8 207.6L395.1 207.8L394.4 207.8L394.4 207.9M390.9 174.6L390.9 174.2L390.9 174.6M400.6 192.7L399.9 192.8L399.1 192.6L398.6 192.3L398.4 192.1L398.1 191.6L397.9 190.8L397.9 190.1L398.1 189.6L398.5 189.1L398.9 188.8L399.5 188.6L400.1 188.6L400.6 188.7L401.1 189.0L401.5 189.3L401.8 189.8L401.9 190.3L401.9 191.1L401.8 191.6L401.4 192.1L401.1 192.4L400.6 192.7M395.1 207.4L394.4 207.5L393.6 207.5L392.9 207.4L392.4 207.3L391.6 207.1L391.1 206.9L390.6 206.6L390.3 206.3L389.9 205.8L389.6 205.4L389.4 204.8L389.4 204.1L389.6 203.3L389.8 202.8L390.1 202.5L390.6 202.1L391.0 201.8L391.6 201.6L392.1 201.5L392.9 201.4L393.6 201.4L394.4 201.4L395.1 201.6L395.6 201.7L396.1 201.9L396.6 202.1L397.1 202.4L397.5 202.8L397.9 203.3L398.1 203.8L398.2 204.3L398.1 205.0L397.9 205.6L397.6 206.0L397.2 206.3L396.9 206.6L396.4 206.9L395.9 207.1L395.1 207.3L395.1 207.4M395.1 206.9L394.4 207.0L393.6 207.0L392.9 206.9L392.4 206.8L391.7 206.6L391.2 206.3L390.9 206.1L390.4 205.6L390.2 205.1L390.0 204.6L390.1 203.8L390.3 203.3L390.6 202.9L391.0 202.6L391.4 202.3L392.0 202.1L392.6 202.0L393.4 201.9L394.1 201.9L394.9 202.0L395.4 202.1L395.9 202.3L396.4 202.6L396.9 203.0L397.2 203.3L397.4 203.8L397.5 204.6L397.4 205.3L397.1 205.7L396.7 206.1L396.4 206.4L395.9 206.6L395.2 206.8L395.1 206.9M394.6 206.4L393.9 206.5L393.1 206.4L392.6 206.3L392.1 206.1L391.6 205.8L391.2 205.3L390.9 204.8L390.9 204.1L391.1 203.6L391.5 203.1L391.9 202.8L392.6 202.6L393.1 202.5L393.9 202.5L394.6 202.5L395.1 202.7L395.6 202.9L396.1 203.2L396.5 203.6L396.7 204.1L396.7 204.8L396.4 205.3L396.1 205.7L395.6 206.1L395.1 206.3L394.6 206.4M394.4 205.6L393.6 205.6L393.1 205.5L392.6 205.3L392.2 204.8L392.1 204.3L392.3 203.8L392.6 203.6L393.2 203.3L393.9 203.3L394.4 203.3L395.0 203.6L395.4 203.9L395.6 204.6L395.3 205.1L394.9 205.4L394.4 205.6" stroke="#1e1e1e" stroke-width="0.6"/>
</g>
<rect x="388.6" y="155.6" width="55.9" height="55.2" fill="none" stroke="#aaa" stroke-width="0.8"/>
<path d="M420.8 155.6V210.8M388.6 178.5H444.5" stroke="#999" stroke-width="0.8"/>
<path d="M380.9 177.0V218.5H421.8" stroke="#222" stroke-width="1.2" fill="none"/>
<path d="M380.9 173.0L378.6 178.0L383.2 178.0Z" fill="#111"/>
<path d="M425.8 218.5L420.8 216.2L420.8 220.8Z" fill="#111"/>
<text transform="translate(379.2,198.5) rotate(-90)" class="b s2" font-size="9" text-anchor="middle" textLength="14.4" lengthAdjust="spacingAndGlyphs">CD8</text>
<text x="403.0" y="228.7" class="b s2" font-size="9" text-anchor="middle" textLength="15.4" lengthAdjust="spacingAndGlyphs">CD4</text>
<g font-size="3.2" fill="#888" style="fill:#999"><text x="383.1" y="211.8">10</text><text x="388.6" y="215.3" text-anchor="middle">10</text><text x="383.1" y="198.0">10</text><text x="402.6" y="215.3" text-anchor="middle">10</text><text x="383.1" y="184.2">10</text><text x="416.6" y="215.3" text-anchor="middle">10</text><text x="383.1" y="170.4">10</text><text x="430.5" y="215.3" text-anchor="middle">10</text><text x="383.1" y="156.6">10</text><text x="444.5" y="215.3" text-anchor="middle">10</text></g>
<g font-size="3.2" style="fill:#999"><text x="390.6" y="159.6">0.0</text><text x="442.5" y="159.6" text-anchor="end">0.0</text><text x="390.6" y="211.6">0.0</text><text x="442.5" y="211.6" text-anchor="end">0.0</text></g>
<g clip-path="url(#cp3)" fill="none">
<path d="M469.0 211.3L468.2 211.3L467.6 211.3L467.0 211.2L466.3 211.1L465.8 210.9L465.2 210.6L464.8 210.4L464.2 210.1L463.9 209.8L463.5 209.5L463.0 209.1L462.8 208.7L462.4 208.3L462.0 207.8L461.8 207.3L461.5 206.8L461.3 206.3L461.1 205.8L460.9 205.3L460.8 204.6L460.7 204.1L460.6 203.3L460.5 202.6L460.5 201.8L460.6 201.1L460.6 200.3L460.7 199.6L460.7 198.8L460.8 198.3L460.8 197.6L460.9 196.8L460.9 196.1L461.0 195.3L461.0 194.8L461.1 194.1L461.1 193.3L461.2 192.6L461.3 192.1L461.4 191.3L461.5 190.6L461.5 190.1L461.7 189.3L461.8 188.8L461.9 188.1L462.0 187.6L462.2 186.8L462.3 186.3L462.5 185.6L462.7 185.1L462.8 184.6L463.0 184.0L463.2 183.3L463.4 182.8L463.6 182.3L463.8 181.8L464.0 181.3L464.3 180.8L464.5 180.3L464.8 179.7L465.0 179.2L465.2 178.8L465.5 178.3L465.8 177.8L466.1 177.3L466.4 176.8L466.7 176.3L467.0 175.8L467.2 175.4L467.5 175.0L467.8 174.6L468.1 174.1L468.4 173.6L468.8 173.1L469.0 172.7L469.2 172.3L469.6 171.8L469.9 171.3L470.2 170.8L470.5 170.5L470.8 170.1L471.2 169.6L471.5 169.2L471.9 168.8L472.2 168.5L472.7 168.1L473.1 167.8L473.5 167.5L474.0 167.2L474.5 166.9L475.0 166.6L475.5 166.4L476.0 166.2L476.7 166.1L477.2 165.9L478.0 165.8L478.5 165.8L479.2 165.7L480.0 165.8L480.5 165.8L481.2 166.0L481.8 166.1L482.5 166.3L483.0 166.5L483.5 166.7L484.0 167.0L484.5 167.3L484.8 167.6L485.2 167.9L485.7 168.3L486.0 168.7L486.3 169.1L486.6 169.6L486.9 170.1L487.1 170.6L487.2 171.2L487.4 171.8L487.4 172.6L487.3 173.3L487.2 173.8L487.0 174.6L486.8 175.1L486.6 175.6L486.4 176.1L486.2 176.6L486.0 177.1L485.7 177.6L485.5 178.2L485.3 178.8L485.2 179.3L485.0 180.1L485.0 180.6L484.9 181.3L484.9 182.1L484.9 182.8L484.9 183.6L484.8 184.3L484.8 185.1L484.7 185.6L484.7 186.3L484.6 187.1L484.5 187.7L484.4 188.3L484.3 189.1L484.2 189.6L484.0 190.3L483.9 190.8L483.8 191.4L483.6 192.1L483.4 192.6L483.2 193.2L483.1 193.8L482.9 194.3L482.7 194.8L482.5 195.4L482.2 196.0L482.0 196.6L481.8 197.1L481.6 197.6L481.4 198.1L481.1 198.6L480.9 199.1L480.6 199.6L480.3 200.1L480.1 200.6L479.8 201.1L479.5 201.5L479.2 201.9L479.0 202.4L478.7 202.8L478.4 203.3L478.1 203.8L477.8 204.3L477.5 204.8L477.2 205.2L477.0 205.6L476.6 206.1L476.3 206.6L476.0 206.9L475.7 207.3L475.3 207.8L475.0 208.1L474.6 208.6L474.2 208.8L473.8 209.3L473.4 209.6L473.0 209.8L472.5 210.1L472.0 210.4L471.5 210.7L471.0 210.9L470.4 211.1L469.8 211.2L469.1 211.3L469.0 211.3M469.8 210.6L469.0 210.7L468.2 210.7L467.5 210.7L466.8 210.6L466.2 210.4L465.8 210.2L465.2 210.0L464.8 209.7L464.2 209.4L463.9 209.1L463.5 208.7L463.1 208.3L462.8 207.8L462.5 207.5L462.2 207.1L462.0 206.6L461.8 206.0L461.5 205.3L461.4 204.8L461.2 204.2L461.2 203.6L461.1 202.8L461.1 202.1L461.1 201.3L461.1 200.6L461.2 199.8L461.2 199.1L461.3 198.6L461.4 197.8L461.4 197.1L461.5 196.3L461.5 195.7L461.5 195.1L461.6 194.3L461.6 193.6L461.7 192.8L461.8 192.3L461.9 191.6L462.0 190.8L462.0 190.3L462.2 189.6L462.3 189.1L462.4 188.3L462.5 187.8L462.7 187.1L462.8 186.6L463.0 185.9L463.2 185.3L463.3 184.8L463.5 184.3L463.8 183.6L463.9 183.1L464.1 182.6L464.3 182.1L464.6 181.6L464.8 181.1L465.0 180.6L465.3 180.1L465.5 179.6L465.8 179.1L466.0 178.6L466.3 178.1L466.6 177.6L466.9 177.1L467.2 176.6L467.5 176.2L467.8 175.8L468.1 175.3L468.4 174.8L468.7 174.3L469.0 173.9L469.2 173.5L469.5 173.1L469.8 172.6L470.2 172.1L470.5 171.6L470.8 171.2L471.0 170.8L471.4 170.3L471.8 169.9L472.0 169.6L472.5 169.1L472.8 168.8L473.2 168.4L473.7 168.1L474.0 167.8L474.5 167.5L475.0 167.2L475.5 167.0L476.0 166.8L476.8 166.6L477.2 166.5L478.0 166.3L478.5 166.3L479.2 166.2L480.0 166.3L480.5 166.3L481.2 166.5L481.8 166.6L482.4 166.8L483.0 167.1L483.5 167.3L483.9 167.6L484.3 167.8L484.8 168.2L485.2 168.6L485.5 168.9L485.8 169.3L486.1 169.8L486.4 170.3L486.6 170.8L486.7 171.6L486.8 172.1L486.8 172.8L486.7 173.3L486.6 174.1L486.4 174.6L486.2 175.1L486.0 175.6L485.8 176.2L485.5 176.7L485.2 177.2L485.0 177.8L484.8 178.3L484.6 178.8L484.5 179.4L484.4 180.1L484.3 180.8L484.3 181.6L484.3 182.3L484.3 183.1L484.2 183.8L484.2 184.3L484.2 185.1L484.1 185.8L484.1 186.6L484.0 187.1L483.9 187.8L483.8 188.6L483.7 189.1L483.6 189.8L483.4 190.3L483.3 191.1L483.1 191.6L483.0 192.1L482.8 192.8L482.6 193.3L482.5 193.8L482.2 194.4L482.0 195.1L481.8 195.6L481.6 196.1L481.4 196.6L481.2 197.1L481.0 197.6L480.7 198.1L480.5 198.6L480.2 199.1L479.9 199.6L479.7 200.1L479.4 200.6L479.1 201.1L478.8 201.6L478.5 202.0L478.2 202.4L478.0 202.8L477.7 203.3L477.4 203.8L477.1 204.3L476.8 204.8L476.5 205.2L476.2 205.6L475.9 206.1L475.5 206.6L475.2 206.9L474.9 207.3L474.5 207.8L474.2 208.1L473.8 208.5L473.4 208.8L473.0 209.1L472.5 209.5L472.0 209.8L471.5 210.0L471.0 210.2L470.5 210.4L469.9 210.6L469.8 210.6M469.0 210.1L468.2 210.1L467.6 210.1L467.0 209.9L466.5 209.8L465.8 209.6L465.3 209.3L464.9 209.1L464.5 208.8L464.0 208.3L463.7 208.1L463.3 207.6L463.0 207.1L462.8 206.7L462.5 206.3L462.2 205.7L462.0 205.1L461.9 204.6L461.8 203.8L461.7 203.3L461.7 202.6L461.7 201.8L461.7 201.1L461.7 200.3L461.8 199.8L461.8 199.1L461.8 198.3L461.9 197.6L461.9 196.8L461.9 196.1L462.0 195.3L462.0 194.6L462.0 194.1L462.1 193.3L462.2 192.6L462.3 192.1L462.4 191.3L462.5 190.6L462.6 190.1L462.7 189.3L462.8 188.8L463.0 188.1L463.1 187.6L463.3 187.1L463.5 186.3L463.6 185.8L463.8 185.3L464.0 184.6L464.2 184.1L464.4 183.6L464.6 183.1L464.8 182.6L465.0 182.0L465.2 181.5L465.5 180.9L465.8 180.4L466.0 179.9L466.2 179.5L466.5 179.0L466.8 178.6L467.1 178.1L467.4 177.6L467.7 177.1L468.0 176.6L468.2 176.3L468.6 175.8L468.9 175.3L469.2 174.8L469.5 174.4L469.8 174.0L470.0 173.6L470.4 173.1L470.7 172.6L471.0 172.1L471.2 171.6L471.5 171.3L471.8 170.8L472.2 170.3L472.5 170.0L472.9 169.6L473.2 169.2L473.7 168.8L474.0 168.5L474.5 168.2L475.0 167.9L475.5 167.6L476.0 167.4L476.5 167.2L477.1 167.1L477.8 166.9L478.5 166.8L479.0 166.8L479.6 166.8L480.2 166.8L481.0 167.0L481.5 167.1L482.2 167.3L482.8 167.5L483.2 167.8L483.7 168.1L484.0 168.3L484.5 168.7L484.8 169.1L485.2 169.5L485.5 169.9L485.8 170.4L486.0 171.0L486.1 171.6L486.2 172.3L486.2 173.1L486.0 173.8L485.9 174.3L485.7 174.8L485.5 175.3L485.2 175.8L485.0 176.3L484.7 176.8L484.5 177.3L484.2 177.9L484.0 178.6L483.9 179.1L483.8 179.7L483.7 180.3L483.6 181.1L483.6 181.8L483.6 182.6L483.6 183.3L483.6 184.1L483.6 184.8L483.5 185.6L483.5 186.1L483.4 186.8L483.3 187.6L483.2 188.1L483.1 188.8L483.0 189.5L482.9 190.1L482.8 190.7L482.6 191.3L482.5 191.8L482.2 192.5L482.1 193.1L481.9 193.6L481.8 194.1L481.5 194.7L481.3 195.3L481.1 195.8L480.9 196.3L480.6 196.8L480.4 197.3L480.1 197.8L479.9 198.3L479.6 198.8L479.3 199.3L479.1 199.8L478.8 200.3L478.5 200.8L478.2 201.2L478.0 201.6L477.7 202.1L477.4 202.6L477.1 203.1L476.8 203.6L476.5 204.0L476.2 204.4L476.0 204.8L475.7 205.3L475.3 205.8L475.0 206.2L474.8 206.6L474.3 207.1L474.0 207.4L473.6 207.8L473.2 208.1L472.8 208.5L472.4 208.8L472.0 209.1L471.5 209.3L471.0 209.6L470.3 209.8L469.8 209.9L469.1 210.1L469.0 210.1" stroke="#5a5a5a" stroke-width="0.55"/>
<path d="M469.5 209.3L468.8 209.4L468.0 209.4L467.3 209.3L466.8 209.2L466.2 209.0L465.8 208.8L465.2 208.5L464.8 208.1L464.4 207.8L464.0 207.4L463.7 207.1L463.4 206.6L463.1 206.1L462.9 205.6L462.7 205.1L462.5 204.3L462.4 203.8L462.3 203.1L462.3 202.3L462.3 201.6L462.3 200.8L462.3 200.1L462.3 199.3L462.3 198.6L462.3 197.8L462.3 197.1L462.3 196.3L462.3 195.6L462.3 194.8L462.4 194.1L462.4 193.3L462.5 192.8L462.6 192.1L462.7 191.3L462.8 190.8L462.9 190.1L463.1 189.6L463.2 188.8L463.4 188.3L463.5 187.8L463.7 187.1L463.9 186.6L464.0 186.1L464.2 185.4L464.5 184.8L464.7 184.3L464.9 183.8L465.1 183.3L465.3 182.8L465.5 182.3L465.8 181.8L466.0 181.3L466.3 180.8L466.5 180.3L466.8 179.8L467.1 179.3L467.4 178.8L467.7 178.3L468.0 177.9L468.2 177.5L468.6 177.1L468.9 176.6L469.2 176.1L469.5 175.8L469.8 175.3L470.2 174.8L470.5 174.3L470.8 173.9L471.0 173.5L471.2 173.0L471.5 172.6L471.8 172.1L472.2 171.6L472.5 171.1L472.8 170.7L473.1 170.3L473.5 169.9L473.8 169.6L474.2 169.2L474.8 168.8L475.1 168.6L475.6 168.3L476.1 168.1L476.7 167.8L477.2 167.6L477.8 167.5L478.5 167.4L479.2 167.4L480.0 167.4L480.8 167.5L481.2 167.6L481.8 167.8L482.4 168.1L482.9 168.3L483.3 168.6L483.8 168.9L484.2 169.3L484.5 169.6L484.8 170.1L485.1 170.6L485.3 171.1L485.5 171.8L485.5 172.3L485.5 172.9L485.4 173.6L485.2 174.1L485.0 174.8L484.8 175.3L484.5 175.8L484.2 176.3L484.0 176.7L483.8 177.2L483.5 177.8L483.3 178.3L483.1 178.8L483.0 179.6L482.9 180.1L482.9 180.8L482.9 181.6L482.9 182.3L482.9 183.1L482.9 183.8L482.9 184.6L482.9 185.3L482.8 186.1L482.8 186.8L482.7 187.3L482.6 188.1L482.5 188.8L482.4 189.3L482.2 190.0L482.1 190.6L482.0 191.1L481.8 191.8L481.7 192.3L481.5 192.8L481.3 193.6L481.1 194.1L480.9 194.6L480.7 195.1L480.5 195.6L480.2 196.1L480.0 196.6L479.8 197.1L479.5 197.6L479.2 198.1L479.0 198.6L478.7 199.1L478.4 199.6L478.1 200.1L477.8 200.6L477.5 201.1L477.2 201.5L477.0 201.9L476.8 202.3L476.4 202.8L476.1 203.3L475.8 203.8L475.5 204.3L475.2 204.7L475.0 205.1L474.7 205.6L474.3 206.1L474.0 206.4L473.7 206.8L473.2 207.2L472.9 207.6L472.5 207.9L472.0 208.3L471.5 208.6L471.0 208.8L470.5 209.0L470.0 209.2L469.5 209.3M469.2 208.6L468.5 208.7L467.8 208.6L467.2 208.5L466.5 208.3L466.0 208.1L465.6 207.8L465.2 207.6L464.8 207.1L464.4 206.8L464.1 206.3L463.8 205.8L463.5 205.3L463.4 204.8L463.2 204.3L463.1 203.6L463.0 203.1L462.9 202.3L462.9 201.6L462.9 200.8L462.8 200.1L462.8 199.3L462.7 198.8L462.7 198.1L462.6 197.3L462.6 196.6L462.6 195.8L462.6 195.1L462.6 194.3L462.7 193.6L462.8 192.9L462.8 192.3L462.9 191.6L463.0 191.1L463.2 190.3L463.3 189.8L463.5 189.1L463.6 188.6L463.8 188.1L464.0 187.3L464.2 186.8L464.3 186.3L464.5 185.8L464.8 185.2L465.0 184.6L465.2 184.1L465.5 183.6L465.7 183.1L466.0 182.6L466.2 182.1L466.5 181.6L466.8 181.1L467.0 180.7L467.2 180.3L467.5 179.8L467.9 179.3L468.2 178.8L468.5 178.4L468.8 178.1L469.2 177.6L469.5 177.1L469.8 176.8L470.1 176.3L470.5 175.8L470.8 175.4L471.0 175.1L471.3 174.6L471.6 174.1L471.9 173.6L472.2 173.1L472.5 172.6L472.8 172.1L473.0 171.7L473.3 171.3L473.7 170.8L474.0 170.4L474.4 170.1L474.8 169.7L475.2 169.3L475.7 169.1L476.1 168.8L476.6 168.6L477.2 168.3L477.8 168.2L478.5 168.1L479.0 168.0L479.8 168.0L480.2 168.1L481.0 168.2L481.5 168.4L482.0 168.6L482.5 168.8L483.0 169.2L483.5 169.6L483.8 169.9L484.1 170.3L484.4 170.8L484.6 171.3L484.7 172.1L484.8 172.6L484.7 173.1L484.6 173.8L484.4 174.3L484.2 174.8L483.9 175.3L483.6 175.8L483.4 176.3L483.1 176.8L482.8 177.3L482.6 177.8L482.4 178.3L482.2 178.9L482.1 179.6L482.1 180.3L482.1 181.1L482.1 181.8L482.2 182.6L482.2 183.3L482.2 184.1L482.2 184.8L482.2 185.6L482.1 186.3L482.1 187.1L482.0 187.6L481.9 188.3L481.8 189.1L481.7 189.6L481.5 190.3L481.4 190.8L481.2 191.3L481.0 192.1L480.9 192.6L480.7 193.1L480.5 193.6L480.2 194.3L480.0 194.8L479.8 195.3L479.6 195.8L479.4 196.3L479.1 196.8L478.9 197.3L478.6 197.8L478.3 198.3L478.0 198.8L477.8 199.2L477.5 199.6L477.2 200.1L476.9 200.6L476.6 201.1L476.3 201.6L476.0 202.1L475.8 202.5L475.5 202.9L475.2 203.3L475.0 203.8L474.7 204.3L474.3 204.8L474.0 205.3L473.8 205.6L473.4 206.1L473.0 206.5L472.7 206.8L472.2 207.2L471.8 207.5L471.4 207.8L470.9 208.1L470.3 208.3L469.8 208.5L469.2 208.6M468.8 207.8L468.1 207.8L467.5 207.7L466.9 207.6L466.4 207.3L465.9 207.1L465.5 206.7L465.1 206.3L464.8 205.8L464.5 205.4L464.2 204.9L464.0 204.3L463.9 203.8L463.8 203.1L463.7 202.6L463.6 201.8L463.5 201.1L463.4 200.6L463.3 199.8L463.2 199.3L463.1 198.6L463.0 198.0L462.9 197.3L462.9 196.6L462.8 195.8L462.8 195.1L462.9 194.3L462.9 193.6L463.0 192.8L463.0 192.3L463.2 191.6L463.3 191.1L463.4 190.3L463.5 189.8L463.7 189.1L463.9 188.6L464.0 188.1L464.2 187.3L464.4 186.8L464.6 186.3L464.8 185.8L465.0 185.3L465.2 184.8L465.5 184.3L465.8 183.7L466.0 183.2L466.2 182.8L466.5 182.3L466.8 181.8L467.1 181.3L467.5 180.8L467.8 180.4L468.0 180.0L468.4 179.6L468.8 179.1L469.0 178.8L469.4 178.3L469.8 177.9L470.1 177.6L470.5 177.1L470.8 176.8L471.2 176.3L471.5 176.0L471.8 175.6L472.2 175.1L472.5 174.6L472.8 174.1L473.0 173.7L473.2 173.2L473.5 172.7L473.8 172.3L474.0 171.8L474.4 171.3L474.8 170.9L475.0 170.6L475.5 170.1L476.0 169.8L476.4 169.6L476.9 169.3L477.5 169.1L478.0 168.9L478.7 168.8L479.2 168.8L479.9 168.8L480.5 168.9L481.1 169.1L481.7 169.3L482.1 169.6L482.5 169.8L483.0 170.3L483.2 170.6L483.5 171.1L483.8 171.6L483.9 172.3L483.8 173.1L483.7 173.6L483.5 174.2L483.2 174.8L483.0 175.2L482.8 175.6L482.5 176.1L482.2 176.6L481.9 177.1L481.6 177.6L481.4 178.1L481.2 178.8L481.2 179.3L481.2 180.1L481.2 180.8L481.2 181.6L481.3 182.1L481.3 182.8L481.4 183.6L481.4 184.3L481.4 185.1L481.4 185.8L481.3 186.6L481.3 187.3L481.2 187.8L481.1 188.6L481.0 189.1L480.9 189.8L480.7 190.3L480.6 191.1L480.4 191.6L480.2 192.1L480.0 192.8L479.8 193.3L479.6 193.8L479.4 194.3L479.2 194.8L479.0 195.3L478.8 195.8L478.5 196.3L478.2 196.8L478.0 197.3L477.7 197.8L477.4 198.3L477.1 198.8L476.8 199.3L476.5 199.7L476.2 200.1L476.0 200.6L475.6 201.1L475.3 201.6L475.0 202.1L474.8 202.5L474.5 203.0L474.2 203.4L474.0 203.8L473.7 204.3L473.3 204.8L473.0 205.2L472.7 205.6L472.3 206.1L472.0 206.3L471.5 206.7L471.0 207.1L470.6 207.3L470.0 207.5L469.5 207.7L468.8 207.8L468.8 207.8M468.5 206.8L468.0 206.8L467.2 206.6L466.8 206.4L466.3 206.1L466.0 205.8L465.6 205.3L465.2 204.8L465.0 204.3L464.8 203.8L464.7 203.3L464.5 202.6L464.4 202.1L464.2 201.4L464.1 200.8L463.9 200.3L463.8 199.8L463.5 199.1L463.4 198.6L463.3 197.8L463.2 197.3L463.1 196.6L463.1 195.8L463.1 195.1L463.1 194.3L463.1 193.6L463.2 192.8L463.3 192.3L463.4 191.6L463.5 190.9L463.6 190.3L463.8 189.8L463.9 189.1L464.1 188.6L464.2 188.0L464.5 187.3L464.7 186.8L464.9 186.3L465.1 185.8L465.3 185.3L465.5 184.8L465.8 184.3L466.0 183.8L466.3 183.3L466.6 182.8L466.9 182.3L467.2 181.8L467.5 181.3L467.8 181.0L468.1 180.6L468.5 180.1L468.8 179.7L469.1 179.3L469.5 178.9L469.9 178.6L470.2 178.2L470.7 177.8L471.0 177.6L471.5 177.2L472.0 176.8L472.3 176.6L472.8 176.2L473.1 175.8L473.5 175.3L473.8 174.9L474.0 174.4L474.2 173.9L474.5 173.3L474.7 172.8L475.0 172.3L475.2 171.9L475.5 171.6L476.0 171.1L476.3 170.8L476.8 170.4L477.2 170.2L477.8 170.0L478.3 169.8L479.0 169.7L479.8 169.7L480.3 169.8L481.0 170.0L481.5 170.3L481.8 170.6L482.2 171.0L482.5 171.4L482.7 172.1L482.8 172.6L482.8 173.1L482.5 173.8L482.3 174.3L482.0 174.8L481.8 175.2L481.5 175.6L481.1 176.1L480.8 176.6L480.5 177.1L480.3 177.6L480.1 178.1L480.0 178.7L480.0 179.3L480.0 179.8L480.1 180.6L480.2 181.3L480.3 181.8L480.4 182.6L480.5 183.3L480.5 183.9L480.5 184.6L480.5 185.3L480.5 186.1L480.5 186.6L480.4 187.3L480.3 188.1L480.2 188.6L480.1 189.3L480.0 189.9L479.8 190.6L479.7 191.1L479.5 191.8L479.3 192.3L479.1 192.8L479.0 193.3L478.8 193.8L478.5 194.4L478.2 194.9L478.0 195.4L477.8 195.9L477.5 196.3L477.2 196.8L476.9 197.3L476.6 197.8L476.3 198.3L476.0 198.7L475.8 199.1L475.5 199.6L475.1 200.1L474.8 200.6L474.5 201.1L474.2 201.5L474.0 201.9L473.8 202.3L473.5 202.8L473.2 203.3L472.9 203.8L472.5 204.3L472.2 204.7L471.9 205.1L471.5 205.5L471.1 205.8L470.8 206.1L470.2 206.4L469.8 206.6L469.0 206.8L468.5 206.8" stroke="#383838" stroke-width="0.6"/>
<path d="M469.5 205.3L468.8 205.5L468.0 205.4L467.5 205.3L467.0 204.9L466.6 204.6L466.3 204.1L466.0 203.6L465.8 203.1L465.6 202.6L465.4 202.1L465.2 201.6L464.9 201.1L464.6 200.6L464.3 200.1L464.1 199.6L463.9 199.1L463.8 198.5L463.6 197.8L463.5 197.3L463.4 196.6L463.3 195.8L463.3 195.1L463.3 194.3L463.3 193.6L463.4 192.8L463.5 192.1L463.6 191.6L463.7 190.8L463.8 190.3L464.0 189.6L464.1 189.1L464.3 188.6L464.5 187.9L464.7 187.3L464.9 186.8L465.1 186.3L465.3 185.8L465.5 185.3L465.8 184.8L466.0 184.3L466.3 183.8L466.6 183.3L466.9 182.8L467.2 182.3L467.5 181.8L467.8 181.5L468.1 181.1L468.5 180.6L468.8 180.2L469.2 179.8L469.5 179.5L470.0 179.1L470.3 178.8L470.8 178.4L471.2 178.1L471.7 177.8L472.2 177.6L472.8 177.3L473.2 177.1L473.8 177.0L474.2 176.8L474.8 176.6L475.2 176.3L475.6 175.8L475.8 175.3L476.0 174.6L476.1 174.1L476.2 173.5L476.5 172.9L476.8 172.4L477.0 172.1L477.5 171.6L478.0 171.3L478.5 171.1L479.2 171.1L480.0 171.2L480.5 171.4L480.9 171.8L481.1 172.3L481.2 173.1L481.0 173.6L480.7 174.1L480.4 174.6L480.0 175.0L479.6 175.3L479.2 175.7L478.8 176.1L478.5 176.5L478.2 176.9L478.1 177.6L478.1 178.3L478.2 178.9L478.4 179.6L478.6 180.1L478.8 180.6L478.9 181.3L479.1 181.8L479.2 182.6L479.3 183.1L479.4 183.8L479.5 184.4L479.5 185.1L479.6 185.8L479.5 186.6L479.5 187.1L479.4 187.8L479.3 188.6L479.2 189.1L479.1 189.8L479.0 190.3L478.8 191.1L478.6 191.6L478.4 192.1L478.2 192.6L478.0 193.2L477.8 193.7L477.5 194.3L477.2 194.8L477.0 195.2L476.8 195.7L476.5 196.1L476.2 196.6L475.9 197.1L475.5 197.6L475.2 197.9L475.0 198.3L474.6 198.8L474.2 199.3L474.0 199.7L473.7 200.1L473.4 200.6L473.1 201.1L472.8 201.6L472.5 202.1L472.3 202.6L472.0 203.0L471.8 203.4L471.4 203.8L471.0 204.3L470.7 204.6L470.2 204.9L469.8 205.2L469.5 205.3M469.5 202.8L468.8 203.0L468.2 202.8L467.8 202.4L467.3 202.1L466.9 201.8L466.5 201.5L466.0 201.2L465.6 200.8L465.2 200.5L464.9 200.1L464.6 199.6L464.3 199.1L464.1 198.6L463.9 198.1L463.8 197.4L463.6 196.8L463.5 196.1L463.5 195.5L463.5 194.8L463.5 194.1L463.5 193.6L463.6 192.8L463.7 192.1L463.8 191.6L463.9 190.8L464.0 190.3L464.2 189.6L464.3 189.1L464.5 188.5L464.7 187.8L464.9 187.3L465.1 186.8L465.3 186.3L465.5 185.8L465.8 185.3L466.0 184.8L466.3 184.3L466.5 183.8L466.8 183.3L467.1 182.8L467.5 182.3L467.8 181.9L468.0 181.6L468.4 181.1L468.8 180.7L469.1 180.3L469.5 179.9L469.9 179.6L470.2 179.3L470.8 178.9L471.2 178.6L471.8 178.4L472.2 178.2L472.8 178.1L473.5 178.0L474.1 178.1L474.8 178.2L475.2 178.5L475.6 178.8L476.0 179.2L476.3 179.6L476.6 180.1L476.9 180.6L477.2 181.1L477.4 181.6L477.6 182.1L477.8 182.6L478.0 183.2L478.1 183.8L478.2 184.4L478.3 185.1L478.4 185.8L478.4 186.6L478.4 187.3L478.3 188.1L478.2 188.6L478.1 189.3L478.0 189.8L477.8 190.6L477.6 191.1L477.5 191.6L477.2 192.1L477.0 192.7L476.8 193.2L476.5 193.7L476.2 194.2L476.0 194.6L475.7 195.1L475.4 195.6L475.0 196.0L474.8 196.4L474.4 196.8L474.0 197.3L473.7 197.6L473.3 198.1L473.0 198.4L472.6 198.8L472.2 199.2L472.0 199.6L471.6 200.1L471.3 200.6L471.0 201.0L470.8 201.4L470.5 201.8L470.1 202.3L469.8 202.6L469.5 202.8M467.8 200.6L467.0 200.6L466.5 200.5L466.0 200.3L465.5 200.0L465.1 199.6L464.8 199.1L464.5 198.6L464.2 198.1L464.1 197.6L463.9 197.1L463.8 196.3L463.7 195.8L463.7 195.1L463.7 194.3L463.7 193.6L463.8 193.0L463.8 192.3L463.9 191.6L464.0 191.1L464.2 190.3L464.3 189.8L464.5 189.1L464.7 188.6L464.8 188.1L465.0 187.6L465.2 186.9L465.5 186.3L465.7 185.8L466.0 185.3L466.2 184.8L466.5 184.3L466.8 183.8L467.0 183.4L467.2 183.0L467.6 182.6L467.9 182.1L468.2 181.6L468.5 181.3L469.0 180.8L469.2 180.5L469.8 180.1L470.1 179.8L470.5 179.5L471.0 179.2L471.5 179.0L472.0 178.8L472.8 178.6L473.5 178.7L474.0 178.8L474.5 179.1L475.0 179.5L475.2 179.8L475.6 180.3L475.9 180.8L476.1 181.3L476.2 181.8L476.5 182.6L476.6 183.1L476.7 183.8L476.8 184.3L476.9 185.1L477.0 185.8L477.0 186.6L477.0 187.3L476.9 188.1L476.8 188.8L476.7 189.3L476.5 190.0L476.3 190.6L476.2 191.1L476.0 191.6L475.8 192.1L475.5 192.6L475.2 193.1L474.9 193.6L474.6 194.1L474.2 194.5L474.0 194.9L473.7 195.3L473.3 195.8L473.0 196.1L472.7 196.6L472.2 197.0L472.0 197.3L471.6 197.8L471.2 198.1L470.9 198.6L470.5 198.9L470.1 199.3L469.8 199.6L469.2 199.9L468.8 200.2L468.2 200.4L467.8 200.6M467.8 199.8L467.0 199.9L466.4 199.8L465.8 199.6L465.5 199.3L465.0 198.8L464.8 198.4L464.5 197.8L464.3 197.3L464.2 196.8L464.0 196.1L464.0 195.6L463.9 194.8L463.9 194.1L463.9 193.3L464.0 192.6L464.1 192.1L464.2 191.3L464.3 190.8L464.4 190.1L464.6 189.6L464.8 188.9L464.9 188.3L465.1 187.8L465.3 187.3L465.5 186.8L465.8 186.2L466.0 185.7L466.2 185.2L466.5 184.7L466.8 184.2L467.0 183.8L467.3 183.3L467.7 182.8L468.0 182.3L468.2 182.0L468.7 181.6L469.0 181.2L469.4 180.8L469.8 180.5L470.2 180.1L470.7 179.8L471.2 179.6L471.8 179.3L472.2 179.2L473.0 179.2L473.5 179.3L474.1 179.6L474.5 179.9L474.8 180.3L475.2 180.8L475.4 181.3L475.6 181.8L475.8 182.4L475.9 183.1L476.0 183.8L476.0 184.3L476.1 185.1L476.1 185.8L476.0 186.6L476.0 187.1L475.9 187.8L475.8 188.4L475.6 189.1L475.5 189.6L475.3 190.3L475.1 190.8L474.9 191.3L474.7 191.8L474.5 192.3L474.2 192.8L474.0 193.3L473.7 193.8L473.4 194.3L473.1 194.8L472.8 195.3L472.5 195.7L472.2 196.1L471.9 196.6L471.5 197.0L471.2 197.3L470.8 197.8L470.5 198.1L470.0 198.5L469.7 198.8L469.2 199.1L468.8 199.4L468.2 199.7L467.8 199.8M467.5 199.3L466.8 199.3L466.2 199.2L465.8 198.9L465.4 198.6L465.0 198.1L464.8 197.6L464.5 197.1L464.4 196.6L464.2 195.9L464.2 195.3L464.1 194.6L464.1 193.8L464.1 193.1L464.2 192.3L464.3 191.8L464.4 191.1L464.5 190.6L464.7 189.8L464.8 189.3L465.0 188.7L465.2 188.1L465.4 187.6L465.6 187.1L465.8 186.6L466.0 186.1L466.3 185.6L466.5 185.1L466.8 184.6L467.1 184.1L467.4 183.6L467.8 183.1L468.0 182.7L468.3 182.3L468.8 181.8L469.0 181.6L469.5 181.1L469.8 180.8L470.2 180.5L470.8 180.2L471.2 179.9L471.8 179.8L472.5 179.6L473.2 179.8L473.8 180.0L474.1 180.3L474.5 180.7L474.8 181.1L475.0 181.6L475.2 182.3L475.4 182.8L475.5 183.5L475.6 184.1L475.6 184.8L475.6 185.6L475.6 186.3L475.5 186.8L475.4 187.6L475.3 188.3L475.1 188.8L475.0 189.4L474.8 190.1L474.6 190.6L474.5 191.1L474.2 191.6L474.0 192.2L473.8 192.7L473.5 193.2L473.2 193.7L473.0 194.1L472.7 194.6L472.4 195.1L472.1 195.6L471.8 196.0L471.5 196.3L471.1 196.8L470.8 197.2L470.4 197.6L470.0 198.0L469.6 198.3L469.2 198.6L468.8 198.9L468.2 199.1L467.7 199.3L467.5 199.3M467.5 198.8L466.8 198.8L466.2 198.6L465.8 198.3L465.5 198.1L465.1 197.6L464.9 197.1L464.7 196.6L464.5 195.8L464.4 195.3L464.4 194.6L464.3 193.8L464.4 193.1L464.4 192.3L464.5 191.8L464.6 191.1L464.8 190.4L464.9 189.8L465.0 189.3L465.2 188.6L465.4 188.1L465.6 187.6L465.8 187.1L466.0 186.6L466.3 186.1L466.5 185.6L466.8 185.1L467.1 184.6L467.4 184.1L467.7 183.6L468.0 183.1L468.2 182.8L468.7 182.3L469.0 181.9L469.4 181.6L469.8 181.2L470.2 180.9L470.8 180.6L471.2 180.3L471.8 180.2L472.5 180.1L473.2 180.3L473.6 180.6L474.0 180.9L474.3 181.3L474.6 181.8L474.8 182.3L475.0 183.0L475.1 183.6L475.2 184.3L475.2 185.1L475.2 185.8L475.2 186.6L475.1 187.3L475.0 187.8L474.8 188.6L474.7 189.1L474.5 189.8L474.3 190.3L474.2 190.8L474.0 191.3L473.8 191.9L473.5 192.4L473.2 193.0L473.0 193.4L472.8 193.9L472.5 194.3L472.2 194.8L471.9 195.3L471.5 195.8L471.2 196.1L470.9 196.6L470.5 197.0L470.2 197.3L469.8 197.7L469.3 198.1L468.9 198.3L468.4 198.6L467.8 198.8L467.5 198.8M467.5 198.3L466.9 198.3L466.2 198.1L465.9 197.8L465.5 197.4L465.2 196.9L465.0 196.4L464.8 195.8L464.7 195.3L464.6 194.6L464.6 193.8L464.6 193.1L464.7 192.3L464.8 191.7L464.9 191.1L465.0 190.3L465.1 189.8L465.3 189.3L465.5 188.6L465.7 188.1L465.8 187.6L466.1 187.1L466.3 186.6L466.5 186.1L466.8 185.6L467.0 185.1L467.3 184.6L467.6 184.1L468.0 183.6L468.2 183.2L468.6 182.8L469.0 182.4L469.3 182.1L469.8 181.7L470.2 181.3L470.7 181.1L471.2 180.8L471.8 180.7L472.5 180.6L473.0 180.8L473.5 181.1L473.9 181.6L474.2 182.1L474.4 182.6L474.6 183.1L474.8 183.7L474.8 184.3L474.9 185.1L474.9 185.8L474.8 186.6L474.8 187.1L474.7 187.8L474.5 188.5L474.4 189.1L474.2 189.6L474.0 190.3L473.8 190.8L473.7 191.3L473.4 191.8L473.2 192.3L473.0 192.8L472.7 193.3L472.4 193.8L472.2 194.3L471.8 194.8L471.5 195.3L471.2 195.6L470.9 196.1L470.5 196.5L470.2 196.8L469.8 197.2L469.3 197.6L468.9 197.8L468.4 198.1L467.8 198.3L467.5 198.3M468.2 197.6L467.5 197.8L466.8 197.7L466.2 197.4L465.9 197.1L465.5 196.6L465.3 196.1L465.1 195.6L465.0 194.9L464.9 194.3L464.9 193.6L464.9 192.8L465.0 192.1L465.0 191.6L465.2 190.8L465.3 190.3L465.4 189.6L465.6 189.1L465.8 188.5L466.0 187.8L466.2 187.3L466.4 186.8L466.7 186.3L466.9 185.8L467.2 185.3L467.5 184.8L467.8 184.4L468.0 184.0L468.4 183.6L468.8 183.1L469.0 182.8L469.5 182.3L469.8 182.1L470.2 181.7L470.8 181.5L471.2 181.3L472.0 181.2L472.7 181.3L473.2 181.6L473.5 181.9L473.8 182.3L474.1 182.8L474.2 183.3L474.4 184.1L474.5 184.8L474.5 185.3L474.5 186.1L474.5 186.6L474.4 187.3L474.3 188.1L474.2 188.6L474.0 189.3L473.9 189.8L473.7 190.3L473.5 190.8L473.2 191.5L473.0 192.1L472.8 192.6L472.5 193.1L472.2 193.5L472.0 194.0L471.8 194.3L471.4 194.8L471.1 195.3L470.8 195.7L470.4 196.1L470.0 196.5L469.6 196.8L469.2 197.1L468.8 197.4L468.2 197.6M468.2 197.1L467.5 197.2L466.9 197.1L466.4 196.8L466.0 196.3L465.8 195.9L465.5 195.3L465.4 194.8L465.3 194.1L465.2 193.6L465.2 192.8L465.2 192.3L465.3 191.6L465.4 190.8L465.5 190.3L465.7 189.6L465.9 189.1L466.0 188.6L466.2 188.0L466.5 187.3L466.7 186.8L467.0 186.3L467.2 185.8L467.5 185.3L467.8 184.9L468.0 184.6L468.4 184.1L468.8 183.6L469.0 183.3L469.5 182.8L469.8 182.6L470.2 182.3L470.8 182.0L471.3 181.8L472.0 181.8L472.5 181.9L473.0 182.2L473.3 182.6L473.6 183.1L473.8 183.6L474.0 184.1L474.1 184.8L474.2 185.6L474.2 186.3L474.1 187.1L474.0 187.7L473.9 188.3L473.8 189.0L473.6 189.6L473.4 190.1L473.2 190.6L473.0 191.3L472.8 191.8L472.5 192.3L472.3 192.8L472.0 193.3L471.8 193.7L471.5 194.1L471.2 194.6L470.8 195.1L470.5 195.4L470.1 195.8L469.8 196.1L469.2 196.5L468.8 196.8L468.3 197.1L468.2 197.1M468.5 196.3L467.8 196.5L467.0 196.3L466.6 196.1L466.2 195.6L466.0 195.1L465.8 194.6L465.7 194.1L465.6 193.3L465.6 192.6L465.7 191.8L465.8 191.1L465.9 190.6L466.0 189.9L466.2 189.3L466.3 188.8L466.5 188.3L466.8 187.6L467.0 187.1L467.2 186.6L467.5 186.1L467.8 185.6L468.0 185.2L468.3 184.8L468.7 184.3L469.0 183.9L469.4 183.6L469.8 183.2L470.2 182.9L470.8 182.6L471.2 182.5L472.0 182.5L472.5 182.7L472.9 183.1L473.2 183.6L473.4 184.1L473.6 184.6L473.7 185.3L473.7 186.1L473.7 186.8L473.6 187.6L473.5 188.3L473.4 188.8L473.2 189.4L473.1 190.1L472.9 190.6L472.7 191.1L472.5 191.6L472.2 192.1L472.0 192.6L471.7 193.1L471.4 193.6L471.1 194.1L470.8 194.5L470.5 194.8L470.0 195.3L469.7 195.6L469.2 195.9L468.8 196.2L468.5 196.3M468.8 195.4L468.0 195.5L467.2 195.3L466.9 195.1L466.6 194.6L466.4 194.1L466.2 193.5L466.2 192.8L466.2 192.1L466.2 191.3L466.3 190.8L466.5 190.1L466.6 189.6L466.8 189.0L467.0 188.3L467.2 187.8L467.4 187.3L467.6 186.8L467.9 186.3L468.2 185.8L468.5 185.4L468.8 185.0L469.2 184.6L469.5 184.2L470.0 183.8L470.5 183.6L471.0 183.4L471.8 183.4L472.2 183.6L472.6 184.1L472.9 184.6L473.1 185.1L473.2 185.8L473.2 186.6L473.2 187.3L473.1 188.1L473.0 188.6L472.8 189.3L472.7 189.8L472.5 190.3L472.2 190.9L472.0 191.5L471.8 192.0L471.5 192.4L471.2 192.9L471.0 193.3L470.6 193.8L470.2 194.2L469.9 194.6L469.5 194.9L469.0 195.2L468.8 195.4M469.0 193.9L468.2 194.0L467.8 193.8L467.4 193.3L467.2 192.8L467.1 192.1L467.2 191.3L467.3 190.8L467.6 190.3L467.8 190.1L468.2 190.6L468.5 191.0L469.0 191.3L469.5 191.4L470.0 191.3L470.4 190.8L470.5 190.3L470.5 189.8L470.2 189.3L469.8 188.8L469.2 188.6L468.5 188.7L468.1 188.3L468.2 187.7L468.5 187.1L468.7 186.6L469.0 186.1L469.3 185.8L469.7 185.3L470.1 185.1L470.6 184.8L471.2 184.8L471.8 185.0L472.0 185.3L472.2 185.8L472.4 186.6L472.4 187.3L472.4 188.1L472.2 188.6L472.0 189.3L471.8 189.8L471.6 190.3L471.3 190.8L471.0 191.2L470.8 191.7L470.5 192.2L470.2 192.7L470.0 193.1L469.5 193.6L469.2 193.8L469.0 193.9" stroke="#1e1e1e" stroke-width="0.6"/>
</g>
<rect x="462.0" y="154.8" width="54.3" height="54.8" fill="none" stroke="#aaa" stroke-width="0.8"/>
<path d="M498.8 154.8V209.6M462.0 173.0H516.3" stroke="#999" stroke-width="0.8"/>
<path d="M454.0 173.8V217.2H495.2" stroke="#222" stroke-width="1.2" fill="none"/>
<path d="M454.0 169.8L451.7 174.8L456.3 174.8Z" fill="#111"/>
<path d="M499.2 217.2L494.2 214.9L494.2 219.5Z" fill="#111"/>
<text transform="translate(452.7,193.4) rotate(-90)" class="b s2" font-size="9" text-anchor="middle" textLength="19.2" lengthAdjust="spacingAndGlyphs">CD25</text>
<text x="477.6" y="225.2" class="b s2" font-size="9" text-anchor="middle" textLength="20.0" lengthAdjust="spacingAndGlyphs">CD44</text>
<g font-size="3.2" fill="#888" style="fill:#999"><text x="456.5" y="210.6">10</text><text x="462.0" y="214.1" text-anchor="middle">10</text><text x="456.5" y="196.9">10</text><text x="475.6" y="214.1" text-anchor="middle">10</text><text x="456.5" y="183.2">10</text><text x="489.1" y="214.1" text-anchor="middle">10</text><text x="456.5" y="169.5">10</text><text x="502.7" y="214.1" text-anchor="middle">10</text><text x="456.5" y="155.8">10</text><text x="516.3" y="214.1" text-anchor="middle">10</text></g>
<g font-size="3.2" style="fill:#999"><text x="464.0" y="158.8">0.0</text><text x="514.3" y="158.8" text-anchor="end">0.0</text><text x="464.0" y="210.4">0.0</text><text x="514.3" y="210.4" text-anchor="end">0.0</text></g>
<!--CEND-->
</g>

<!-- ============ PANEL D ============ -->
<g id="D">
<text x="221.3" y="254" class="b" font-size="19.5">D</text>
<path d="M278.6 256V321.5" stroke="#f0f0f0" stroke-width="1"/>
<rect x="447.3" y="269.6" width="70" height="40.4" fill="none" stroke="#f2f2f2" stroke-width="1"/>
<g font-size="9" class="b s2" text-anchor="end">
<text x="272.3" y="261.5">90</text>
<text x="272.3" y="268.7">80</text>
<text x="272.3" y="275.8">70</text>
<text x="272.3" y="283">60</text>
<text x="272.3" y="290.1">50</text>
<text x="272.3" y="297.3">40</text>
<text x="272.3" y="304.5">30</text>
<text x="272.3" y="311.6">20</text>
<text x="272.3" y="318.8">10</text>
<text x="272.3" y="325.9">0</text>
</g>
<text transform="translate(257.2,309.2) rotate(-90)" font-size="8" class="b s2" textLength="41.5" lengthAdjust="spacingAndGlyphs">% Dead Cells</text>
<g stroke="#000" stroke-width="0.9">
<rect x="285.6" y="309.65" width="10" height="11.85" fill="#fff"/>
<rect x="295.6" y="314.45" width="8.8" height="7.05" fill="#000"/>
<rect x="304.4" y="307.55" width="10.1" height="13.95" fill="url(#hatch)"/>
<rect x="328.4" y="294.65" width="9.2" height="26.85" fill="#fff"/>
<rect x="337.6" y="283.75" width="9.3" height="37.75" fill="#000"/>
<rect x="346.9" y="279.95" width="9.3" height="41.55" fill="url(#hatch)"/>
<rect x="369.7" y="313.75" width="9.4" height="7.75" fill="#fff"/>
<rect x="379.1" y="307.35" width="9.6" height="14.15" fill="#000"/>
<rect x="388.7" y="313.75" width="9.3" height="7.75" fill="url(#hatch)"/>
<rect x="411.3" y="291.55" width="9.9" height="29.95" fill="#fff"/>
<rect x="421.2" y="281.15" width="9.5" height="40.35" fill="#000"/>
<rect x="430.7" y="266.15" width="9.5" height="55.35" fill="url(#hatch)"/>
<rect x="450.6" y="274.1" width="4.6" height="4.9" fill="#fff"/>
<rect x="450.6" y="288.3" width="4.6" height="4.9" fill="#000"/>
<rect x="450.6" y="302.1" width="4.6" height="4.9" fill="url(#hatch)"/>
</g>
<g font-size="9.3" class="b s2">
<text x="458.8" y="280.6" textLength="55" lengthAdjust="spacingAndGlyphs">1.0x10<tspan font-size="6" dy="-3.5">4</tspan><tspan dy="3.5"> cells</tspan></text>
<text x="458.8" y="294.5" textLength="55" lengthAdjust="spacingAndGlyphs">2.5x10<tspan font-size="6" dy="-3.5">4</tspan><tspan dy="3.5"> cells</tspan></text>
<text x="458.8" y="308.1" textLength="55" lengthAdjust="spacingAndGlyphs">5.0x10<tspan font-size="6" dy="-3.5">4</tspan><tspan dy="3.5"> cells</tspan></text>
</g>
<g font-size="7.2" class="b s2">
<text transform="translate(302.9,333.9) rotate(45)">WT on OP9</text>
<text transform="translate(344,335) rotate(45)">NanogT on OP9</text>
<text transform="translate(386.8,333.9) rotate(45)">WT on OP9-DL1</text>
<text transform="translate(428.3,333.9) rotate(45)">NanogT on OP9-DL1</text>
</g>
</g>
</svg>
</body></html>
